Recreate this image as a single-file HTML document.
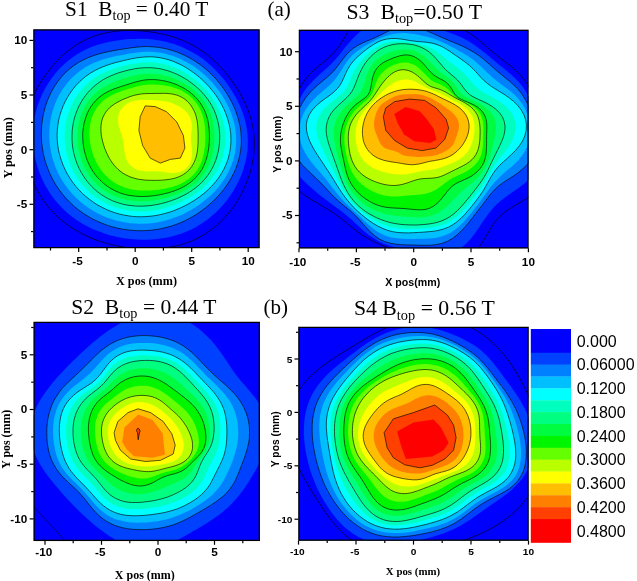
<!DOCTYPE html><html><head><meta charset="utf-8"><title>fig</title><style>
html,body{margin:0;padding:0;background:#fff}svg{display:block}
.tk{font-family:"Liberation Sans",Arial,sans-serif;font-weight:bold;fill:#000}
.ti{font-family:"Liberation Serif","Times New Roman",serif;fill:#000}
.ab{font-family:"Liberation Serif","Times New Roman",serif;font-weight:bold;fill:#000}
.as{font-family:"Liberation Sans",Arial,sans-serif;font-weight:bold;fill:#000}
.cb{font-family:"Liberation Sans",Arial,sans-serif;fill:#000}
</style></head><body>
<svg width="637" height="581" viewBox="0 0 637 581">
<rect width="637" height="581" fill="#fff"/>
<clipPath id="cs1"><rect x="33.5" y="29.5" width="226.0" height="218.5"/></clipPath>
<g clip-path="url(#cs1)">
<rect x="33.5" y="29.5" width="226.0" height="218.5" fill="#0000ff"/>
<path d="M33.0,129.9 L33.5,123.7 L34.5,117.5 L35.9,111.5 L37.6,105.5 L39.8,99.7 L42.2,94.1 L45.0,88.7 L48.1,83.4 L51.5,78.4 L55.2,73.6 L59.1,69.1 L63.3,64.9 L67.7,61.0 L72.4,57.4 L77.2,54.2 L82.2,51.3 L87.3,48.8 L92.6,46.6 L97.9,44.8 L103.2,43.3 L108.5,42.0 L113.7,41.0 L118.9,40.2 L124.0,39.6 L129.0,39.1 L133.9,38.9 L138.8,38.8 L143.7,38.8 L148.4,39.1 L153.1,39.5 L157.7,40.2 L162.3,41.0 L166.7,42.0 L171.1,43.2 L175.3,44.6 L179.5,46.1 L183.6,47.8 L187.5,49.7 L191.4,51.7 L195.1,53.8 L198.7,56.1 L202.2,58.6 L205.5,61.1 L208.7,63.8 L211.8,66.6 L214.8,69.4 L217.7,72.4 L220.4,75.5 L223.1,78.6 L225.6,81.8 L228.0,85.1 L230.3,88.5 L232.5,91.9 L234.6,95.4 L236.6,99.0 L238.5,102.7 L240.2,106.5 L241.8,110.4 L243.2,114.3 L244.5,118.3 L245.5,122.5 L246.4,126.6 L247.1,130.9 L247.6,135.1 L247.8,139.5 L247.8,143.8 L247.6,148.2 L247.2,152.6 L246.5,156.9 L245.6,161.3 L244.5,165.6 L243.2,169.9 L241.7,174.1 L239.9,178.3 L238.0,182.4 L235.9,186.5 L233.6,190.4 L231.1,194.3 L228.4,198.2 L225.6,201.9 L222.5,205.5 L219.3,209.0 L215.9,212.4 L212.3,215.6 L208.5,218.7 L204.6,221.6 L200.5,224.3 L196.2,226.9 L191.8,229.2 L187.2,231.3 L182.5,233.2 L177.7,234.8 L172.7,236.2 L167.7,237.4 L162.6,238.3 L157.4,239.1 L152.1,239.5 L146.8,239.8 L141.5,239.8 L136.1,239.6 L130.6,239.1 L125.2,238.4 L119.7,237.5 L114.2,236.3 L108.7,234.9 L103.3,233.1 L97.8,231.1 L92.5,228.9 L87.2,226.3 L82.0,223.4 L77.0,220.2 L72.1,216.7 L67.4,212.9 L62.9,208.8 L58.7,204.3 L54.7,199.7 L51.0,194.7 L47.7,189.5 L44.6,184.2 L41.9,178.6 L39.5,172.8 L37.5,166.9 L35.8,160.9 L34.5,154.8 L33.5,148.6 L32.9,142.4 L32.8,136.1Z" fill="#0040ff"/>
<path d="M41.4,130.1 L41.8,124.3 L42.6,118.5 L43.7,112.8 L45.2,107.2 L47.0,101.7 L49.2,96.4 L51.7,91.2 L54.6,86.3 L57.8,81.5 L61.3,77.1 L65.1,72.9 L69.3,69.1 L73.7,65.7 L78.4,62.6 L83.2,59.9 L88.2,57.6 L93.3,55.7 L98.4,54.1 L103.5,52.7 L108.5,51.6 L113.4,50.7 L118.1,49.8 L122.8,49.1 L127.3,48.4 L131.8,47.7 L136.3,47.2 L140.7,46.8 L145.0,46.6 L149.3,46.6 L153.6,46.9 L157.9,47.3 L162.1,48.0 L166.2,48.8 L170.3,49.9 L174.2,51.1 L178.1,52.5 L181.8,54.1 L185.5,55.8 L189.1,57.6 L192.5,59.6 L195.9,61.7 L199.1,63.9 L202.3,66.3 L205.3,68.7 L208.2,71.2 L211.0,73.9 L213.7,76.6 L216.3,79.4 L218.7,82.3 L221.1,85.3 L223.4,88.4 L225.5,91.5 L227.6,94.7 L229.5,98.0 L231.4,101.4 L233.0,104.8 L234.6,108.3 L236.0,112.0 L237.3,115.6 L238.4,119.4 L239.4,123.2 L240.2,127.1 L240.8,131.0 L241.1,135.0 L241.3,139.0 L241.3,143.0 L241.0,147.1 L240.5,151.1 L239.8,155.1 L238.9,159.1 L237.8,163.0 L236.4,166.9 L234.9,170.7 L233.1,174.4 L231.2,178.1 L229.1,181.7 L226.8,185.1 L224.4,188.5 L221.8,191.8 L219.1,195.0 L216.2,198.1 L213.2,201.1 L210.0,204.0 L206.8,206.8 L203.3,209.5 L199.8,212.1 L196.1,214.5 L192.3,216.8 L188.4,219.0 L184.4,221.0 L180.2,222.8 L175.9,224.5 L171.5,226.0 L167.0,227.3 L162.3,228.4 L157.6,229.3 L152.8,230.0 L148.0,230.5 L143.0,230.7 L138.1,230.7 L133.0,230.4 L128.0,229.9 L122.9,229.2 L117.8,228.2 L112.7,226.9 L107.7,225.4 L102.7,223.5 L97.7,221.4 L92.8,219.1 L88.1,216.4 L83.4,213.4 L78.9,210.2 L74.6,206.7 L70.4,202.9 L66.5,198.8 L62.8,194.6 L59.3,190.0 L56.1,185.3 L53.2,180.3 L50.6,175.2 L48.3,169.9 L46.3,164.5 L44.6,158.9 L43.3,153.3 L42.3,147.5 L41.6,141.7 L41.3,135.9Z" fill="#0080ff"/>
<path d="M49.4,130.3 L49.8,124.9 L50.6,119.5 L51.7,114.2 L53.2,109.0 L55.0,103.9 L57.1,99.0 L59.6,94.3 L62.3,89.7 L65.4,85.4 L68.7,81.3 L72.3,77.4 L76.1,73.9 L80.2,70.7 L84.5,67.8 L88.9,65.3 L93.5,63.1 L98.1,61.2 L102.8,59.6 L107.4,58.3 L112.0,57.1 L116.4,56.1 L120.8,55.2 L125.1,54.4 L129.4,53.6 L133.5,52.9 L137.7,52.4 L141.8,52.0 L145.9,51.8 L150.0,51.7 L154.0,51.9 L158.0,52.4 L162.0,53.0 L165.8,53.9 L169.6,54.9 L173.3,56.1 L177.0,57.5 L180.5,59.0 L183.9,60.7 L187.2,62.4 L190.4,64.3 L193.6,66.3 L196.6,68.4 L199.5,70.6 L202.3,72.9 L205.0,75.3 L207.6,77.8 L210.1,80.3 L212.6,83.0 L214.9,85.7 L217.1,88.4 L219.2,91.3 L221.3,94.2 L223.2,97.2 L225.0,100.3 L226.7,103.4 L228.3,106.6 L229.8,109.9 L231.1,113.3 L232.3,116.8 L233.4,120.3 L234.3,123.8 L235.0,127.5 L235.6,131.1 L236.0,134.9 L236.1,138.6 L236.1,142.4 L235.9,146.2 L235.4,149.9 L234.8,153.7 L233.9,157.4 L232.9,161.1 L231.6,164.7 L230.1,168.3 L228.5,171.8 L226.7,175.2 L224.7,178.5 L222.5,181.8 L220.2,184.9 L217.7,187.9 L215.1,190.9 L212.4,193.7 L209.5,196.4 L206.5,199.1 L203.4,201.6 L200.2,204.0 L196.9,206.3 L193.5,208.5 L189.9,210.6 L186.3,212.6 L182.5,214.4 L178.7,216.1 L174.7,217.6 L170.6,219.0 L166.4,220.3 L162.2,221.3 L157.8,222.2 L153.4,222.9 L148.9,223.4 L144.3,223.7 L139.6,223.7 L134.9,223.6 L130.2,223.2 L125.5,222.5 L120.7,221.6 L116.0,220.5 L111.3,219.0 L106.6,217.4 L102.0,215.4 L97.4,213.2 L93.0,210.7 L88.6,208.0 L84.4,205.0 L80.4,201.7 L76.5,198.2 L72.8,194.4 L69.3,190.4 L66.1,186.2 L63.0,181.8 L60.3,177.2 L57.8,172.4 L55.6,167.5 L53.8,162.4 L52.2,157.2 L51.0,151.9 L50.1,146.6 L49.5,141.2 L49.2,135.7Z" fill="#00bfff"/>
<path d="M57.3,130.5 L57.8,125.5 L58.6,120.5 L59.8,115.6 L61.3,110.8 L63.0,106.2 L65.1,101.7 L67.5,97.3 L70.1,93.1 L72.9,89.2 L76.0,85.4 L79.4,81.9 L82.9,78.7 L86.6,75.7 L90.5,73.1 L94.6,70.7 L98.7,68.6 L102.9,66.8 L107.1,65.2 L111.3,63.8 L115.4,62.6 L119.5,61.6 L123.5,60.6 L127.5,59.7 L131.4,58.8 L135.3,58.1 L139.1,57.5 L143.0,57.1 L146.8,56.9 L150.6,56.8 L154.4,57.0 L158.1,57.4 L161.8,58.1 L165.5,58.9 L169.0,59.9 L172.5,61.1 L175.8,62.5 L179.1,63.9 L182.3,65.5 L185.4,67.3 L188.3,69.1 L191.2,71.0 L194.0,73.0 L196.7,75.0 L199.3,77.2 L201.8,79.4 L204.3,81.7 L206.6,84.1 L208.9,86.5 L211.0,89.0 L213.1,91.6 L215.1,94.2 L217.0,96.9 L218.8,99.7 L220.5,102.5 L222.1,105.5 L223.6,108.5 L225.0,111.5 L226.2,114.7 L227.4,117.9 L228.3,121.1 L229.2,124.5 L229.9,127.8 L230.4,131.3 L230.8,134.7 L230.9,138.2 L230.9,141.7 L230.7,145.3 L230.3,148.8 L229.7,152.3 L228.9,155.8 L228.0,159.2 L226.8,162.6 L225.4,165.9 L223.9,169.2 L222.1,172.3 L220.2,175.4 L218.2,178.4 L216.0,181.3 L213.6,184.1 L211.2,186.7 L208.6,189.3 L205.9,191.8 L203.0,194.1 L200.1,196.4 L197.1,198.5 L194.0,200.6 L190.8,202.5 L187.5,204.4 L184.2,206.1 L180.7,207.8 L177.1,209.3 L173.5,210.8 L169.8,212.1 L165.9,213.2 L162.0,214.2 L158.0,215.1 L153.9,215.8 L149.7,216.3 L145.5,216.6 L141.2,216.8 L136.8,216.7 L132.5,216.4 L128.1,215.8 L123.6,215.0 L119.2,214.0 L114.8,212.7 L110.5,211.2 L106.2,209.4 L102.0,207.3 L97.8,205.1 L93.8,202.5 L89.9,199.7 L86.1,196.7 L82.5,193.5 L79.1,190.0 L75.8,186.3 L72.8,182.4 L70.0,178.3 L67.4,174.1 L65.1,169.6 L63.0,165.0 L61.3,160.3 L59.8,155.5 L58.6,150.6 L57.8,145.6 L57.3,140.6 L57.1,135.5Z" fill="#00ffff"/>
<path d="M64.8,130.7 L65.3,126.0 L66.0,121.4 L67.1,116.9 L68.5,112.4 L70.1,108.1 L72.0,103.9 L74.2,99.9 L76.6,96.0 L79.2,92.3 L82.1,88.9 L85.2,85.6 L88.4,82.6 L91.9,79.8 L95.4,77.3 L99.2,75.1 L103.0,73.1 L106.8,71.3 L110.7,69.8 L114.6,68.5 L118.4,67.3 L122.2,66.3 L125.9,65.3 L129.6,64.5 L133.3,63.8 L136.9,63.2 L140.6,62.7 L144.1,62.4 L147.7,62.3 L151.3,62.3 L154.8,62.6 L158.3,63.0 L161.7,63.6 L165.1,64.4 L168.3,65.3 L171.6,66.4 L174.7,67.7 L177.7,69.0 L180.7,70.4 L183.5,72.0 L186.3,73.6 L189.0,75.3 L191.6,77.2 L194.2,79.0 L196.6,81.0 L199.0,83.0 L201.3,85.1 L203.5,87.3 L205.6,89.6 L207.6,91.9 L209.6,94.3 L211.4,96.8 L213.2,99.3 L214.8,101.9 L216.4,104.6 L217.8,107.4 L219.2,110.2 L220.4,113.0 L221.5,116.0 L222.4,119.0 L223.3,122.0 L224.0,125.1 L224.5,128.2 L224.9,131.4 L225.2,134.6 L225.3,137.8 L225.3,141.1 L225.1,144.3 L224.7,147.5 L224.2,150.8 L223.5,154.0 L222.7,157.2 L221.6,160.3 L220.5,163.4 L219.1,166.5 L217.6,169.5 L215.9,172.4 L214.1,175.2 L212.1,178.0 L210.0,180.6 L207.8,183.2 L205.4,185.6 L202.9,188.0 L200.3,190.2 L197.6,192.3 L194.8,194.4 L191.9,196.3 L188.9,198.1 L185.8,199.8 L182.6,201.4 L179.4,202.9 L176.0,204.3 L172.6,205.6 L169.1,206.8 L165.5,207.9 L161.9,208.9 L158.1,209.7 L154.3,210.4 L150.4,210.9 L146.4,211.3 L142.4,211.4 L138.3,211.4 L134.2,211.2 L130.0,210.8 L125.8,210.1 L121.6,209.2 L117.5,208.1 L113.3,206.7 L109.3,205.0 L105.3,203.1 L101.4,201.0 L97.6,198.6 L93.9,195.9 L90.4,193.0 L87.1,189.9 L83.9,186.6 L80.9,183.1 L78.2,179.4 L75.6,175.5 L73.3,171.4 L71.3,167.2 L69.5,162.9 L68.0,158.5 L66.7,153.9 L65.7,149.4 L65.1,144.7 L64.7,140.0 L64.6,135.3Z" fill="#00ffbf"/>
<path d="M72.2,130.8 L72.7,126.6 L73.4,122.3 L74.4,118.2 L75.7,114.1 L77.2,110.1 L78.9,106.2 L80.9,102.5 L83.1,98.9 L85.5,95.5 L88.1,92.3 L91.0,89.3 L93.9,86.5 L97.1,83.9 L100.4,81.5 L103.7,79.4 L107.2,77.5 L110.7,75.9 L114.3,74.4 L117.8,73.1 L121.3,72.0 L124.9,71.0 L128.3,70.1 L131.8,69.4 L135.2,68.7 L138.6,68.2 L142.0,67.9 L145.3,67.7 L148.7,67.7 L152.0,67.8 L155.2,68.1 L158.4,68.5 L161.6,69.1 L164.7,69.9 L167.7,70.7 L170.6,71.7 L173.5,72.8 L176.3,74.0 L179.1,75.3 L181.7,76.7 L184.3,78.2 L186.8,79.7 L189.3,81.4 L191.6,83.1 L193.9,84.8 L196.1,86.7 L198.3,88.6 L200.4,90.6 L202.3,92.7 L204.2,94.8 L206.1,97.1 L207.8,99.4 L209.4,101.7 L210.9,104.2 L212.3,106.7 L213.6,109.2 L214.8,111.9 L215.8,114.6 L216.7,117.3 L217.5,120.1 L218.2,122.9 L218.8,125.8 L219.2,128.6 L219.5,131.5 L219.7,134.5 L219.7,137.4 L219.6,140.4 L219.4,143.3 L219.1,146.3 L218.7,149.2 L218.1,152.2 L217.3,155.1 L216.5,158.0 L215.5,160.9 L214.3,163.8 L213.1,166.6 L211.6,169.4 L210.0,172.0 L208.3,174.7 L206.4,177.2 L204.4,179.6 L202.2,182.0 L200.0,184.2 L197.5,186.3 L195.0,188.3 L192.4,190.2 L189.7,192.0 L186.9,193.7 L184.0,195.2 L181.0,196.7 L178.0,198.1 L174.9,199.3 L171.7,200.5 L168.5,201.6 L165.1,202.6 L161.7,203.5 L158.3,204.3 L154.7,204.9 L151.1,205.5 L147.4,205.9 L143.6,206.1 L139.8,206.2 L135.9,206.1 L131.9,205.7 L128.0,205.2 L124.0,204.5 L120.1,203.4 L116.2,202.2 L112.3,200.7 L108.6,198.9 L104.9,196.9 L101.3,194.6 L97.9,192.1 L94.7,189.4 L91.6,186.4 L88.7,183.2 L86.0,179.8 L83.6,176.3 L81.3,172.6 L79.3,168.8 L77.5,164.8 L76.0,160.8 L74.7,156.6 L73.6,152.4 L72.8,148.1 L72.3,143.8 L72.0,139.5 L72.0,135.2Z" fill="#00ff80"/>
<path d="M77.6,131.0 L78.0,127.0 L78.7,123.0 L79.7,119.1 L80.9,115.2 L82.3,111.5 L84.0,107.9 L86.0,104.5 L88.2,101.2 L90.6,98.1 L93.2,95.2 L96.1,92.5 L99.1,90.1 L102.2,87.9 L105.5,86.0 L108.8,84.2 L112.1,82.7 L115.4,81.3 L118.7,80.1 L122.0,79.0 L125.2,78.0 L128.3,77.1 L131.4,76.2 L134.5,75.5 L137.6,74.8 L140.6,74.3 L143.7,73.9 L146.7,73.7 L149.7,73.6 L152.7,73.7 L155.6,73.9 L158.6,74.3 L161.4,74.8 L164.3,75.4 L167.0,76.1 L169.7,76.9 L172.4,77.8 L175.0,78.8 L177.5,79.9 L180.0,81.1 L182.5,82.3 L184.8,83.7 L187.1,85.1 L189.4,86.6 L191.5,88.2 L193.6,89.9 L195.6,91.7 L197.6,93.5 L199.4,95.5 L201.2,97.5 L202.8,99.6 L204.4,101.7 L205.9,104.0 L207.2,106.3 L208.4,108.6 L209.6,111.0 L210.6,113.5 L211.4,116.0 L212.2,118.6 L212.9,121.1 L213.4,123.7 L213.8,126.4 L214.2,129.0 L214.4,131.7 L214.5,134.3 L214.6,137.0 L214.5,139.7 L214.4,142.4 L214.1,145.2 L213.8,147.9 L213.3,150.6 L212.7,153.3 L212.1,156.1 L211.3,158.8 L210.3,161.5 L209.2,164.2 L208.0,166.8 L206.6,169.4 L205.1,171.9 L203.5,174.4 L201.6,176.7 L199.7,179.0 L197.6,181.2 L195.4,183.2 L193.0,185.1 L190.5,186.9 L188.0,188.6 L185.3,190.2 L182.6,191.6 L179.8,192.9 L176.9,194.2 L174.0,195.3 L171.0,196.3 L167.9,197.3 L164.8,198.2 L161.6,198.9 L158.4,199.6 L155.0,200.2 L151.7,200.7 L148.2,201.0 L144.7,201.3 L141.1,201.3 L137.5,201.3 L133.8,201.0 L130.1,200.5 L126.3,199.9 L122.6,199.0 L118.9,197.8 L115.3,196.5 L111.7,194.8 L108.3,193.0 L104.9,190.9 L101.7,188.5 L98.6,185.9 L95.7,183.2 L93.0,180.2 L90.5,177.0 L88.2,173.7 L86.1,170.2 L84.2,166.6 L82.5,162.9 L81.1,159.1 L79.9,155.2 L78.9,151.2 L78.2,147.2 L77.7,143.2 L77.4,139.1 L77.4,135.0Z" fill="#00fc40"/>
<path d="M82.9,131.1 L83.4,127.3 L84.0,123.6 L85.0,120.0 L86.1,116.4 L87.5,112.9 L89.2,109.6 L91.1,106.4 L93.3,103.4 L95.7,100.6 L98.3,98.1 L101.2,95.8 L104.2,93.7 L107.4,91.9 L110.6,90.4 L113.8,89.0 L117.0,87.9 L120.2,86.8 L123.2,85.8 L126.1,84.9 L129.0,84.0 L131.8,83.1 L134.5,82.3 L137.2,81.6 L139.9,80.9 L142.6,80.3 L145.3,79.9 L148.0,79.7 L150.7,79.6 L153.4,79.6 L156.1,79.7 L158.7,80.0 L161.3,80.4 L163.8,80.8 L166.4,81.4 L168.8,82.0 L171.3,82.7 L173.7,83.6 L176.0,84.4 L178.4,85.4 L180.6,86.5 L182.8,87.6 L185.0,88.9 L187.1,90.2 L189.1,91.6 L191.1,93.2 L193.0,94.8 L194.8,96.5 L196.5,98.3 L198.1,100.1 L199.6,102.1 L201.0,104.1 L202.3,106.2 L203.5,108.4 L204.6,110.6 L205.5,112.8 L206.3,115.1 L207.1,117.5 L207.7,119.8 L208.2,122.2 L208.6,124.6 L208.9,127.0 L209.1,129.4 L209.3,131.8 L209.4,134.2 L209.4,136.6 L209.4,139.1 L209.3,141.6 L209.1,144.0 L208.9,146.5 L208.6,149.0 L208.1,151.6 L207.6,154.1 L207.0,156.7 L206.3,159.2 L205.4,161.8 L204.4,164.3 L203.3,166.8 L202.0,169.2 L200.5,171.6 L198.9,173.8 L197.1,176.0 L195.2,178.1 L193.2,180.1 L191.0,181.9 L188.7,183.6 L186.3,185.2 L183.8,186.6 L181.2,188.0 L178.6,189.2 L175.8,190.3 L173.1,191.3 L170.3,192.2 L167.4,193.0 L164.5,193.7 L161.5,194.4 L158.5,195.0 L155.4,195.5 L152.2,195.9 L149.0,196.2 L145.8,196.4 L142.4,196.5 L139.0,196.4 L135.6,196.2 L132.1,195.8 L128.7,195.3 L125.2,194.5 L121.7,193.5 L118.3,192.2 L114.9,190.7 L111.7,189.0 L108.5,187.1 L105.5,184.9 L102.6,182.5 L99.9,179.9 L97.3,177.2 L94.9,174.2 L92.8,171.1 L90.8,167.8 L89.1,164.4 L87.5,161.0 L86.2,157.4 L85.1,153.7 L84.2,150.0 L83.5,146.3 L83.0,142.5 L82.8,138.7 L82.7,134.9Z" fill="#00f600"/>
<path d="M89.4,131.3 L89.7,127.8 L90.1,124.4 L90.9,121.0 L91.8,117.7 L93.1,114.5 L94.6,111.4 L96.4,108.5 L98.4,105.7 L100.7,103.2 L103.2,100.8 L105.9,98.8 L108.8,96.9 L111.7,95.3 L114.6,93.9 L117.6,92.6 L120.5,91.5 L123.3,90.5 L126.1,89.6 L128.8,88.7 L131.5,87.9 L134.1,87.2 L136.6,86.6 L139.2,86.0 L141.7,85.5 L144.2,85.1 L146.7,84.8 L149.1,84.6 L151.6,84.6 L154.0,84.6 L156.4,84.7 L158.8,84.8 L161.2,85.0 L163.5,85.3 L165.8,85.7 L168.1,86.1 L170.4,86.6 L172.7,87.2 L174.9,87.9 L177.1,88.7 L179.2,89.6 L181.3,90.6 L183.4,91.7 L185.4,92.9 L187.3,94.2 L189.2,95.6 L190.9,97.1 L192.6,98.7 L194.2,100.4 L195.7,102.2 L197.0,104.1 L198.3,106.0 L199.4,108.0 L200.5,110.1 L201.4,112.2 L202.2,114.3 L202.9,116.5 L203.5,118.6 L204.0,120.8 L204.4,123.0 L204.7,125.2 L205.0,127.5 L205.1,129.7 L205.3,131.9 L205.3,134.1 L205.4,136.3 L205.3,138.6 L205.3,140.9 L205.1,143.1 L205.0,145.4 L204.7,147.8 L204.4,150.1 L204.0,152.5 L203.5,154.9 L202.9,157.3 L202.2,159.7 L201.3,162.1 L200.3,164.4 L199.1,166.8 L197.8,169.0 L196.3,171.2 L194.7,173.2 L192.9,175.2 L191.0,177.0 L189.0,178.7 L186.8,180.3 L184.5,181.7 L182.2,183.0 L179.7,184.2 L177.2,185.2 L174.7,186.1 L172.1,186.9 L169.5,187.6 L166.8,188.2 L164.1,188.8 L161.4,189.3 L158.6,189.7 L155.8,190.0 L152.9,190.3 L150.0,190.5 L147.1,190.6 L144.1,190.6 L141.0,190.5 L137.9,190.3 L134.8,189.9 L131.6,189.4 L128.5,188.6 L125.4,187.7 L122.3,186.6 L119.2,185.2 L116.3,183.7 L113.4,181.9 L110.7,179.9 L108.1,177.8 L105.7,175.4 L103.4,172.9 L101.3,170.2 L99.3,167.4 L97.5,164.4 L95.9,161.4 L94.5,158.3 L93.2,155.1 L92.2,151.8 L91.2,148.4 L90.5,145.1 L90.0,141.6 L89.6,138.2 L89.4,134.7Z" fill="#64ff00"/>
<path d="M101.0,131.6 L100.9,128.6 L101.0,125.7 L101.4,122.8 L102.0,120.0 L103.0,117.2 L104.3,114.6 L105.8,112.1 L107.7,109.8 L109.7,107.7 L112.0,105.8 L114.4,104.1 L116.8,102.6 L119.3,101.3 L121.8,100.0 L124.2,98.9 L126.6,98.0 L129.0,97.0 L131.3,96.2 L133.6,95.5 L135.9,94.9 L138.2,94.5 L140.4,94.1 L142.6,93.8 L144.8,93.7 L147.0,93.6 L149.1,93.5 L151.1,93.5 L153.1,93.5 L155.1,93.4 L157.1,93.4 L159.0,93.4 L161.0,93.4 L162.9,93.3 L164.9,93.4 L166.9,93.4 L168.9,93.6 L170.8,93.8 L172.8,94.1 L174.8,94.6 L176.8,95.1 L178.7,95.8 L180.6,96.7 L182.4,97.6 L184.1,98.7 L185.8,100.0 L187.3,101.3 L188.8,102.8 L190.1,104.3 L191.3,106.0 L192.4,107.7 L193.4,109.5 L194.3,111.3 L195.1,113.1 L195.7,115.0 L196.3,116.9 L196.7,118.8 L197.1,120.7 L197.4,122.6 L197.6,124.5 L197.8,126.4 L197.9,128.3 L198.0,130.2 L198.1,132.1 L198.1,133.9 L198.1,135.8 L198.1,137.7 L198.1,139.6 L198.1,141.6 L198.0,143.5 L197.9,145.5 L197.8,147.6 L197.5,149.6 L197.3,151.8 L196.9,153.9 L196.4,156.0 L195.8,158.2 L195.0,160.3 L194.1,162.4 L193.0,164.4 L191.8,166.4 L190.4,168.3 L188.9,170.0 L187.2,171.6 L185.4,173.1 L183.5,174.4 L181.4,175.6 L179.3,176.6 L177.1,177.5 L174.9,178.2 L172.7,178.7 L170.4,179.2 L168.1,179.5 L165.8,179.8 L163.5,180.0 L161.2,180.2 L158.8,180.3 L156.5,180.3 L154.2,180.4 L151.8,180.3 L149.4,180.3 L146.9,180.2 L144.5,180.0 L142.0,179.7 L139.4,179.4 L136.9,178.9 L134.4,178.2 L131.8,177.5 L129.3,176.5 L126.9,175.4 L124.5,174.1 L122.2,172.7 L120.0,171.0 L118.0,169.3 L116.0,167.3 L114.2,165.3 L112.5,163.1 L110.9,160.8 L109.4,158.4 L108.1,156.0 L106.9,153.5 L105.8,150.9 L104.7,148.3 L103.8,145.6 L103.0,142.9 L102.3,140.1 L101.7,137.3 L101.2,134.4Z" fill="#b9ff00"/>
<path d="M120.6,132.0 L120.0,130.0 L119.4,128.0 L118.8,125.9 L118.4,123.7 L118.2,121.4 L118.1,119.2 L118.3,116.9 L118.7,114.7 L119.4,112.6 L120.4,110.6 L121.6,108.7 L123.0,107.0 L124.7,105.4 L126.5,104.1 L128.5,103.0 L130.5,102.1 L132.7,101.3 L134.8,100.8 L137.0,100.4 L139.2,100.1 L141.3,99.9 L143.3,99.9 L145.3,99.9 L147.2,99.9 L149.1,99.9 L150.9,100.0 L152.6,100.1 L154.3,100.2 L156.0,100.3 L157.6,100.4 L159.2,100.5 L160.8,100.7 L162.4,100.9 L163.9,101.1 L165.5,101.4 L167.0,101.7 L168.5,102.1 L170.1,102.6 L171.5,103.1 L173.0,103.6 L174.5,104.2 L175.9,104.9 L177.4,105.6 L178.8,106.3 L180.2,107.1 L181.6,108.0 L182.9,109.0 L184.2,110.0 L185.4,111.1 L186.6,112.3 L187.6,113.5 L188.6,114.9 L189.5,116.3 L190.2,117.8 L190.8,119.4 L191.3,120.9 L191.6,122.6 L191.8,124.2 L191.9,125.8 L191.8,127.5 L191.8,129.1 L191.6,130.7 L191.5,132.2 L191.3,133.8 L191.2,135.3 L191.1,136.8 L191.0,138.4 L191.1,140.0 L191.2,141.6 L191.3,143.4 L191.5,145.2 L191.7,147.1 L191.9,149.1 L192.0,151.1 L192.0,153.3 L191.9,155.5 L191.6,157.7 L191.2,159.9 L190.5,162.0 L189.5,164.0 L188.4,165.9 L187.0,167.6 L185.4,169.1 L183.6,170.3 L181.7,171.3 L179.7,172.0 L177.5,172.6 L175.4,172.8 L173.2,172.9 L171.0,172.9 L168.9,172.7 L166.8,172.5 L164.8,172.2 L162.9,171.9 L160.9,171.6 L159.1,171.5 L157.2,171.3 L155.3,171.3 L153.4,171.3 L151.4,171.3 L149.4,171.3 L147.3,171.4 L145.2,171.3 L143.1,171.1 L141.0,170.8 L138.8,170.3 L136.8,169.7 L134.8,168.8 L133.0,167.6 L131.3,166.3 L129.8,164.8 L128.4,163.1 L127.3,161.2 L126.4,159.2 L125.7,157.2 L125.1,155.1 L124.7,153.0 L124.4,150.9 L124.2,148.9 L124.0,146.9 L123.8,145.0 L123.6,143.1 L123.3,141.2 L122.9,139.4 L122.4,137.6 L121.9,135.8 L121.3,134.0Z" fill="#ffff00"/>
<path d="M145.2,105.9 L155.2,106.6 L166.5,111.7 L176.6,121.7 L183.4,135.5 L184.9,148.1 L180.4,158.1 L170.3,159.4 L160.3,163.1 L150.2,158.1 L142.7,145.6 L138.9,130.5 L140.2,116.7Z" fill="#ffbf00"/>
<path d="M24.5,129.7 L25.3,123.1 L26.5,116.5 L28.1,110.1 L30.1,103.8 L32.5,97.7 L35.3,91.8 L38.4,86.1 L41.7,80.6 L45.3,75.3 L49.1,70.2 L53.1,65.3 L57.3,60.7 L61.7,56.3 L66.3,52.2 L71.1,48.4 L76.2,44.9 L81.4,41.9 L86.8,39.2 L92.3,36.8 L97.9,34.9 L103.6,33.4 L109.3,32.2 L115.0,31.4 L120.6,30.8 L126.2,30.5 L131.6,30.5 L137.0,30.7 L142.3,31.0 L147.5,31.5 L152.6,32.2 L157.5,33.1 L162.4,34.1 L167.2,35.2 L171.9,36.5 L176.5,38.0 L181.0,39.7 L185.3,41.5 L189.6,43.5 L193.7,45.7 L197.7,48.1 L201.5,50.6 L205.2,53.2 L208.8,56.0 L212.2,58.9 L215.5,61.9 L218.6,65.0 L221.7,68.2 L224.6,71.5 L227.4,74.9 L230.1,78.3 L232.6,81.8 L235.1,85.4 L237.5,89.1 L239.7,92.9 L241.9,96.7 L243.9,100.6 L245.8,104.7 L247.5,108.8 L249.1,113.0 L250.5,117.3 L251.7,121.7 L252.7,126.2 L253.4,130.7 L254.0,135.3 L254.3,140.0 L254.4,144.6 L254.2,149.3 L253.8,154.1 L253.2,158.8 L252.3,163.5 L251.2,168.2 L250.0,172.9 L248.5,177.5 L246.7,182.1 L244.8,186.7 L242.7,191.3 L240.4,195.7 L237.8,200.1 L235.1,204.5 L232.1,208.7 L228.9,212.8 L225.4,216.8 L221.8,220.7 L217.9,224.4 L213.7,227.8 L209.4,231.1 L204.8,234.1 L200.1,236.9 L195.1,239.4 L190.0,241.6 L184.8,243.5 L179.5,245.1 L174.0,246.4 L168.4,247.5 L162.8,248.3 L157.2,248.8 L151.4,249.0 L145.7,249.1 L139.9,248.9 L134.1,248.4 L128.2,247.8 L122.4,246.9 L116.5,245.8 L110.6,244.4 L104.7,242.8 L98.9,240.9 L93.0,238.8 L87.3,236.3 L81.6,233.5 L76.0,230.4 L70.5,227.0 L65.3,223.2 L60.2,219.1 L55.4,214.6 L50.9,209.8 L46.7,204.8 L42.7,199.4 L39.2,193.8 L36.0,188.0 L33.1,181.9 L30.7,175.7 L28.6,169.4 L26.9,162.9 L25.6,156.3 L24.8,149.7 L24.3,143.0 L24.2,136.3Z" fill="none" stroke="#000" stroke-opacity="0.85" stroke-width="0.75" stroke-linejoin="round"/>
<path d="M41.4,130.1 L41.8,124.3 L42.6,118.5 L43.7,112.8 L45.2,107.2 L47.0,101.7 L49.2,96.4 L51.7,91.2 L54.6,86.3 L57.8,81.5 L61.3,77.1 L65.1,72.9 L69.3,69.1 L73.7,65.7 L78.4,62.6 L83.2,59.9 L88.2,57.6 L93.3,55.7 L98.4,54.1 L103.5,52.7 L108.5,51.6 L113.4,50.7 L118.1,49.8 L122.8,49.1 L127.3,48.4 L131.8,47.7 L136.3,47.2 L140.7,46.8 L145.0,46.6 L149.3,46.6 L153.6,46.9 L157.9,47.3 L162.1,48.0 L166.2,48.8 L170.3,49.9 L174.2,51.1 L178.1,52.5 L181.8,54.1 L185.5,55.8 L189.1,57.6 L192.5,59.6 L195.9,61.7 L199.1,63.9 L202.3,66.3 L205.3,68.7 L208.2,71.2 L211.0,73.9 L213.7,76.6 L216.3,79.4 L218.7,82.3 L221.1,85.3 L223.4,88.4 L225.5,91.5 L227.6,94.7 L229.5,98.0 L231.4,101.4 L233.0,104.8 L234.6,108.3 L236.0,112.0 L237.3,115.6 L238.4,119.4 L239.4,123.2 L240.2,127.1 L240.8,131.0 L241.1,135.0 L241.3,139.0 L241.3,143.0 L241.0,147.1 L240.5,151.1 L239.8,155.1 L238.9,159.1 L237.8,163.0 L236.4,166.9 L234.9,170.7 L233.1,174.4 L231.2,178.1 L229.1,181.7 L226.8,185.1 L224.4,188.5 L221.8,191.8 L219.1,195.0 L216.2,198.1 L213.2,201.1 L210.0,204.0 L206.8,206.8 L203.3,209.5 L199.8,212.1 L196.1,214.5 L192.3,216.8 L188.4,219.0 L184.4,221.0 L180.2,222.8 L175.9,224.5 L171.5,226.0 L167.0,227.3 L162.3,228.4 L157.6,229.3 L152.8,230.0 L148.0,230.5 L143.0,230.7 L138.1,230.7 L133.0,230.4 L128.0,229.9 L122.9,229.2 L117.8,228.2 L112.7,226.9 L107.7,225.4 L102.7,223.5 L97.7,221.4 L92.8,219.1 L88.1,216.4 L83.4,213.4 L78.9,210.2 L74.6,206.7 L70.4,202.9 L66.5,198.8 L62.8,194.6 L59.3,190.0 L56.1,185.3 L53.2,180.3 L50.6,175.2 L48.3,169.9 L46.3,164.5 L44.6,158.9 L43.3,153.3 L42.3,147.5 L41.6,141.7 L41.3,135.9Z" fill="none" stroke="#000" stroke-opacity="0.85" stroke-width="0.75" stroke-linejoin="round"/>
<path d="M57.3,130.5 L57.8,125.5 L58.6,120.5 L59.8,115.6 L61.3,110.8 L63.0,106.2 L65.1,101.7 L67.5,97.3 L70.1,93.1 L72.9,89.2 L76.0,85.4 L79.4,81.9 L82.9,78.7 L86.6,75.7 L90.5,73.1 L94.6,70.7 L98.7,68.6 L102.9,66.8 L107.1,65.2 L111.3,63.8 L115.4,62.6 L119.5,61.6 L123.5,60.6 L127.5,59.7 L131.4,58.8 L135.3,58.1 L139.1,57.5 L143.0,57.1 L146.8,56.9 L150.6,56.8 L154.4,57.0 L158.1,57.4 L161.8,58.1 L165.5,58.9 L169.0,59.9 L172.5,61.1 L175.8,62.5 L179.1,63.9 L182.3,65.5 L185.4,67.3 L188.3,69.1 L191.2,71.0 L194.0,73.0 L196.7,75.0 L199.3,77.2 L201.8,79.4 L204.3,81.7 L206.6,84.1 L208.9,86.5 L211.0,89.0 L213.1,91.6 L215.1,94.2 L217.0,96.9 L218.8,99.7 L220.5,102.5 L222.1,105.5 L223.6,108.5 L225.0,111.5 L226.2,114.7 L227.4,117.9 L228.3,121.1 L229.2,124.5 L229.9,127.8 L230.4,131.3 L230.8,134.7 L230.9,138.2 L230.9,141.7 L230.7,145.3 L230.3,148.8 L229.7,152.3 L228.9,155.8 L228.0,159.2 L226.8,162.6 L225.4,165.9 L223.9,169.2 L222.1,172.3 L220.2,175.4 L218.2,178.4 L216.0,181.3 L213.6,184.1 L211.2,186.7 L208.6,189.3 L205.9,191.8 L203.0,194.1 L200.1,196.4 L197.1,198.5 L194.0,200.6 L190.8,202.5 L187.5,204.4 L184.2,206.1 L180.7,207.8 L177.1,209.3 L173.5,210.8 L169.8,212.1 L165.9,213.2 L162.0,214.2 L158.0,215.1 L153.9,215.8 L149.7,216.3 L145.5,216.6 L141.2,216.8 L136.8,216.7 L132.5,216.4 L128.1,215.8 L123.6,215.0 L119.2,214.0 L114.8,212.7 L110.5,211.2 L106.2,209.4 L102.0,207.3 L97.8,205.1 L93.8,202.5 L89.9,199.7 L86.1,196.7 L82.5,193.5 L79.1,190.0 L75.8,186.3 L72.8,182.4 L70.0,178.3 L67.4,174.1 L65.1,169.6 L63.0,165.0 L61.3,160.3 L59.8,155.5 L58.6,150.6 L57.8,145.6 L57.3,140.6 L57.1,135.5Z" fill="none" stroke="#000" stroke-opacity="0.85" stroke-width="0.75" stroke-linejoin="round"/>
<path d="M72.2,130.8 L72.7,126.6 L73.4,122.3 L74.4,118.2 L75.7,114.1 L77.2,110.1 L78.9,106.2 L80.9,102.5 L83.1,98.9 L85.5,95.5 L88.1,92.3 L91.0,89.3 L93.9,86.5 L97.1,83.9 L100.4,81.5 L103.7,79.4 L107.2,77.5 L110.7,75.9 L114.3,74.4 L117.8,73.1 L121.3,72.0 L124.9,71.0 L128.3,70.1 L131.8,69.4 L135.2,68.7 L138.6,68.2 L142.0,67.9 L145.3,67.7 L148.7,67.7 L152.0,67.8 L155.2,68.1 L158.4,68.5 L161.6,69.1 L164.7,69.9 L167.7,70.7 L170.6,71.7 L173.5,72.8 L176.3,74.0 L179.1,75.3 L181.7,76.7 L184.3,78.2 L186.8,79.7 L189.3,81.4 L191.6,83.1 L193.9,84.8 L196.1,86.7 L198.3,88.6 L200.4,90.6 L202.3,92.7 L204.2,94.8 L206.1,97.1 L207.8,99.4 L209.4,101.7 L210.9,104.2 L212.3,106.7 L213.6,109.2 L214.8,111.9 L215.8,114.6 L216.7,117.3 L217.5,120.1 L218.2,122.9 L218.8,125.8 L219.2,128.6 L219.5,131.5 L219.7,134.5 L219.7,137.4 L219.6,140.4 L219.4,143.3 L219.1,146.3 L218.7,149.2 L218.1,152.2 L217.3,155.1 L216.5,158.0 L215.5,160.9 L214.3,163.8 L213.1,166.6 L211.6,169.4 L210.0,172.0 L208.3,174.7 L206.4,177.2 L204.4,179.6 L202.2,182.0 L200.0,184.2 L197.5,186.3 L195.0,188.3 L192.4,190.2 L189.7,192.0 L186.9,193.7 L184.0,195.2 L181.0,196.7 L178.0,198.1 L174.9,199.3 L171.7,200.5 L168.5,201.6 L165.1,202.6 L161.7,203.5 L158.3,204.3 L154.7,204.9 L151.1,205.5 L147.4,205.9 L143.6,206.1 L139.8,206.2 L135.9,206.1 L131.9,205.7 L128.0,205.2 L124.0,204.5 L120.1,203.4 L116.2,202.2 L112.3,200.7 L108.6,198.9 L104.9,196.9 L101.3,194.6 L97.9,192.1 L94.7,189.4 L91.6,186.4 L88.7,183.2 L86.0,179.8 L83.6,176.3 L81.3,172.6 L79.3,168.8 L77.5,164.8 L76.0,160.8 L74.7,156.6 L73.6,152.4 L72.8,148.1 L72.3,143.8 L72.0,139.5 L72.0,135.2Z" fill="none" stroke="#000" stroke-opacity="0.85" stroke-width="0.75" stroke-linejoin="round"/>
<path d="M82.9,131.1 L83.4,127.3 L84.0,123.6 L85.0,120.0 L86.1,116.4 L87.5,112.9 L89.2,109.6 L91.1,106.4 L93.3,103.4 L95.7,100.6 L98.3,98.1 L101.2,95.8 L104.2,93.7 L107.4,91.9 L110.6,90.4 L113.8,89.0 L117.0,87.9 L120.2,86.8 L123.2,85.8 L126.1,84.9 L129.0,84.0 L131.8,83.1 L134.5,82.3 L137.2,81.6 L139.9,80.9 L142.6,80.3 L145.3,79.9 L148.0,79.7 L150.7,79.6 L153.4,79.6 L156.1,79.7 L158.7,80.0 L161.3,80.4 L163.8,80.8 L166.4,81.4 L168.8,82.0 L171.3,82.7 L173.7,83.6 L176.0,84.4 L178.4,85.4 L180.6,86.5 L182.8,87.6 L185.0,88.9 L187.1,90.2 L189.1,91.6 L191.1,93.2 L193.0,94.8 L194.8,96.5 L196.5,98.3 L198.1,100.1 L199.6,102.1 L201.0,104.1 L202.3,106.2 L203.5,108.4 L204.6,110.6 L205.5,112.8 L206.3,115.1 L207.1,117.5 L207.7,119.8 L208.2,122.2 L208.6,124.6 L208.9,127.0 L209.1,129.4 L209.3,131.8 L209.4,134.2 L209.4,136.6 L209.4,139.1 L209.3,141.6 L209.1,144.0 L208.9,146.5 L208.6,149.0 L208.1,151.6 L207.6,154.1 L207.0,156.7 L206.3,159.2 L205.4,161.8 L204.4,164.3 L203.3,166.8 L202.0,169.2 L200.5,171.6 L198.9,173.8 L197.1,176.0 L195.2,178.1 L193.2,180.1 L191.0,181.9 L188.7,183.6 L186.3,185.2 L183.8,186.6 L181.2,188.0 L178.6,189.2 L175.8,190.3 L173.1,191.3 L170.3,192.2 L167.4,193.0 L164.5,193.7 L161.5,194.4 L158.5,195.0 L155.4,195.5 L152.2,195.9 L149.0,196.2 L145.8,196.4 L142.4,196.5 L139.0,196.4 L135.6,196.2 L132.1,195.8 L128.7,195.3 L125.2,194.5 L121.7,193.5 L118.3,192.2 L114.9,190.7 L111.7,189.0 L108.5,187.1 L105.5,184.9 L102.6,182.5 L99.9,179.9 L97.3,177.2 L94.9,174.2 L92.8,171.1 L90.8,167.8 L89.1,164.4 L87.5,161.0 L86.2,157.4 L85.1,153.7 L84.2,150.0 L83.5,146.3 L83.0,142.5 L82.8,138.7 L82.7,134.9Z" fill="none" stroke="#000" stroke-opacity="0.85" stroke-width="0.75" stroke-linejoin="round"/>
<path d="M101.0,131.6 L100.9,128.6 L101.0,125.7 L101.4,122.8 L102.0,120.0 L103.0,117.2 L104.3,114.6 L105.8,112.1 L107.7,109.8 L109.7,107.7 L112.0,105.8 L114.4,104.1 L116.8,102.6 L119.3,101.3 L121.8,100.0 L124.2,98.9 L126.6,98.0 L129.0,97.0 L131.3,96.2 L133.6,95.5 L135.9,94.9 L138.2,94.5 L140.4,94.1 L142.6,93.8 L144.8,93.7 L147.0,93.6 L149.1,93.5 L151.1,93.5 L153.1,93.5 L155.1,93.4 L157.1,93.4 L159.0,93.4 L161.0,93.4 L162.9,93.3 L164.9,93.4 L166.9,93.4 L168.9,93.6 L170.8,93.8 L172.8,94.1 L174.8,94.6 L176.8,95.1 L178.7,95.8 L180.6,96.7 L182.4,97.6 L184.1,98.7 L185.8,100.0 L187.3,101.3 L188.8,102.8 L190.1,104.3 L191.3,106.0 L192.4,107.7 L193.4,109.5 L194.3,111.3 L195.1,113.1 L195.7,115.0 L196.3,116.9 L196.7,118.8 L197.1,120.7 L197.4,122.6 L197.6,124.5 L197.8,126.4 L197.9,128.3 L198.0,130.2 L198.1,132.1 L198.1,133.9 L198.1,135.8 L198.1,137.7 L198.1,139.6 L198.1,141.6 L198.0,143.5 L197.9,145.5 L197.8,147.6 L197.5,149.6 L197.3,151.8 L196.9,153.9 L196.4,156.0 L195.8,158.2 L195.0,160.3 L194.1,162.4 L193.0,164.4 L191.8,166.4 L190.4,168.3 L188.9,170.0 L187.2,171.6 L185.4,173.1 L183.5,174.4 L181.4,175.6 L179.3,176.6 L177.1,177.5 L174.9,178.2 L172.7,178.7 L170.4,179.2 L168.1,179.5 L165.8,179.8 L163.5,180.0 L161.2,180.2 L158.8,180.3 L156.5,180.3 L154.2,180.4 L151.8,180.3 L149.4,180.3 L146.9,180.2 L144.5,180.0 L142.0,179.7 L139.4,179.4 L136.9,178.9 L134.4,178.2 L131.8,177.5 L129.3,176.5 L126.9,175.4 L124.5,174.1 L122.2,172.7 L120.0,171.0 L118.0,169.3 L116.0,167.3 L114.2,165.3 L112.5,163.1 L110.9,160.8 L109.4,158.4 L108.1,156.0 L106.9,153.5 L105.8,150.9 L104.7,148.3 L103.8,145.6 L103.0,142.9 L102.3,140.1 L101.7,137.3 L101.2,134.4Z" fill="none" stroke="#000" stroke-opacity="0.85" stroke-width="0.75" stroke-linejoin="round"/>
<path d="M145.2,105.9 L155.2,106.6 L166.5,111.7 L176.6,121.7 L183.4,135.5 L184.9,148.1 L180.4,158.1 L170.3,159.4 L160.3,163.1 L150.2,158.1 L142.7,145.6 L138.9,130.5 L140.2,116.7Z" fill="none" stroke="#000" stroke-opacity="0.85" stroke-width="0.75" stroke-linejoin="round"/>
</g>
<rect x="33.9" y="29.9" width="225.2" height="217.7" fill="none" stroke="#000" stroke-width="1.3"/>
<path d="M78.7,248.0v4" stroke="#000" stroke-width="1.2"/>
<text transform="translate(77.5,264.5) scale(1.10,1)" text-anchor="middle" class="tk" font-size="10.7">-5</text>
<path d="M135.2,248.0v4" stroke="#000" stroke-width="1.2"/>
<text transform="translate(135.2,264.5) scale(1.10,1)" text-anchor="middle" class="tk" font-size="10.7">0</text>
<path d="M191.7,248.0v4" stroke="#000" stroke-width="1.2"/>
<text transform="translate(191.7,264.5) scale(1.10,1)" text-anchor="middle" class="tk" font-size="10.7">5</text>
<path d="M248.2,248.0v4" stroke="#000" stroke-width="1.2"/>
<text transform="translate(248.2,264.5) scale(1.10,1)" text-anchor="middle" class="tk" font-size="10.7">10</text>
<path d="M50.5,248.0v2.5" stroke="#000" stroke-width="1.2"/>
<path d="M107.0,248.0v2.5" stroke="#000" stroke-width="1.2"/>
<path d="M163.4,248.0v2.5" stroke="#000" stroke-width="1.2"/>
<path d="M219.9,248.0v2.5" stroke="#000" stroke-width="1.2"/>
<path d="M33.5,40.4h-4" stroke="#000" stroke-width="1.2"/>
<text transform="translate(27.3,44.3) scale(1.10,1)" text-anchor="end" class="tk" font-size="10.7">10</text>
<path d="M33.5,95.0h-4" stroke="#000" stroke-width="1.2"/>
<text transform="translate(27.3,98.9) scale(1.10,1)" text-anchor="end" class="tk" font-size="10.7">5</text>
<path d="M33.5,149.7h-4" stroke="#000" stroke-width="1.2"/>
<text transform="translate(27.3,153.5) scale(1.10,1)" text-anchor="end" class="tk" font-size="10.7">0</text>
<path d="M33.5,204.3h-4" stroke="#000" stroke-width="1.2"/>
<text transform="translate(27.3,208.2) scale(1.10,1)" text-anchor="end" class="tk" font-size="10.7">-5</text>
<path d="M33.5,67.7h-2.5" stroke="#000" stroke-width="1.2"/>
<path d="M33.5,122.4h-2.5" stroke="#000" stroke-width="1.2"/>
<path d="M33.5,177.0h-2.5" stroke="#000" stroke-width="1.2"/>
<path d="M33.5,231.6h-2.5" stroke="#000" stroke-width="1.2"/>
<clipPath id="cs3"><rect x="299.0" y="29.9" width="229.4" height="218.4"/></clipPath>
<g clip-path="url(#cs3)">
<rect x="299.0" y="29.9" width="229.4" height="218.4" fill="#0000ff"/>
<path d="M290.2,124.9 L291.9,118.8 L293.8,112.9 L296.0,107.2 L298.4,101.6 L301.2,96.2 L304.3,91.1 L307.9,86.3 L311.9,81.9 L316.1,77.7 L320.4,73.8 L324.6,70.1 L328.6,66.4 L332.3,62.7 L335.8,58.9 L339.2,54.9 L342.5,50.8 L345.8,46.6 L349.3,42.5 L352.9,38.5 L356.8,34.6 L361.0,30.9 L365.4,27.5 L370.1,24.5 L375.1,21.9 L380.2,19.8 L385.6,18.2 L391.2,17.4 L396.8,17.2 L402.4,17.7 L407.9,18.8 L413.4,20.3 L418.6,22.0 L423.7,23.8 L428.6,25.7 L433.5,27.4 L438.2,29.0 L443.0,30.5 L447.7,32.1 L452.4,33.7 L457.0,35.5 L461.6,37.5 L466.0,39.7 L470.3,42.2 L474.5,45.0 L478.5,47.9 L482.4,51.0 L486.3,54.1 L490.2,57.4 L494.1,60.6 L498.1,63.9 L502.3,67.3 L506.5,70.7 L510.8,74.3 L515.0,78.2 L519.0,82.3 L522.7,86.8 L526.0,91.7 L528.8,96.8 L531.1,102.2 L532.9,107.7 L534.5,113.4 L536.0,119.2 L537.3,125.0 L538.7,131.0 L539.9,137.1 L540.7,143.4 L541.1,149.7 L540.8,156.0 L539.5,162.2 L537.2,168.0 L533.9,173.5 L529.8,178.5 L525.1,182.9 L520.0,186.9 L514.8,190.6 L509.8,194.0 L505.0,197.4 L500.5,200.9 L496.5,204.6 L492.7,208.5 L489.2,212.8 L485.8,217.4 L482.4,222.3 L479.0,227.5 L475.4,232.8 L471.4,238.0 L466.9,242.9 L462.0,247.2 L456.6,250.8 L450.7,253.4 L444.5,254.9 L438.1,255.5 L431.7,255.2 L425.3,254.4 L419.1,253.1 L413.0,251.7 L407.0,250.3 L401.1,248.9 L395.3,247.4 L389.6,245.8 L384.0,243.7 L378.6,241.3 L373.5,238.3 L368.6,234.9 L364.1,231.2 L359.8,227.3 L355.6,223.4 L351.5,219.6 L347.3,216.0 L343.1,212.6 L338.7,209.2 L334.2,205.9 L329.6,202.5 L325.0,199.0 L320.3,195.4 L315.6,191.6 L310.9,187.6 L306.2,183.3 L301.7,178.7 L297.6,173.7 L294.0,168.3 L291.1,162.6 L289.0,156.5 L287.8,150.3 L287.4,143.9 L287.8,137.5 L288.8,131.1Z" fill="#0040ff"/>
<path d="M293.2,125.0 L295.0,119.1 L297.2,113.3 L299.7,107.8 L302.6,102.5 L305.9,97.5 L309.7,92.9 L313.8,88.6 L318.2,84.7 L322.6,81.0 L326.8,77.5 L330.7,74.0 L334.2,70.4 L337.3,66.6 L340.2,62.7 L343.2,58.7 L346.3,54.8 L349.8,51.2 L353.6,48.1 L357.8,45.4 L362.3,43.1 L366.8,41.1 L371.3,39.2 L375.8,37.3 L380.2,35.2 L384.6,33.0 L389.1,30.8 L393.8,28.9 L398.5,27.4 L403.5,26.5 L408.5,26.3 L413.5,26.8 L418.5,27.9 L423.3,29.5 L427.9,31.3 L432.4,33.3 L436.8,35.2 L441.1,37.2 L445.4,39.0 L449.6,40.8 L453.9,42.5 L458.1,44.3 L462.4,46.2 L466.5,48.2 L470.7,50.4 L474.7,52.8 L478.6,55.4 L482.4,58.3 L486.0,61.3 L489.6,64.5 L493.2,67.7 L497.0,71.0 L500.9,74.2 L505.0,77.6 L509.3,81.0 L513.6,84.8 L517.6,88.8 L521.3,93.2 L524.5,98.0 L527.1,103.0 L529.2,108.4 L530.8,113.8 L532.1,119.4 L533.2,125.1 L534.1,130.9 L534.7,136.8 L534.9,142.7 L534.4,148.5 L532.9,154.3 L530.5,159.7 L527.0,164.7 L522.6,169.1 L517.6,173.1 L512.5,176.6 L507.4,179.8 L502.7,182.9 L498.5,186.1 L494.8,189.5 L491.5,193.1 L488.4,196.9 L485.4,200.9 L482.4,204.9 L479.2,209.0 L476.0,213.2 L472.7,217.5 L469.2,221.9 L465.5,226.4 L461.5,230.7 L457.2,234.8 L452.5,238.4 L447.4,241.3 L441.9,243.4 L436.2,244.6 L430.5,245.2 L424.7,245.3 L418.9,245.2 L413.1,245.0 L407.4,244.9 L401.6,244.7 L395.8,244.2 L390.1,243.2 L384.6,241.5 L379.3,239.0 L374.5,235.6 L370.1,231.7 L366.0,227.3 L362.2,223.0 L358.5,218.8 L354.8,215.0 L350.9,211.4 L346.9,208.1 L342.9,204.8 L338.9,201.4 L335.0,197.9 L331.3,194.1 L327.7,190.2 L324.0,186.3 L320.2,182.3 L316.1,178.3 L311.8,174.2 L307.3,169.9 L302.8,165.4 L298.8,160.4 L295.5,155.1 L293.1,149.3 L291.7,143.3 L291.4,137.2 L292.0,131.0Z" fill="#0080ff"/>
<path d="M299.7,125.1 L301.1,119.5 L303.2,114.1 L306.0,108.9 L309.5,104.1 L313.5,99.6 L317.7,95.5 L322.1,91.8 L326.2,88.2 L330.1,84.7 L333.5,81.2 L336.5,77.6 L339.1,73.8 L341.6,69.9 L344.0,65.9 L346.7,62.0 L349.6,58.2 L352.9,54.8 L356.4,51.7 L360.3,48.9 L364.3,46.3 L368.4,44.0 L372.6,41.7 L376.8,39.6 L381.2,37.7 L385.6,36.0 L390.2,34.7 L394.8,33.7 L399.6,33.2 L404.3,33.1 L409.0,33.4 L413.7,34.0 L418.3,34.8 L422.8,35.7 L427.2,36.8 L431.6,38.1 L435.9,39.6 L440.0,41.2 L444.1,43.0 L448.0,45.0 L451.9,47.0 L455.7,49.1 L459.5,51.2 L463.3,53.3 L467.0,55.6 L470.7,58.0 L474.2,60.6 L477.5,63.4 L480.8,66.3 L483.9,69.4 L487.1,72.5 L490.4,75.6 L493.9,78.7 L497.8,81.7 L501.9,84.7 L506.3,88.0 L510.7,91.5 L515.0,95.3 L518.9,99.5 L522.3,104.1 L525.1,109.1 L527.3,114.3 L528.9,119.7 L529.8,125.2 L530.1,130.8 L529.8,136.4 L528.7,141.9 L526.9,147.2 L524.3,152.3 L521.0,157.1 L517.2,161.4 L513.0,165.4 L508.7,169.1 L504.6,172.6 L500.7,176.0 L497.2,179.4 L494.0,182.9 L491.0,186.6 L488.3,190.3 L485.5,194.2 L482.7,198.1 L479.8,202.0 L476.8,206.0 L473.7,210.0 L470.5,214.0 L467.0,218.1 L463.4,222.2 L459.5,226.1 L455.2,229.6 L450.6,232.7 L445.6,235.1 L440.4,236.8 L435.1,237.9 L429.6,238.5 L424.2,238.7 L418.7,238.8 L413.3,238.9 L407.8,238.9 L402.3,238.7 L396.9,238.3 L391.4,237.4 L386.1,235.9 L381.1,233.7 L376.3,230.9 L371.8,227.6 L367.7,224.0 L363.7,220.3 L359.9,216.6 L356.1,213.0 L352.4,209.5 L348.7,206.0 L345.1,202.5 L341.6,198.8 L338.3,195.0 L335.1,191.1 L332.0,187.2 L328.9,183.1 L325.7,179.1 L322.4,175.1 L318.9,171.0 L315.3,166.9 L311.7,162.5 L308.2,157.8 L305.2,152.9 L302.6,147.7 L300.7,142.2 L299.6,136.6 L299.3,130.9Z" fill="#00bfff"/>
<path d="M306.3,125.3 L307.1,120.0 L309.2,114.8 L312.3,110.0 L316.4,105.6 L321.0,101.7 L325.7,98.2 L330.3,94.9 L334.2,91.8 L337.5,88.5 L340.1,85.0 L342.2,81.3 L344.0,77.3 L345.8,73.2 L347.8,69.2 L350.1,65.3 L352.9,61.7 L355.9,58.4 L359.2,55.3 L362.7,52.3 L366.3,49.5 L370.0,46.8 L373.8,44.3 L377.9,42.0 L382.1,40.2 L386.6,39.1 L391.2,38.5 L395.9,38.5 L400.6,39.0 L405.1,39.7 L409.5,40.5 L413.9,41.1 L418.1,41.6 L422.3,41.9 L426.6,42.3 L430.8,42.9 L434.9,43.9 L438.9,45.3 L442.7,47.0 L446.4,49.2 L449.9,51.4 L453.3,53.8 L456.7,56.1 L460.0,58.4 L463.4,60.8 L466.6,63.2 L469.7,65.7 L472.7,68.5 L475.5,71.4 L478.2,74.4 L480.9,77.4 L483.7,80.3 L486.9,83.1 L490.5,85.8 L494.6,88.5 L499.0,91.2 L503.8,94.1 L508.6,97.4 L513.3,101.1 L517.5,105.2 L521.1,109.8 L523.9,114.7 L525.7,119.9 L526.4,125.3 L526.1,130.7 L524.8,136.0 L522.5,141.1 L519.3,145.9 L515.6,150.4 L511.5,154.4 L507.4,158.2 L503.5,161.7 L499.8,165.2 L496.7,168.6 L494.0,172.2 L491.6,175.9 L489.4,179.7 L487.3,183.6 L485.0,187.6 L482.7,191.5 L480.1,195.3 L477.3,199.1 L474.4,202.9 L471.4,206.7 L468.2,210.5 L464.9,214.3 L461.3,218.0 L457.4,221.4 L453.2,224.5 L448.7,227.0 L443.9,228.9 L439.0,230.3 L433.9,231.2 L428.8,231.7 L423.7,232.1 L418.6,232.4 L413.4,232.7 L408.3,232.9 L403.1,232.8 L397.9,232.5 L392.7,231.7 L387.7,230.4 L382.8,228.5 L378.1,226.3 L373.6,223.6 L369.3,220.7 L365.2,217.6 L361.3,214.4 L357.5,211.1 L353.9,207.6 L350.5,203.9 L347.3,200.1 L344.3,196.2 L341.5,192.2 L338.9,188.2 L336.3,184.1 L333.8,180.0 L331.3,176.0 L328.7,171.9 L326.0,167.9 L323.3,163.8 L320.5,159.6 L317.6,155.2 L314.8,150.7 L312.1,146.0 L309.7,141.1 L307.8,136.0 L306.6,130.7Z" fill="#00ffff"/>
<path d="M316.3,125.6 L317.2,120.7 L319.0,116.0 L321.8,111.7 L325.3,107.6 L329.2,104.0 L333.3,100.7 L337.2,97.6 L340.6,94.6 L343.6,91.5 L346.0,88.3 L347.9,84.9 L349.5,81.2 L351.1,77.4 L352.8,73.5 L354.7,69.7 L357.0,66.0 L359.5,62.5 L362.3,59.2 L365.3,56.0 L368.5,53.0 L371.9,50.2 L375.6,47.7 L379.4,45.4 L383.4,43.6 L387.7,42.3 L392.1,41.5 L396.5,41.2 L401.0,41.3 L405.4,41.7 L409.7,42.3 L413.9,43.0 L418.1,43.8 L422.1,44.8 L426.1,46.0 L430.0,47.5 L433.7,49.4 L437.2,51.6 L440.4,54.0 L443.5,56.6 L446.5,59.2 L449.4,61.6 L452.3,63.9 L455.2,66.1 L458.1,68.3 L460.9,70.5 L463.6,72.9 L466.1,75.4 L468.4,78.1 L470.7,80.8 L472.9,83.6 L475.4,86.2 L478.1,88.7 L481.3,91.0 L485.0,93.2 L489.3,95.5 L493.8,98.0 L498.5,100.8 L503.0,103.9 L507.1,107.5 L510.6,111.6 L513.2,116.0 L515.0,120.7 L515.7,125.6 L515.5,130.4 L514.4,135.3 L512.6,139.9 L510.2,144.4 L507.4,148.5 L504.5,152.5 L501.4,156.2 L498.6,159.8 L495.9,163.4 L493.4,167.0 L491.2,170.6 L489.1,174.3 L487.0,178.0 L484.8,181.7 L482.5,185.4 L480.1,189.0 L477.5,192.6 L474.8,196.2 L472.0,199.8 L469.1,203.4 L466.1,207.1 L462.9,210.7 L459.4,214.3 L455.7,217.6 L451.7,220.5 L447.4,223.0 L442.8,224.9 L438.1,226.3 L433.2,227.3 L428.3,227.9 L423.4,228.4 L418.5,228.7 L413.5,228.8 L408.6,228.9 L403.6,228.8 L398.6,228.3 L393.6,227.6 L388.8,226.4 L384.0,224.8 L379.4,222.9 L374.9,220.6 L370.7,218.1 L366.5,215.3 L362.6,212.4 L358.8,209.2 L355.3,205.8 L351.9,202.3 L348.9,198.5 L346.1,194.6 L343.5,190.5 L341.2,186.4 L339.0,182.2 L336.9,178.1 L334.9,173.9 L332.9,169.8 L330.8,165.7 L328.8,161.7 L326.6,157.5 L324.5,153.3 L322.4,149.0 L320.3,144.6 L318.5,140.0 L317.2,135.3 L316.3,130.4Z" fill="#00ffbf"/>
<path d="M326.4,125.8 L327.3,121.5 L328.9,117.3 L331.2,113.3 L334.1,109.6 L337.4,106.2 L340.8,103.1 L344.1,100.2 L347.0,97.4 L349.6,94.6 L351.8,91.6 L353.5,88.5 L355.0,85.1 L356.4,81.5 L357.8,77.8 L359.3,74.0 L361.1,70.3 L363.1,66.6 L365.3,63.1 L367.9,59.7 L370.8,56.6 L373.9,53.7 L377.3,51.1 L380.9,48.8 L384.7,47.0 L388.8,45.5 L392.9,44.5 L397.1,43.9 L401.4,43.7 L405.6,43.8 L409.8,44.2 L414.0,44.9 L418.0,46.1 L421.9,47.6 L425.7,49.6 L429.2,52.0 L432.4,54.8 L435.4,57.9 L438.1,61.0 L440.7,64.1 L443.1,66.9 L445.5,69.5 L447.9,71.7 L450.3,73.8 L452.8,75.8 L455.1,77.8 L457.4,80.0 L459.5,82.3 L461.4,84.8 L463.2,87.3 L465.0,89.8 L467.0,92.1 L469.3,94.3 L472.1,96.2 L475.5,98.0 L479.5,99.9 L483.8,101.8 L488.3,104.1 L492.7,106.8 L496.7,109.9 L500.0,113.4 L502.6,117.3 L504.2,121.5 L505.0,125.8 L504.9,130.2 L504.1,134.5 L502.8,138.7 L501.1,142.8 L499.3,146.7 L497.4,150.5 L495.5,154.3 L493.7,158.0 L491.9,161.6 L490.2,165.3 L488.4,169.0 L486.6,172.7 L484.5,176.3 L482.4,179.8 L480.0,183.2 L477.5,186.6 L475.0,189.9 L472.3,193.3 L469.6,196.7 L466.8,200.1 L463.9,203.6 L460.8,207.1 L457.5,210.5 L454.0,213.7 L450.2,216.5 L446.0,218.9 L441.7,220.9 L437.2,222.4 L432.6,223.4 L427.9,224.1 L423.1,224.6 L418.4,224.9 L413.6,225.0 L408.9,224.9 L404.1,224.7 L399.3,224.2 L394.6,223.5 L389.9,222.5 L385.2,221.1 L380.7,219.5 L376.3,217.6 L372.0,215.4 L367.9,213.0 L363.9,210.3 L360.1,207.3 L356.6,204.1 L353.4,200.6 L350.5,196.8 L347.9,192.9 L345.6,188.8 L343.5,184.6 L341.7,180.3 L340.1,176.1 L338.6,171.9 L337.1,167.7 L335.7,163.6 L334.2,159.5 L332.8,155.5 L331.3,151.4 L329.9,147.3 L328.5,143.2 L327.4,138.9 L326.5,134.6 L326.1,130.2Z" fill="#00ff80"/>
<path d="M334.4,126.0 L335.4,122.1 L337.0,118.3 L338.9,114.6 L341.3,111.2 L344.0,108.1 L346.9,105.2 L349.9,102.5 L352.8,100.0 L355.5,97.6 L358.0,95.1 L360.0,92.5 L361.7,89.7 L363.0,86.7 L364.2,83.3 L365.3,79.7 L366.4,75.9 L367.8,72.2 L369.6,68.5 L371.7,65.1 L374.2,62.0 L377.0,59.2 L380.2,56.9 L383.6,54.9 L387.2,53.2 L390.8,51.8 L394.6,50.7 L398.5,49.9 L402.4,49.4 L406.3,49.4 L410.2,49.8 L414.1,50.8 L417.9,52.4 L421.4,54.4 L424.8,56.9 L427.9,59.7 L430.7,62.5 L433.4,65.3 L435.8,67.9 L438.3,70.3 L440.7,72.4 L443.1,74.3 L445.4,76.0 L447.8,77.8 L450.1,79.6 L452.2,81.6 L454.1,83.8 L455.9,86.1 L457.5,88.5 L459.1,90.8 L460.8,93.0 L462.8,95.0 L465.3,96.8 L468.2,98.4 L471.6,100.0 L475.3,101.7 L479.3,103.6 L483.2,105.8 L486.8,108.4 L490.0,111.4 L492.5,114.7 L494.4,118.3 L495.5,122.1 L495.9,126.0 L495.8,130.0 L495.4,133.9 L494.7,137.7 L493.8,141.5 L492.9,145.3 L492.0,149.0 L490.9,152.7 L489.8,156.5 L488.5,160.1 L487.0,163.8 L485.3,167.3 L483.3,170.6 L481.1,173.8 L478.6,176.8 L475.8,179.6 L472.9,182.2 L469.9,184.7 L467.0,187.1 L464.0,189.5 L461.1,192.0 L458.3,194.8 L455.5,197.7 L452.6,200.7 L449.6,203.9 L446.4,206.9 L443.0,209.8 L439.3,212.3 L435.4,214.3 L431.2,215.8 L426.9,216.7 L422.6,217.2 L418.2,217.4 L413.8,217.3 L409.4,217.0 L405.1,216.7 L400.7,216.3 L396.3,215.9 L391.9,215.3 L387.4,214.4 L383.1,213.3 L378.8,211.9 L374.6,210.2 L370.6,208.2 L366.7,205.9 L363.0,203.2 L359.5,200.3 L356.3,197.2 L353.4,193.8 L350.7,190.2 L348.4,186.3 L346.4,182.3 L344.7,178.2 L343.2,174.1 L341.9,170.0 L340.7,165.9 L339.6,161.9 L338.5,157.9 L337.4,154.0 L336.3,150.1 L335.3,146.1 L334.5,142.1 L333.9,138.1 L333.7,134.1 L333.8,130.0Z" fill="#00fc40"/>
<path d="M342.4,126.2 L343.6,122.7 L345.0,119.2 L346.6,116.0 L348.5,112.8 L350.6,109.9 L353.0,107.2 L355.7,104.7 L358.6,102.5 L361.4,100.5 L364.1,98.6 L366.5,96.6 L368.3,94.4 L369.7,91.8 L370.6,88.8 L371.2,85.4 L371.8,81.6 L372.6,77.7 L373.8,73.9 L375.4,70.4 L377.6,67.4 L380.2,64.8 L383.1,62.7 L386.3,61.0 L389.6,59.5 L392.9,58.1 L396.3,56.9 L399.8,55.8 L403.4,55.1 L407.0,54.9 L410.6,55.4 L414.2,56.7 L417.7,58.7 L420.9,61.3 L423.9,64.2 L426.5,67.3 L429.0,70.2 L431.3,72.7 L433.6,74.8 L435.9,76.5 L438.2,77.8 L440.6,79.1 L443.0,80.3 L445.3,81.7 L447.4,83.4 L449.2,85.4 L450.8,87.6 L452.3,89.9 L453.6,92.2 L455.0,94.3 L456.7,96.2 L458.7,97.9 L461.3,99.3 L464.2,100.7 L467.6,102.0 L471.1,103.6 L474.7,105.4 L478.1,107.5 L481.0,110.0 L483.3,112.9 L485.0,116.0 L486.1,119.4 L486.7,122.8 L486.8,126.3 L486.8,129.7 L486.7,133.2 L486.6,136.7 L486.6,140.2 L486.6,143.8 L486.5,147.5 L486.3,151.2 L485.9,155.0 L485.1,158.6 L483.9,162.2 L482.2,165.5 L480.1,168.6 L477.6,171.4 L474.7,173.8 L471.6,176.0 L468.3,177.8 L464.9,179.4 L461.6,180.9 L458.4,182.3 L455.4,183.9 L452.6,185.9 L450.1,188.2 L447.7,190.9 L445.3,194.0 L442.7,197.3 L440.0,200.6 L436.9,203.6 L433.6,206.2 L429.9,208.1 L426.0,209.3 L422.0,209.8 L418.0,209.8 L414.0,209.5 L410.0,209.1 L406.0,208.7 L402.0,208.4 L398.0,208.2 L393.8,208.0 L389.7,207.7 L385.5,207.2 L381.3,206.3 L377.2,205.0 L373.3,203.4 L369.5,201.4 L365.9,199.1 L362.5,196.6 L359.2,193.8 L356.3,190.7 L353.6,187.4 L351.2,183.9 L349.2,180.1 L347.6,176.2 L346.3,172.1 L345.3,168.1 L344.4,164.0 L343.6,160.1 L342.8,156.3 L342.0,152.5 L341.3,148.7 L340.7,144.9 L340.4,141.1 L340.5,137.3 L340.8,133.5 L341.5,129.8Z" fill="#00f600"/>
<path d="M346.1,126.3 L347.3,122.9 L348.7,119.7 L350.4,116.6 L352.3,113.7 L354.5,111.0 L356.9,108.5 L359.4,106.2 L361.9,104.0 L364.4,102.0 L366.7,100.1 L368.8,98.1 L370.5,96.0 L372.0,93.6 L373.1,91.0 L374.2,88.2 L375.2,85.2 L376.4,82.1 L377.8,79.0 L379.5,76.1 L381.5,73.5 L383.8,71.2 L386.4,69.1 L389.1,67.3 L392.0,65.8 L395.0,64.5 L398.1,63.4 L401.3,62.8 L404.6,62.5 L408.0,62.8 L411.3,63.7 L414.5,65.1 L417.5,67.1 L420.3,69.4 L422.9,71.9 L425.3,74.5 L427.5,76.8 L429.6,78.8 L431.7,80.4 L433.9,81.7 L436.1,82.7 L438.3,83.6 L440.6,84.6 L442.8,85.7 L444.9,86.9 L446.9,88.4 L448.7,90.1 L450.4,91.9 L452.1,93.6 L453.9,95.3 L455.8,96.9 L458.0,98.4 L460.6,99.8 L463.4,101.1 L466.5,102.6 L469.6,104.2 L472.7,106.1 L475.6,108.3 L478.1,110.8 L480.1,113.6 L481.6,116.6 L482.6,119.8 L483.1,123.0 L483.4,126.3 L483.4,129.7 L483.4,133.0 L483.3,136.3 L483.2,139.7 L483.1,143.1 L482.8,146.5 L482.4,149.9 L481.6,153.3 L480.5,156.6 L479.0,159.7 L477.0,162.6 L474.7,165.2 L472.1,167.5 L469.3,169.6 L466.3,171.4 L463.3,173.0 L460.2,174.4 L457.2,175.8 L454.4,177.2 L451.7,178.6 L449.0,180.2 L446.5,181.9 L444.1,183.7 L441.6,185.7 L439.0,187.6 L436.3,189.4 L433.4,191.0 L430.4,192.3 L427.3,193.3 L424.1,194.0 L420.9,194.4 L417.6,194.7 L414.4,194.9 L411.0,195.2 L407.7,195.5 L404.2,195.8 L400.7,196.2 L397.1,196.4 L393.4,196.5 L389.6,196.3 L385.9,195.8 L382.3,195.0 L378.7,193.9 L375.2,192.5 L371.7,190.9 L368.4,189.0 L365.2,186.9 L362.1,184.6 L359.3,182.0 L356.7,179.2 L354.4,176.1 L352.4,172.8 L350.7,169.4 L349.3,165.8 L348.1,162.2 L347.2,158.5 L346.3,154.9 L345.6,151.3 L345.0,147.6 L344.6,144.0 L344.4,140.4 L344.4,136.8 L344.7,133.3 L345.2,129.7Z" fill="#64ff00"/>
<path d="M349.8,126.4 L350.9,123.2 L352.4,120.2 L354.2,117.3 L356.2,114.6 L358.4,112.1 L360.8,109.7 L363.1,107.6 L365.3,105.5 L367.4,103.5 L369.3,101.6 L371.1,99.6 L372.7,97.5 L374.2,95.4 L375.7,93.2 L377.1,91.0 L378.6,88.7 L380.1,86.4 L381.8,84.1 L383.5,81.9 L385.4,79.6 L387.4,77.5 L389.6,75.5 L391.9,73.6 L394.4,72.1 L397.1,70.8 L400.0,70.0 L402.9,69.7 L405.9,69.9 L408.9,70.7 L411.9,71.9 L414.7,73.6 L417.3,75.5 L419.7,77.6 L422.0,79.7 L424.0,81.6 L426.0,83.4 L428.0,84.8 L429.9,86.0 L431.9,86.9 L433.9,87.6 L436.0,88.2 L438.2,88.9 L440.3,89.6 L442.4,90.5 L444.5,91.5 L446.6,92.6 L448.6,93.8 L450.6,95.1 L452.7,96.3 L454.9,97.6 L457.3,98.9 L459.9,100.2 L462.6,101.6 L465.4,103.2 L468.1,104.9 L470.8,106.9 L473.1,109.1 L475.2,111.6 L476.9,114.3 L478.2,117.2 L479.0,120.2 L479.6,123.3 L479.9,126.4 L480.1,129.6 L480.1,132.7 L480.0,135.9 L479.9,139.1 L479.6,142.3 L479.1,145.5 L478.4,148.6 L477.3,151.7 L475.9,154.5 L474.1,157.2 L471.9,159.7 L469.4,161.8 L466.7,163.7 L463.9,165.3 L461.0,166.8 L458.2,168.2 L455.5,169.5 L452.9,170.8 L450.4,172.0 L447.9,173.3 L445.4,174.5 L443.0,175.6 L440.4,176.6 L437.9,177.3 L435.2,177.8 L432.6,178.1 L429.9,178.3 L427.3,178.4 L424.8,178.5 L422.3,178.7 L419.8,179.0 L417.3,179.6 L414.7,180.3 L412.1,181.2 L409.3,182.2 L406.4,183.2 L403.4,184.1 L400.3,184.8 L397.1,185.3 L393.8,185.5 L390.6,185.4 L387.3,185.0 L384.0,184.4 L380.8,183.6 L377.6,182.6 L374.3,181.4 L371.2,180.0 L368.0,178.4 L365.0,176.6 L362.1,174.5 L359.5,172.1 L357.1,169.5 L355.0,166.6 L353.3,163.5 L351.9,160.3 L350.8,156.9 L349.9,153.5 L349.3,150.0 L348.8,146.6 L348.5,143.2 L348.3,139.7 L348.3,136.3 L348.5,133.0 L349.0,129.6Z" fill="#b9ff00"/>
<path d="M356.3,126.5 L357.1,123.7 L358.1,120.9 L359.4,118.2 L360.9,115.6 L362.5,113.2 L364.3,110.9 L366.1,108.8 L368.0,106.7 L369.8,104.7 L371.6,102.8 L373.4,101.0 L375.1,99.2 L376.8,97.4 L378.5,95.6 L380.2,93.9 L381.9,92.2 L383.6,90.5 L385.5,88.9 L387.3,87.3 L389.3,85.8 L391.3,84.4 L393.4,83.1 L395.6,82.0 L397.9,81.0 L400.2,80.2 L402.6,79.7 L405.1,79.5 L407.6,79.6 L410.1,79.9 L412.5,80.6 L414.9,81.5 L417.1,82.5 L419.3,83.7 L421.3,84.9 L423.3,86.0 L425.2,87.1 L427.1,88.1 L428.9,88.9 L430.8,89.7 L432.7,90.4 L434.6,91.1 L436.5,91.8 L438.4,92.6 L440.3,93.4 L442.3,94.4 L444.2,95.4 L446.1,96.4 L448.0,97.5 L450.1,98.6 L452.2,99.7 L454.5,100.9 L456.8,102.1 L459.3,103.5 L461.7,105.0 L464.1,106.7 L466.4,108.5 L468.5,110.6 L470.3,113.0 L471.8,115.5 L473.0,118.1 L473.8,120.9 L474.3,123.7 L474.5,126.6 L474.5,129.4 L474.3,132.3 L473.9,135.1 L473.4,138.0 L472.7,140.7 L471.9,143.5 L470.9,146.1 L469.6,148.7 L468.1,151.1 L466.4,153.4 L464.4,155.4 L462.3,157.3 L459.9,158.9 L457.5,160.4 L455.1,161.7 L452.6,162.8 L450.2,163.9 L447.8,164.8 L445.5,165.7 L443.2,166.6 L440.9,167.4 L438.7,168.1 L436.5,168.7 L434.3,169.2 L432.1,169.7 L429.9,170.0 L427.7,170.3 L425.6,170.6 L423.4,170.9 L421.3,171.2 L419.2,171.5 L417.1,172.0 L414.9,172.4 L412.7,172.9 L410.4,173.4 L408.0,173.9 L405.6,174.2 L403.1,174.5 L400.6,174.6 L398.1,174.5 L395.5,174.3 L392.9,174.0 L390.2,173.5 L387.5,172.9 L384.8,172.3 L382.1,171.5 L379.3,170.6 L376.5,169.5 L373.8,168.2 L371.1,166.7 L368.5,165.0 L366.2,163.1 L364.0,160.9 L362.1,158.5 L360.5,155.9 L359.1,153.2 L358.0,150.4 L357.1,147.5 L356.4,144.5 L355.9,141.5 L355.5,138.5 L355.4,135.5 L355.5,132.5 L355.8,129.5Z" fill="#ffff00"/>
<path d="M362.8,126.7 L363.3,124.1 L363.9,121.6 L364.6,119.1 L365.6,116.7 L366.6,114.3 L367.8,112.1 L369.2,109.9 L370.6,107.9 L372.2,105.9 L373.9,104.1 L375.6,102.4 L377.4,100.8 L379.3,99.4 L381.2,98.0 L383.2,96.8 L385.2,95.6 L387.1,94.5 L389.1,93.6 L391.2,92.7 L393.2,92.0 L395.2,91.3 L397.2,90.7 L399.3,90.3 L401.3,89.9 L403.3,89.6 L405.3,89.4 L407.3,89.3 L409.3,89.2 L411.2,89.2 L413.1,89.3 L415.1,89.4 L416.9,89.6 L418.8,89.8 L420.7,90.1 L422.5,90.4 L424.3,90.8 L426.2,91.3 L427.9,91.9 L429.7,92.5 L431.4,93.2 L433.2,93.9 L434.9,94.7 L436.6,95.5 L438.3,96.4 L440.0,97.3 L441.8,98.1 L443.6,99.0 L445.5,99.9 L447.5,100.9 L449.5,101.9 L451.6,102.9 L453.8,104.1 L455.9,105.4 L458.1,106.8 L460.2,108.4 L462.1,110.2 L463.9,112.2 L465.5,114.3 L466.8,116.6 L467.8,119.0 L468.5,121.5 L469.0,124.1 L469.1,126.7 L468.9,129.3 L468.5,131.9 L467.8,134.4 L467.0,136.8 L465.9,139.2 L464.7,141.5 L463.4,143.7 L462.0,145.7 L460.4,147.7 L458.7,149.5 L457.0,151.2 L455.1,152.8 L453.2,154.2 L451.2,155.5 L449.1,156.6 L447.0,157.5 L444.8,158.3 L442.7,158.9 L440.5,159.4 L438.4,159.9 L436.4,160.2 L434.4,160.6 L432.5,160.9 L430.7,161.2 L428.9,161.6 L427.2,161.9 L425.5,162.4 L423.8,162.8 L422.1,163.2 L420.4,163.7 L418.7,164.0 L416.9,164.3 L415.1,164.5 L413.3,164.7 L411.5,164.7 L409.7,164.6 L407.8,164.4 L406.0,164.2 L404.1,163.9 L402.3,163.6 L400.4,163.2 L398.4,162.9 L396.4,162.6 L394.3,162.3 L392.1,162.0 L389.8,161.6 L387.4,161.1 L385.0,160.6 L382.5,159.9 L380.0,159.0 L377.6,158.0 L375.3,156.7 L373.0,155.2 L371.0,153.5 L369.1,151.6 L367.5,149.5 L366.1,147.3 L364.9,144.9 L363.9,142.4 L363.2,139.8 L362.8,137.2 L362.5,134.6 L362.4,132.0 L362.5,129.3Z" fill="#ffbf00"/>
<path d="M374.2,127.0 L374.0,124.9 L374.0,122.8 L374.3,120.8 L374.6,118.7 L375.1,116.7 L375.6,114.7 L376.3,112.7 L377.1,110.7 L378.0,108.9 L379.1,107.1 L380.4,105.5 L381.9,104.0 L383.5,102.7 L385.3,101.5 L387.0,100.4 L388.8,99.4 L390.6,98.5 L392.3,97.6 L394.0,96.8 L395.8,96.1 L397.6,95.5 L399.4,95.0 L401.2,94.7 L403.1,94.5 L404.9,94.4 L406.7,94.3 L408.4,94.3 L410.1,94.3 L411.8,94.2 L413.5,94.2 L415.2,94.1 L416.8,94.2 L418.5,94.3 L420.1,94.5 L421.7,94.9 L423.3,95.3 L424.9,95.8 L426.5,96.4 L428.0,97.0 L429.5,97.6 L430.9,98.3 L432.4,99.1 L433.8,99.9 L435.2,100.7 L436.7,101.5 L438.1,102.4 L439.5,103.3 L440.9,104.3 L442.4,105.2 L443.9,106.2 L445.4,107.3 L446.9,108.4 L448.5,109.6 L450.1,110.8 L451.7,112.2 L453.3,113.6 L454.8,115.2 L456.1,116.9 L457.3,118.7 L458.2,120.7 L458.7,122.7 L459.0,124.8 L458.9,126.9 L458.6,129.0 L458.2,131.1 L457.6,133.1 L456.9,135.1 L456.3,137.0 L455.6,139.0 L454.9,140.8 L454.1,142.7 L453.1,144.4 L451.9,146.1 L450.6,147.6 L449.0,148.9 L447.4,150.1 L445.6,151.1 L443.9,152.1 L442.1,152.9 L440.4,153.6 L438.7,154.3 L437.0,154.9 L435.3,155.3 L433.5,155.7 L431.8,156.0 L430.2,156.1 L428.5,156.3 L426.9,156.4 L425.4,156.5 L423.9,156.6 L422.5,156.8 L421.0,156.9 L419.6,157.0 L418.1,157.0 L416.7,156.9 L415.3,156.8 L413.9,156.6 L412.5,156.5 L411.1,156.4 L409.7,156.3 L408.2,156.2 L406.7,156.0 L405.3,155.8 L403.9,155.4 L402.5,154.9 L401.2,154.2 L399.9,153.4 L398.6,152.7 L397.3,152.0 L395.8,151.4 L394.2,150.9 L392.4,150.4 L390.5,150.0 L388.4,149.5 L386.5,148.8 L384.6,147.9 L383.0,146.7 L381.6,145.3 L380.5,143.7 L379.6,142.0 L378.8,140.3 L378.1,138.5 L377.4,136.7 L376.6,134.8 L375.8,133.0 L375.1,131.0 L374.6,129.0Z" fill="#ff8000"/>
<path d="M383.3,116.7 L385.8,107.9 L394.6,101.6 L409.7,99.1 L424.7,100.4 L436.1,107.9 L446.1,119.2 L448.6,128.0 L444.8,139.3 L436.1,148.1 L422.2,150.6 L407.2,148.1 L394.6,140.5 L385.8,130.5Z" fill="#ff4000"/>
<path d="M394.3,114.0 L405.7,107.0 L419.7,111.3 L426.8,119.2 L433.8,128.9 L436.4,139.4 L430.3,143.0 L414.4,141.2 L403.9,134.2 L397.8,123.6Z" fill="#ff0000"/>
<path d="M287.2,124.8 L288.9,118.6 L290.5,112.5 L292.3,106.5 L294.2,100.6 L296.4,94.9 L299.0,89.3 L302.0,84.0 L305.6,79.1 L309.6,74.4 L313.9,70.2 L318.4,66.2 L322.9,62.5 L327.3,58.8 L331.5,55.1 L335.2,51.1 L338.7,46.8 L341.8,42.0 L344.9,36.9 L348.0,31.5 L351.4,26.0 L355.2,20.7 L359.5,15.8 L364.5,11.7 L369.9,8.6 L375.9,6.5 L382.1,5.6 L388.6,5.9 L395.0,7.0 L401.3,8.9 L407.4,11.2 L413.2,13.7 L418.7,16.1 L424.1,18.2 L429.3,20.0 L434.5,21.5 L439.6,22.8 L444.8,23.9 L450.0,25.2 L455.1,26.6 L460.1,28.4 L465.0,30.7 L469.6,33.3 L474.1,36.3 L478.3,39.6 L482.3,43.0 L486.3,46.5 L490.3,50.0 L494.4,53.4 L498.6,56.7 L503.0,60.1 L507.5,63.5 L512.1,67.2 L516.5,71.1 L520.7,75.3 L524.5,79.9 L527.8,84.9 L530.7,90.1 L533.0,95.6 L535.0,101.3 L536.7,107.1 L538.3,112.9 L539.8,118.9 L541.5,124.9 L543.2,131.1 L545.0,137.5 L546.6,144.1 L547.9,150.9 L548.6,157.8 L548.5,164.7 L547.4,171.4 L545.3,177.9 L542.0,183.9 L537.7,189.3 L532.6,194.0 L526.9,198.2 L521.0,201.9 L515.1,205.4 L509.6,208.7 L504.5,212.3 L500.0,216.2 L496.0,220.7 L492.3,225.8 L488.9,231.4 L485.3,237.5 L481.5,243.6 L477.2,249.6 L472.3,255.0 L466.8,259.6 L460.7,263.2 L454.0,265.5 L447.1,266.5 L440.0,266.4 L432.9,265.3 L426.0,263.4 L419.3,261.0 L412.8,258.4 L406.6,255.7 L400.6,253.1 L394.7,250.7 L389.0,248.3 L383.3,246.0 L377.8,243.6 L372.4,241.0 L367.2,238.1 L362.1,235.0 L357.3,231.6 L352.7,228.0 L348.2,224.3 L343.7,220.6 L339.2,217.1 L334.5,213.6 L329.5,210.4 L324.2,207.2 L318.7,204.0 L312.9,200.6 L307.1,196.9 L301.5,192.9 L296.3,188.3 L291.7,183.1 L287.9,177.4 L285.1,171.2 L283.3,164.7 L282.4,158.0 L282.4,151.2 L283.1,144.4 L284.2,137.7 L285.7,131.2Z" fill="none" stroke="#000" stroke-opacity="0.85" stroke-width="0.75" stroke-linejoin="round"/>
<path d="M293.2,125.0 L295.0,119.1 L297.2,113.3 L299.7,107.8 L302.6,102.5 L305.9,97.5 L309.7,92.9 L313.8,88.6 L318.2,84.7 L322.6,81.0 L326.8,77.5 L330.7,74.0 L334.2,70.4 L337.3,66.6 L340.2,62.7 L343.2,58.7 L346.3,54.8 L349.8,51.2 L353.6,48.1 L357.8,45.4 L362.3,43.1 L366.8,41.1 L371.3,39.2 L375.8,37.3 L380.2,35.2 L384.6,33.0 L389.1,30.8 L393.8,28.9 L398.5,27.4 L403.5,26.5 L408.5,26.3 L413.5,26.8 L418.5,27.9 L423.3,29.5 L427.9,31.3 L432.4,33.3 L436.8,35.2 L441.1,37.2 L445.4,39.0 L449.6,40.8 L453.9,42.5 L458.1,44.3 L462.4,46.2 L466.5,48.2 L470.7,50.4 L474.7,52.8 L478.6,55.4 L482.4,58.3 L486.0,61.3 L489.6,64.5 L493.2,67.7 L497.0,71.0 L500.9,74.2 L505.0,77.6 L509.3,81.0 L513.6,84.8 L517.6,88.8 L521.3,93.2 L524.5,98.0 L527.1,103.0 L529.2,108.4 L530.8,113.8 L532.1,119.4 L533.2,125.1 L534.1,130.9 L534.7,136.8 L534.9,142.7 L534.4,148.5 L532.9,154.3 L530.5,159.7 L527.0,164.7 L522.6,169.1 L517.6,173.1 L512.5,176.6 L507.4,179.8 L502.7,182.9 L498.5,186.1 L494.8,189.5 L491.5,193.1 L488.4,196.9 L485.4,200.9 L482.4,204.9 L479.2,209.0 L476.0,213.2 L472.7,217.5 L469.2,221.9 L465.5,226.4 L461.5,230.7 L457.2,234.8 L452.5,238.4 L447.4,241.3 L441.9,243.4 L436.2,244.6 L430.5,245.2 L424.7,245.3 L418.9,245.2 L413.1,245.0 L407.4,244.9 L401.6,244.7 L395.8,244.2 L390.1,243.2 L384.6,241.5 L379.3,239.0 L374.5,235.6 L370.1,231.7 L366.0,227.3 L362.2,223.0 L358.5,218.8 L354.8,215.0 L350.9,211.4 L346.9,208.1 L342.9,204.8 L338.9,201.4 L335.0,197.9 L331.3,194.1 L327.7,190.2 L324.0,186.3 L320.2,182.3 L316.1,178.3 L311.8,174.2 L307.3,169.9 L302.8,165.4 L298.8,160.4 L295.5,155.1 L293.1,149.3 L291.7,143.3 L291.4,137.2 L292.0,131.0Z" fill="none" stroke="#000" stroke-opacity="0.85" stroke-width="0.75" stroke-linejoin="round"/>
<path d="M306.3,125.3 L307.1,120.0 L309.2,114.8 L312.3,110.0 L316.4,105.6 L321.0,101.7 L325.7,98.2 L330.3,94.9 L334.2,91.8 L337.5,88.5 L340.1,85.0 L342.2,81.3 L344.0,77.3 L345.8,73.2 L347.8,69.2 L350.1,65.3 L352.9,61.7 L355.9,58.4 L359.2,55.3 L362.7,52.3 L366.3,49.5 L370.0,46.8 L373.8,44.3 L377.9,42.0 L382.1,40.2 L386.6,39.1 L391.2,38.5 L395.9,38.5 L400.6,39.0 L405.1,39.7 L409.5,40.5 L413.9,41.1 L418.1,41.6 L422.3,41.9 L426.6,42.3 L430.8,42.9 L434.9,43.9 L438.9,45.3 L442.7,47.0 L446.4,49.2 L449.9,51.4 L453.3,53.8 L456.7,56.1 L460.0,58.4 L463.4,60.8 L466.6,63.2 L469.7,65.7 L472.7,68.5 L475.5,71.4 L478.2,74.4 L480.9,77.4 L483.7,80.3 L486.9,83.1 L490.5,85.8 L494.6,88.5 L499.0,91.2 L503.8,94.1 L508.6,97.4 L513.3,101.1 L517.5,105.2 L521.1,109.8 L523.9,114.7 L525.7,119.9 L526.4,125.3 L526.1,130.7 L524.8,136.0 L522.5,141.1 L519.3,145.9 L515.6,150.4 L511.5,154.4 L507.4,158.2 L503.5,161.7 L499.8,165.2 L496.7,168.6 L494.0,172.2 L491.6,175.9 L489.4,179.7 L487.3,183.6 L485.0,187.6 L482.7,191.5 L480.1,195.3 L477.3,199.1 L474.4,202.9 L471.4,206.7 L468.2,210.5 L464.9,214.3 L461.3,218.0 L457.4,221.4 L453.2,224.5 L448.7,227.0 L443.9,228.9 L439.0,230.3 L433.9,231.2 L428.8,231.7 L423.7,232.1 L418.6,232.4 L413.4,232.7 L408.3,232.9 L403.1,232.8 L397.9,232.5 L392.7,231.7 L387.7,230.4 L382.8,228.5 L378.1,226.3 L373.6,223.6 L369.3,220.7 L365.2,217.6 L361.3,214.4 L357.5,211.1 L353.9,207.6 L350.5,203.9 L347.3,200.1 L344.3,196.2 L341.5,192.2 L338.9,188.2 L336.3,184.1 L333.8,180.0 L331.3,176.0 L328.7,171.9 L326.0,167.9 L323.3,163.8 L320.5,159.6 L317.6,155.2 L314.8,150.7 L312.1,146.0 L309.7,141.1 L307.8,136.0 L306.6,130.7Z" fill="none" stroke="#000" stroke-opacity="0.85" stroke-width="0.75" stroke-linejoin="round"/>
<path d="M326.4,125.8 L327.3,121.5 L328.9,117.3 L331.2,113.3 L334.1,109.6 L337.4,106.2 L340.8,103.1 L344.1,100.2 L347.0,97.4 L349.6,94.6 L351.8,91.6 L353.5,88.5 L355.0,85.1 L356.4,81.5 L357.8,77.8 L359.3,74.0 L361.1,70.3 L363.1,66.6 L365.3,63.1 L367.9,59.7 L370.8,56.6 L373.9,53.7 L377.3,51.1 L380.9,48.8 L384.7,47.0 L388.8,45.5 L392.9,44.5 L397.1,43.9 L401.4,43.7 L405.6,43.8 L409.8,44.2 L414.0,44.9 L418.0,46.1 L421.9,47.6 L425.7,49.6 L429.2,52.0 L432.4,54.8 L435.4,57.9 L438.1,61.0 L440.7,64.1 L443.1,66.9 L445.5,69.5 L447.9,71.7 L450.3,73.8 L452.8,75.8 L455.1,77.8 L457.4,80.0 L459.5,82.3 L461.4,84.8 L463.2,87.3 L465.0,89.8 L467.0,92.1 L469.3,94.3 L472.1,96.2 L475.5,98.0 L479.5,99.9 L483.8,101.8 L488.3,104.1 L492.7,106.8 L496.7,109.9 L500.0,113.4 L502.6,117.3 L504.2,121.5 L505.0,125.8 L504.9,130.2 L504.1,134.5 L502.8,138.7 L501.1,142.8 L499.3,146.7 L497.4,150.5 L495.5,154.3 L493.7,158.0 L491.9,161.6 L490.2,165.3 L488.4,169.0 L486.6,172.7 L484.5,176.3 L482.4,179.8 L480.0,183.2 L477.5,186.6 L475.0,189.9 L472.3,193.3 L469.6,196.7 L466.8,200.1 L463.9,203.6 L460.8,207.1 L457.5,210.5 L454.0,213.7 L450.2,216.5 L446.0,218.9 L441.7,220.9 L437.2,222.4 L432.6,223.4 L427.9,224.1 L423.1,224.6 L418.4,224.9 L413.6,225.0 L408.9,224.9 L404.1,224.7 L399.3,224.2 L394.6,223.5 L389.9,222.5 L385.2,221.1 L380.7,219.5 L376.3,217.6 L372.0,215.4 L367.9,213.0 L363.9,210.3 L360.1,207.3 L356.6,204.1 L353.4,200.6 L350.5,196.8 L347.9,192.9 L345.6,188.8 L343.5,184.6 L341.7,180.3 L340.1,176.1 L338.6,171.9 L337.1,167.7 L335.7,163.6 L334.2,159.5 L332.8,155.5 L331.3,151.4 L329.9,147.3 L328.5,143.2 L327.4,138.9 L326.5,134.6 L326.1,130.2Z" fill="none" stroke="#000" stroke-opacity="0.85" stroke-width="0.75" stroke-linejoin="round"/>
<path d="M342.4,126.2 L343.6,122.7 L345.0,119.2 L346.6,116.0 L348.5,112.8 L350.6,109.9 L353.0,107.2 L355.7,104.7 L358.6,102.5 L361.4,100.5 L364.1,98.6 L366.5,96.6 L368.3,94.4 L369.7,91.8 L370.6,88.8 L371.2,85.4 L371.8,81.6 L372.6,77.7 L373.8,73.9 L375.4,70.4 L377.6,67.4 L380.2,64.8 L383.1,62.7 L386.3,61.0 L389.6,59.5 L392.9,58.1 L396.3,56.9 L399.8,55.8 L403.4,55.1 L407.0,54.9 L410.6,55.4 L414.2,56.7 L417.7,58.7 L420.9,61.3 L423.9,64.2 L426.5,67.3 L429.0,70.2 L431.3,72.7 L433.6,74.8 L435.9,76.5 L438.2,77.8 L440.6,79.1 L443.0,80.3 L445.3,81.7 L447.4,83.4 L449.2,85.4 L450.8,87.6 L452.3,89.9 L453.6,92.2 L455.0,94.3 L456.7,96.2 L458.7,97.9 L461.3,99.3 L464.2,100.7 L467.6,102.0 L471.1,103.6 L474.7,105.4 L478.1,107.5 L481.0,110.0 L483.3,112.9 L485.0,116.0 L486.1,119.4 L486.7,122.8 L486.8,126.3 L486.8,129.7 L486.7,133.2 L486.6,136.7 L486.6,140.2 L486.6,143.8 L486.5,147.5 L486.3,151.2 L485.9,155.0 L485.1,158.6 L483.9,162.2 L482.2,165.5 L480.1,168.6 L477.6,171.4 L474.7,173.8 L471.6,176.0 L468.3,177.8 L464.9,179.4 L461.6,180.9 L458.4,182.3 L455.4,183.9 L452.6,185.9 L450.1,188.2 L447.7,190.9 L445.3,194.0 L442.7,197.3 L440.0,200.6 L436.9,203.6 L433.6,206.2 L429.9,208.1 L426.0,209.3 L422.0,209.8 L418.0,209.8 L414.0,209.5 L410.0,209.1 L406.0,208.7 L402.0,208.4 L398.0,208.2 L393.8,208.0 L389.7,207.7 L385.5,207.2 L381.3,206.3 L377.2,205.0 L373.3,203.4 L369.5,201.4 L365.9,199.1 L362.5,196.6 L359.2,193.8 L356.3,190.7 L353.6,187.4 L351.2,183.9 L349.2,180.1 L347.6,176.2 L346.3,172.1 L345.3,168.1 L344.4,164.0 L343.6,160.1 L342.8,156.3 L342.0,152.5 L341.3,148.7 L340.7,144.9 L340.4,141.1 L340.5,137.3 L340.8,133.5 L341.5,129.8Z" fill="none" stroke="#000" stroke-opacity="0.85" stroke-width="0.75" stroke-linejoin="round"/>
<path d="M349.8,126.4 L350.9,123.2 L352.4,120.2 L354.2,117.3 L356.2,114.6 L358.4,112.1 L360.8,109.7 L363.1,107.6 L365.3,105.5 L367.4,103.5 L369.3,101.6 L371.1,99.6 L372.7,97.5 L374.2,95.4 L375.7,93.2 L377.1,91.0 L378.6,88.7 L380.1,86.4 L381.8,84.1 L383.5,81.9 L385.4,79.6 L387.4,77.5 L389.6,75.5 L391.9,73.6 L394.4,72.1 L397.1,70.8 L400.0,70.0 L402.9,69.7 L405.9,69.9 L408.9,70.7 L411.9,71.9 L414.7,73.6 L417.3,75.5 L419.7,77.6 L422.0,79.7 L424.0,81.6 L426.0,83.4 L428.0,84.8 L429.9,86.0 L431.9,86.9 L433.9,87.6 L436.0,88.2 L438.2,88.9 L440.3,89.6 L442.4,90.5 L444.5,91.5 L446.6,92.6 L448.6,93.8 L450.6,95.1 L452.7,96.3 L454.9,97.6 L457.3,98.9 L459.9,100.2 L462.6,101.6 L465.4,103.2 L468.1,104.9 L470.8,106.9 L473.1,109.1 L475.2,111.6 L476.9,114.3 L478.2,117.2 L479.0,120.2 L479.6,123.3 L479.9,126.4 L480.1,129.6 L480.1,132.7 L480.0,135.9 L479.9,139.1 L479.6,142.3 L479.1,145.5 L478.4,148.6 L477.3,151.7 L475.9,154.5 L474.1,157.2 L471.9,159.7 L469.4,161.8 L466.7,163.7 L463.9,165.3 L461.0,166.8 L458.2,168.2 L455.5,169.5 L452.9,170.8 L450.4,172.0 L447.9,173.3 L445.4,174.5 L443.0,175.6 L440.4,176.6 L437.9,177.3 L435.2,177.8 L432.6,178.1 L429.9,178.3 L427.3,178.4 L424.8,178.5 L422.3,178.7 L419.8,179.0 L417.3,179.6 L414.7,180.3 L412.1,181.2 L409.3,182.2 L406.4,183.2 L403.4,184.1 L400.3,184.8 L397.1,185.3 L393.8,185.5 L390.6,185.4 L387.3,185.0 L384.0,184.4 L380.8,183.6 L377.6,182.6 L374.3,181.4 L371.2,180.0 L368.0,178.4 L365.0,176.6 L362.1,174.5 L359.5,172.1 L357.1,169.5 L355.0,166.6 L353.3,163.5 L351.9,160.3 L350.8,156.9 L349.9,153.5 L349.3,150.0 L348.8,146.6 L348.5,143.2 L348.3,139.7 L348.3,136.3 L348.5,133.0 L349.0,129.6Z" fill="none" stroke="#000" stroke-opacity="0.85" stroke-width="0.75" stroke-linejoin="round"/>
<path d="M362.8,126.7 L363.3,124.1 L363.9,121.6 L364.6,119.1 L365.6,116.7 L366.6,114.3 L367.8,112.1 L369.2,109.9 L370.6,107.9 L372.2,105.9 L373.9,104.1 L375.6,102.4 L377.4,100.8 L379.3,99.4 L381.2,98.0 L383.2,96.8 L385.2,95.6 L387.1,94.5 L389.1,93.6 L391.2,92.7 L393.2,92.0 L395.2,91.3 L397.2,90.7 L399.3,90.3 L401.3,89.9 L403.3,89.6 L405.3,89.4 L407.3,89.3 L409.3,89.2 L411.2,89.2 L413.1,89.3 L415.1,89.4 L416.9,89.6 L418.8,89.8 L420.7,90.1 L422.5,90.4 L424.3,90.8 L426.2,91.3 L427.9,91.9 L429.7,92.5 L431.4,93.2 L433.2,93.9 L434.9,94.7 L436.6,95.5 L438.3,96.4 L440.0,97.3 L441.8,98.1 L443.6,99.0 L445.5,99.9 L447.5,100.9 L449.5,101.9 L451.6,102.9 L453.8,104.1 L455.9,105.4 L458.1,106.8 L460.2,108.4 L462.1,110.2 L463.9,112.2 L465.5,114.3 L466.8,116.6 L467.8,119.0 L468.5,121.5 L469.0,124.1 L469.1,126.7 L468.9,129.3 L468.5,131.9 L467.8,134.4 L467.0,136.8 L465.9,139.2 L464.7,141.5 L463.4,143.7 L462.0,145.7 L460.4,147.7 L458.7,149.5 L457.0,151.2 L455.1,152.8 L453.2,154.2 L451.2,155.5 L449.1,156.6 L447.0,157.5 L444.8,158.3 L442.7,158.9 L440.5,159.4 L438.4,159.9 L436.4,160.2 L434.4,160.6 L432.5,160.9 L430.7,161.2 L428.9,161.6 L427.2,161.9 L425.5,162.4 L423.8,162.8 L422.1,163.2 L420.4,163.7 L418.7,164.0 L416.9,164.3 L415.1,164.5 L413.3,164.7 L411.5,164.7 L409.7,164.6 L407.8,164.4 L406.0,164.2 L404.1,163.9 L402.3,163.6 L400.4,163.2 L398.4,162.9 L396.4,162.6 L394.3,162.3 L392.1,162.0 L389.8,161.6 L387.4,161.1 L385.0,160.6 L382.5,159.9 L380.0,159.0 L377.6,158.0 L375.3,156.7 L373.0,155.2 L371.0,153.5 L369.1,151.6 L367.5,149.5 L366.1,147.3 L364.9,144.9 L363.9,142.4 L363.2,139.8 L362.8,137.2 L362.5,134.6 L362.4,132.0 L362.5,129.3Z" fill="none" stroke="#000" stroke-opacity="0.85" stroke-width="0.75" stroke-linejoin="round"/>
<path d="M383.3,116.7 L385.8,107.9 L394.6,101.6 L409.7,99.1 L424.7,100.4 L436.1,107.9 L446.1,119.2 L448.6,128.0 L444.8,139.3 L436.1,148.1 L422.2,150.6 L407.2,148.1 L394.6,140.5 L385.8,130.5Z" fill="none" stroke="#000" stroke-opacity="0.85" stroke-width="0.75" stroke-linejoin="round"/>
</g>
<rect x="299.4" y="30.3" width="228.6" height="217.6" fill="none" stroke="#000" stroke-width="1.3"/>
<path d="M299.0,248.3v4" stroke="#000" stroke-width="1.2"/>
<text transform="translate(297.8,265.5) scale(1.10,1)" text-anchor="middle" class="tk" font-size="10.7">-10</text>
<path d="M356.4,248.3v4" stroke="#000" stroke-width="1.2"/>
<text transform="translate(355.2,265.5) scale(1.10,1)" text-anchor="middle" class="tk" font-size="10.7">-5</text>
<path d="M413.7,248.3v4" stroke="#000" stroke-width="1.2"/>
<text transform="translate(413.7,265.5) scale(1.10,1)" text-anchor="middle" class="tk" font-size="10.7">0</text>
<path d="M471.0,248.3v4" stroke="#000" stroke-width="1.2"/>
<text transform="translate(471.0,265.5) scale(1.10,1)" text-anchor="middle" class="tk" font-size="10.7">5</text>
<path d="M528.4,248.3v4" stroke="#000" stroke-width="1.2"/>
<text transform="translate(528.4,265.5) scale(1.10,1)" text-anchor="middle" class="tk" font-size="10.7">10</text>
<path d="M327.7,248.3v2.5" stroke="#000" stroke-width="1.2"/>
<path d="M385.0,248.3v2.5" stroke="#000" stroke-width="1.2"/>
<path d="M442.4,248.3v2.5" stroke="#000" stroke-width="1.2"/>
<path d="M499.7,248.3v2.5" stroke="#000" stroke-width="1.2"/>
<path d="M299.0,51.7h-4" stroke="#000" stroke-width="1.2"/>
<text transform="translate(292.5,55.6) scale(1.10,1)" text-anchor="end" class="tk" font-size="10.7">10</text>
<path d="M299.0,106.3h-4" stroke="#000" stroke-width="1.2"/>
<text transform="translate(292.5,110.2) scale(1.10,1)" text-anchor="end" class="tk" font-size="10.7">5</text>
<path d="M299.0,160.9h-4" stroke="#000" stroke-width="1.2"/>
<text transform="translate(292.5,164.8) scale(1.10,1)" text-anchor="end" class="tk" font-size="10.7">0</text>
<path d="M299.0,215.5h-4" stroke="#000" stroke-width="1.2"/>
<text transform="translate(292.5,219.4) scale(1.10,1)" text-anchor="end" class="tk" font-size="10.7">-5</text>
<path d="M299.0,79.0h-2.5" stroke="#000" stroke-width="1.2"/>
<path d="M299.0,133.6h-2.5" stroke="#000" stroke-width="1.2"/>
<path d="M299.0,188.2h-2.5" stroke="#000" stroke-width="1.2"/>
<path d="M299.0,242.8h-2.5" stroke="#000" stroke-width="1.2"/>
<clipPath id="cs2"><rect x="33.7" y="322.0" width="226.0" height="218.8"/></clipPath>
<g clip-path="url(#cs2)">
<rect x="33.7" y="322.0" width="226.0" height="218.8" fill="#0000ff"/>
<path d="M30.7,432.2 L31.0,426.7 L31.9,421.2 L33.2,415.8 L35.1,410.5 L37.3,405.5 L39.9,400.6 L42.8,396.0 L45.9,391.5 L49.1,387.2 L52.4,383.1 L55.8,379.1 L59.2,375.3 L62.7,371.5 L66.2,367.8 L69.7,364.2 L73.2,360.7 L76.9,357.2 L80.5,353.7 L84.3,350.2 L88.1,346.7 L92.0,343.3 L96.1,339.9 L100.3,336.5 L104.7,333.2 L109.3,330.0 L114.1,326.9 L119.1,324.0 L124.3,321.3 L129.7,319.0 L135.3,316.9 L141.1,315.3 L147.0,314.2 L153.0,313.5 L159.0,313.4 L165.0,313.9 L171.0,315.0 L176.8,316.6 L182.4,318.8 L187.8,321.5 L192.9,324.6 L197.8,328.1 L202.4,331.8 L206.8,335.9 L210.9,340.1 L214.7,344.5 L218.2,349.0 L221.5,353.5 L224.7,358.2 L227.7,362.8 L230.7,367.3 L233.8,371.8 L237.0,376.1 L240.4,380.4 L244.1,384.6 L247.9,388.9 L251.7,393.4 L255.5,398.2 L259.0,403.2 L262.0,408.5 L264.5,414.1 L266.3,419.9 L267.4,425.9 L267.7,432.0 L267.3,438.0 L266.2,444.0 L264.7,449.9 L262.6,455.6 L260.3,461.1 L257.6,466.4 L254.9,471.6 L251.9,476.6 L248.9,481.5 L245.8,486.2 L242.6,490.8 L239.2,495.3 L235.6,499.5 L231.9,503.6 L227.9,507.4 L223.8,511.0 L219.6,514.4 L215.2,517.5 L210.8,520.5 L206.3,523.4 L201.7,526.2 L197.2,528.9 L192.6,531.6 L188.0,534.3 L183.3,536.9 L178.5,539.4 L173.6,541.8 L168.5,543.9 L163.2,545.7 L157.8,547.1 L152.3,548.1 L146.8,548.4 L141.2,548.2 L135.7,547.4 L130.3,546.1 L125.0,544.3 L119.9,542.1 L115.1,539.6 L110.4,536.8 L105.9,533.8 L101.6,530.6 L97.5,527.4 L93.5,524.2 L89.6,520.8 L85.9,517.5 L82.2,514.1 L78.7,510.7 L75.2,507.2 L71.8,503.7 L68.4,500.2 L65.1,496.5 L61.8,492.9 L58.6,489.1 L55.3,485.2 L52.1,481.3 L48.8,477.2 L45.7,472.9 L42.7,468.5 L39.8,463.8 L37.2,459.0 L35.0,453.9 L33.1,448.7 L31.8,443.3 L31.0,437.8Z" fill="#0040ff"/>
<path d="M46.8,432.6 L46.9,427.8 L47.3,423.1 L48.0,418.3 L49.0,413.7 L50.4,409.1 L52.0,404.6 L54.1,400.3 L56.5,396.2 L59.2,392.3 L62.1,388.6 L65.3,385.1 L68.6,381.9 L71.9,378.7 L75.2,375.7 L78.5,372.7 L81.7,369.6 L84.9,366.5 L88.1,363.3 L91.2,360.1 L94.5,356.8 L97.9,353.6 L101.4,350.4 L105.2,347.5 L109.2,344.8 L113.4,342.4 L117.8,340.3 L122.4,338.7 L127.1,337.4 L131.9,336.5 L136.7,335.9 L141.6,335.6 L146.4,335.6 L151.3,335.9 L156.2,336.4 L161.0,337.2 L165.7,338.3 L170.4,339.7 L174.9,341.4 L179.3,343.6 L183.4,346.0 L187.4,348.8 L191.1,351.8 L194.6,355.1 L198.0,358.4 L201.1,361.8 L204.3,365.1 L207.4,368.4 L210.6,371.6 L213.9,374.7 L217.3,377.8 L220.8,380.9 L224.5,384.0 L228.1,387.4 L231.7,390.9 L235.2,394.6 L238.4,398.6 L241.3,402.9 L243.8,407.4 L245.9,412.1 L247.5,417.0 L248.7,422.1 L249.4,427.2 L249.6,432.4 L249.4,437.6 L248.7,442.7 L247.5,447.8 L246.1,452.7 L244.5,457.6 L242.7,462.3 L240.9,467.0 L239.1,471.7 L237.2,476.3 L235.1,480.9 L232.6,485.2 L229.7,489.3 L226.5,493.1 L222.8,496.5 L218.9,499.6 L214.9,502.5 L210.8,505.2 L206.7,507.7 L202.6,510.1 L198.6,512.5 L194.5,514.8 L190.5,517.1 L186.4,519.2 L182.2,521.2 L178.0,523.0 L173.6,524.7 L169.2,526.1 L164.7,527.2 L160.2,528.1 L155.6,528.8 L151.0,529.3 L146.3,529.6 L141.7,529.7 L137.0,529.6 L132.4,529.3 L127.7,528.7 L123.1,527.9 L118.6,526.7 L114.2,525.2 L110.0,523.2 L105.9,520.9 L102.1,518.2 L98.6,515.2 L95.3,511.9 L92.3,508.5 L89.4,505.0 L86.7,501.5 L83.9,498.1 L81.2,494.8 L78.3,491.7 L75.2,488.7 L72.0,485.7 L68.7,482.7 L65.4,479.5 L62.1,476.2 L59.1,472.6 L56.3,468.8 L53.9,464.8 L51.8,460.5 L50.1,456.1 L48.8,451.5 L47.9,446.9 L47.2,442.1 L46.9,437.4Z" fill="#0080ff"/>
<path d="M53.1,432.8 L53.1,428.3 L53.4,423.8 L54.0,419.4 L54.9,415.0 L56.2,410.7 L57.8,406.5 L59.8,402.5 L62.2,398.7 L64.9,395.2 L67.9,391.9 L71.1,388.8 L74.4,386.0 L77.8,383.4 L81.2,380.8 L84.4,378.3 L87.5,375.6 L90.4,372.9 L93.3,370.0 L96.0,366.9 L98.8,363.7 L101.7,360.4 L104.8,357.2 L108.1,354.1 L111.7,351.4 L115.6,349.0 L119.6,347.0 L123.9,345.5 L128.3,344.3 L132.7,343.5 L137.2,343.1 L141.7,342.9 L146.3,342.9 L150.8,343.1 L155.3,343.6 L159.7,344.3 L164.2,345.2 L168.5,346.5 L172.7,348.0 L176.8,349.9 L180.7,352.1 L184.5,354.6 L188.0,357.4 L191.3,360.3 L194.5,363.3 L197.5,366.5 L200.4,369.6 L203.4,372.6 L206.3,375.7 L209.3,378.6 L212.4,381.6 L215.6,384.6 L218.7,387.7 L221.8,390.9 L224.8,394.3 L227.6,397.9 L230.2,401.8 L232.4,405.8 L234.3,410.0 L235.8,414.4 L236.9,418.9 L237.7,423.4 L238.1,428.1 L238.3,432.7 L238.1,437.3 L237.6,441.9 L236.9,446.5 L235.8,450.9 L234.5,455.3 L233.1,459.6 L231.4,463.9 L229.7,468.0 L227.8,472.1 L225.8,476.2 L223.7,480.2 L221.4,484.0 L218.8,487.7 L215.9,491.1 L212.8,494.4 L209.5,497.3 L205.9,500.1 L202.3,502.6 L198.6,505.0 L194.9,507.3 L191.1,509.4 L187.3,511.5 L183.4,513.3 L179.5,515.1 L175.5,516.6 L171.4,518.0 L167.3,519.2 L163.1,520.1 L158.9,520.9 L154.7,521.6 L150.4,522.1 L146.1,522.4 L141.8,522.6 L137.5,522.7 L133.2,522.5 L128.9,522.2 L124.6,521.6 L120.3,520.6 L116.1,519.4 L112.1,517.7 L108.2,515.7 L104.6,513.3 L101.2,510.6 L98.0,507.6 L95.1,504.5 L92.3,501.3 L89.6,498.1 L87.0,494.9 L84.3,491.8 L81.5,488.9 L78.6,486.0 L75.7,483.1 L72.6,480.2 L69.6,477.1 L66.7,473.9 L64.1,470.4 L61.6,466.8 L59.5,462.9 L57.8,458.9 L56.3,454.7 L55.2,450.4 L54.3,446.1 L53.7,441.7 L53.2,437.2Z" fill="#00bfff"/>
<path d="M59.4,432.9 L59.3,428.8 L59.5,424.6 L60.0,420.4 L60.8,416.3 L61.9,412.3 L63.5,408.4 L65.5,404.7 L67.9,401.3 L70.7,398.1 L73.7,395.2 L77.0,392.5 L80.3,390.2 L83.8,388.0 L87.1,385.9 L90.3,383.9 L93.2,381.7 L95.9,379.3 L98.4,376.6 L100.8,373.7 L103.2,370.5 L105.6,367.2 L108.2,363.9 L111.1,360.8 L114.3,358.0 L117.8,355.6 L121.5,353.7 L125.4,352.2 L129.5,351.2 L133.6,350.6 L137.7,350.2 L141.9,350.1 L146.1,350.2 L150.2,350.4 L154.4,350.8 L158.5,351.4 L162.6,352.2 L166.6,353.3 L170.6,354.6 L174.4,356.3 L178.0,358.2 L181.5,360.4 L184.9,362.9 L188.0,365.5 L191.0,368.3 L193.8,371.1 L196.6,374.0 L199.3,376.9 L202.1,379.7 L204.8,382.6 L207.5,385.4 L210.3,388.3 L213.0,391.3 L215.5,394.5 L217.9,397.8 L220.1,401.3 L222.0,404.9 L223.6,408.7 L224.8,412.6 L225.7,416.6 L226.3,420.7 L226.7,424.8 L226.9,428.9 L226.9,433.0 L226.8,437.0 L226.6,441.1 L226.2,445.1 L225.5,449.1 L224.6,453.1 L223.4,457.0 L221.9,460.7 L220.2,464.4 L218.4,468.0 L216.6,471.5 L214.8,475.1 L213.0,478.7 L211.2,482.3 L209.1,485.8 L206.7,489.1 L204.0,492.1 L201.1,494.9 L197.9,497.5 L194.6,499.9 L191.2,502.0 L187.7,504.0 L184.1,505.9 L180.5,507.5 L176.8,509.0 L173.0,510.2 L169.2,511.3 L165.4,512.3 L161.5,513.1 L157.7,513.7 L153.8,514.3 L149.9,514.8 L146.0,515.2 L142.0,515.5 L138.0,515.7 L134.0,515.8 L130.0,515.6 L126.0,515.3 L122.0,514.6 L118.0,513.6 L114.2,512.2 L110.5,510.5 L107.1,508.4 L103.8,506.0 L100.7,503.4 L97.9,500.5 L95.2,497.6 L92.6,494.6 L90.0,491.7 L87.4,488.9 L84.8,486.1 L82.1,483.3 L79.3,480.6 L76.5,477.7 L73.9,474.7 L71.3,471.6 L69.0,468.2 L67.0,464.7 L65.2,461.0 L63.7,457.2 L62.5,453.3 L61.5,449.3 L60.7,445.3 L60.1,441.2 L59.6,437.1Z" fill="#00ffff"/>
<path d="M66.2,433.1 L66.1,429.3 L66.3,425.4 L66.8,421.6 L67.5,417.8 L68.6,414.1 L69.9,410.5 L71.7,407.1 L73.7,403.8 L76.1,400.8 L78.7,398.0 L81.5,395.4 L84.5,393.1 L87.5,390.9 L90.5,388.9 L93.4,386.8 L96.2,384.8 L98.7,382.5 L101.1,380.0 L103.3,377.3 L105.6,374.4 L107.9,371.3 L110.4,368.3 L113.2,365.5 L116.2,362.9 L119.5,360.8 L123.0,359.0 L126.6,357.6 L130.4,356.6 L134.2,355.9 L138.1,355.5 L142.0,355.3 L146.0,355.3 L149.9,355.4 L153.8,355.7 L157.7,356.3 L161.5,357.0 L165.3,358.0 L169.0,359.3 L172.6,360.9 L176.0,362.8 L179.3,364.9 L182.4,367.3 L185.3,369.8 L188.1,372.4 L190.8,375.1 L193.3,377.8 L195.9,380.5 L198.4,383.2 L200.9,385.9 L203.5,388.6 L206.0,391.4 L208.4,394.2 L210.7,397.2 L212.8,400.3 L214.8,403.6 L216.4,407.1 L217.8,410.6 L218.8,414.3 L219.6,418.0 L220.1,421.8 L220.4,425.6 L220.5,429.4 L220.4,433.1 L220.1,436.9 L219.7,440.6 L219.0,444.2 L218.1,447.8 L216.8,451.4 L215.4,454.7 L213.7,458.0 L212.0,461.2 L210.3,464.4 L208.7,467.6 L207.2,470.8 L205.8,474.1 L204.2,477.4 L202.5,480.7 L200.5,483.8 L198.2,486.6 L195.7,489.3 L192.9,491.7 L190.0,493.9 L186.9,495.9 L183.7,497.7 L180.5,499.4 L177.2,501.0 L173.9,502.3 L170.4,503.6 L167.0,504.6 L163.5,505.6 L160.0,506.3 L156.5,507.0 L153.0,507.6 L149.4,508.1 L145.8,508.5 L142.2,508.9 L138.5,509.1 L134.9,509.2 L131.1,509.1 L127.4,508.8 L123.7,508.2 L120.1,507.3 L116.6,506.1 L113.2,504.5 L110.0,502.6 L106.9,500.4 L104.1,497.9 L101.5,495.3 L99.1,492.5 L96.8,489.8 L94.5,487.0 L92.2,484.3 L89.8,481.8 L87.4,479.2 L84.8,476.7 L82.3,474.1 L79.8,471.4 L77.4,468.5 L75.3,465.5 L73.3,462.3 L71.7,458.9 L70.3,455.4 L69.1,451.8 L68.1,448.2 L67.4,444.4 L66.8,440.7 L66.4,436.9Z" fill="#00ffbf"/>
<path d="M73.0,433.3 L73.0,429.8 L73.2,426.3 L73.6,422.8 L74.2,419.3 L75.2,415.9 L76.3,412.6 L77.8,409.5 L79.5,406.4 L81.5,403.5 L83.7,400.8 L86.1,398.3 L88.6,396.0 L91.3,393.9 L94.0,391.8 L96.6,389.8 L99.1,387.8 L101.5,385.7 L103.7,383.4 L105.9,380.9 L108.0,378.2 L110.3,375.5 L112.7,372.8 L115.3,370.2 L118.1,367.9 L121.2,365.9 L124.4,364.3 L127.8,363.0 L131.3,362.0 L134.9,361.3 L138.5,360.8 L142.2,360.5 L145.8,360.4 L149.5,360.4 L153.2,360.7 L156.8,361.1 L160.4,361.8 L164.0,362.8 L167.5,364.0 L170.8,365.5 L174.0,367.3 L177.0,369.4 L179.9,371.6 L182.6,374.0 L185.2,376.5 L187.7,379.1 L190.1,381.6 L192.4,384.1 L194.7,386.7 L197.1,389.2 L199.4,391.8 L201.6,394.4 L203.8,397.1 L205.9,400.0 L207.7,402.9 L209.4,406.0 L210.8,409.2 L212.0,412.5 L212.9,415.9 L213.5,419.4 L213.9,422.9 L214.1,426.4 L214.1,429.8 L213.8,433.3 L213.4,436.7 L212.8,440.1 L211.8,443.4 L210.6,446.6 L209.0,449.6 L207.3,452.5 L205.5,455.3 L203.7,458.0 L202.2,460.8 L200.8,463.6 L199.6,466.5 L198.5,469.5 L197.3,472.6 L196.0,475.6 L194.4,478.5 L192.5,481.2 L190.3,483.6 L187.9,485.9 L185.3,487.9 L182.6,489.8 L179.7,491.5 L176.9,493.0 L173.9,494.4 L170.9,495.7 L167.9,496.9 L164.8,497.9 L161.7,498.8 L158.5,499.6 L155.3,500.3 L152.1,500.9 L148.9,501.4 L145.6,501.8 L142.4,502.2 L139.0,502.4 L135.7,502.5 L132.3,502.5 L128.9,502.3 L125.5,501.8 L122.2,501.0 L119.0,499.9 L115.8,498.5 L112.9,496.8 L110.1,494.8 L107.6,492.5 L105.2,490.1 L103.0,487.5 L101.0,484.9 L98.9,482.3 L96.9,479.8 L94.8,477.4 L92.6,475.1 L90.4,472.8 L88.0,470.4 L85.8,468.0 L83.6,465.4 L81.5,462.7 L79.7,459.8 L78.1,456.8 L76.8,453.6 L75.7,450.3 L74.8,447.0 L74.1,443.6 L73.5,440.2 L73.2,436.7Z" fill="#00ff80"/>
<path d="M80.8,433.4 L80.7,430.3 L80.8,427.2 L81.1,424.1 L81.5,421.0 L82.2,417.9 L83.1,414.9 L84.2,411.9 L85.5,409.1 L87.1,406.4 L88.9,403.8 L90.9,401.4 L93.0,399.1 L95.3,397.0 L97.7,395.1 L100.1,393.2 L102.4,391.3 L104.7,389.5 L106.9,387.5 L109.0,385.3 L111.1,383.1 L113.3,380.8 L115.6,378.5 L118.0,376.4 L120.6,374.4 L123.4,372.8 L126.4,371.4 L129.5,370.3 L132.6,369.4 L135.8,368.8 L139.1,368.4 L142.4,368.2 L145.6,368.3 L148.9,368.5 L152.2,368.9 L155.4,369.5 L158.5,370.4 L161.6,371.4 L164.6,372.7 L167.5,374.2 L170.2,375.8 L172.9,377.6 L175.4,379.5 L177.9,381.5 L180.2,383.6 L182.5,385.7 L184.8,387.7 L187.0,389.8 L189.3,391.9 L191.5,394.0 L193.7,396.2 L195.9,398.5 L198.0,400.8 L200.0,403.3 L201.9,405.9 L203.6,408.6 L205.1,411.4 L206.4,414.4 L207.4,417.4 L208.3,420.6 L208.9,423.7 L209.4,426.9 L209.7,430.2 L209.8,433.4 L209.7,436.6 L209.3,439.8 L208.6,443.0 L207.7,446.0 L206.4,449.0 L204.8,451.8 L203.0,454.5 L201.1,457.0 L199.2,459.5 L197.5,461.9 L195.9,464.4 L194.4,466.9 L192.8,469.4 L191.1,471.8 L189.3,474.0 L187.1,476.1 L184.8,477.9 L182.3,479.5 L179.8,480.8 L177.2,482.1 L174.6,483.2 L172.0,484.4 L169.4,485.5 L166.8,486.5 L164.3,487.6 L161.7,488.7 L159.1,489.7 L156.5,490.7 L153.8,491.6 L151.1,492.4 L148.3,493.1 L145.4,493.6 L142.6,494.0 L139.6,494.2 L136.7,494.2 L133.8,494.0 L130.8,493.6 L127.9,493.0 L125.1,492.2 L122.3,491.2 L119.6,490.0 L117.0,488.6 L114.6,487.0 L112.2,485.2 L109.9,483.4 L107.8,481.4 L105.7,479.4 L103.6,477.4 L101.6,475.4 L99.5,473.4 L97.4,471.4 L95.3,469.3 L93.2,467.1 L91.3,464.9 L89.4,462.5 L87.8,459.9 L86.3,457.3 L85.1,454.5 L84.0,451.6 L83.1,448.7 L82.4,445.7 L81.8,442.7 L81.3,439.6 L81.0,436.5Z" fill="#00fc40"/>
<path d="M88.6,433.6 L88.4,430.9 L88.4,428.1 L88.5,425.4 L88.8,422.6 L89.2,419.8 L89.8,417.1 L90.6,414.4 L91.5,411.7 L92.7,409.2 L94.1,406.7 L95.6,404.4 L97.4,402.2 L99.3,400.2 L101.4,398.3 L103.6,396.5 L105.8,394.9 L108.0,393.2 L110.1,391.5 L112.2,389.8 L114.2,387.9 L116.3,386.1 L118.5,384.3 L120.7,382.5 L123.2,381.0 L125.7,379.6 L128.4,378.5 L131.1,377.5 L133.9,376.8 L136.8,376.3 L139.7,376.0 L142.6,376.0 L145.4,376.1 L148.3,376.5 L151.1,377.1 L153.9,377.9 L156.6,378.9 L159.2,380.1 L161.7,381.4 L164.1,382.8 L166.5,384.3 L168.7,385.9 L170.9,387.5 L173.1,389.1 L175.2,390.6 L177.4,392.2 L179.5,393.9 L181.6,395.5 L183.8,397.1 L185.9,398.8 L188.0,400.6 L190.1,402.5 L192.2,404.5 L194.1,406.6 L196.0,408.8 L197.7,411.2 L199.3,413.7 L200.7,416.3 L202.0,418.9 L203.1,421.7 L204.0,424.6 L204.7,427.5 L205.3,430.5 L205.7,433.5 L205.9,436.5 L205.8,439.6 L205.5,442.6 L204.8,445.5 L203.7,448.4 L202.3,451.1 L200.5,453.7 L198.4,456.0 L196.3,458.2 L194.2,460.3 L192.2,462.3 L190.2,464.3 L188.3,466.2 L186.3,468.0 L184.1,469.6 L181.8,471.0 L179.4,472.1 L176.8,473.0 L174.3,473.8 L171.8,474.4 L169.4,475.0 L167.1,475.7 L164.9,476.5 L162.8,477.3 L160.7,478.3 L158.7,479.4 L156.6,480.6 L154.5,481.8 L152.3,482.9 L150.0,483.9 L147.7,484.7 L145.2,485.4 L142.8,485.8 L140.2,486.0 L137.7,485.9 L135.2,485.5 L132.8,485.0 L130.4,484.3 L128.0,483.4 L125.7,482.4 L123.4,481.4 L121.2,480.3 L119.0,479.1 L116.8,477.9 L114.7,476.6 L112.5,475.3 L110.4,473.9 L108.3,472.5 L106.2,471.0 L104.2,469.4 L102.2,467.7 L100.2,465.8 L98.4,463.9 L96.8,461.7 L95.3,459.5 L94.0,457.2 L92.9,454.7 L92.0,452.2 L91.2,449.6 L90.5,447.0 L90.0,444.4 L89.5,441.7 L89.1,439.0 L88.8,436.4Z" fill="#00f600"/>
<path d="M95.1,433.8 L95.0,431.4 L95.0,429.0 L95.1,426.5 L95.3,424.1 L95.7,421.6 L96.3,419.3 L97.1,416.9 L98.0,414.6 L99.1,412.4 L100.4,410.3 L101.8,408.3 L103.3,406.4 L105.0,404.6 L106.8,402.9 L108.7,401.4 L110.6,399.9 L112.5,398.4 L114.4,397.0 L116.2,395.6 L118.1,394.2 L120.1,392.8 L122.1,391.4 L124.1,390.2 L126.3,389.1 L128.5,388.2 L130.8,387.4 L133.2,386.7 L135.5,386.2 L137.9,385.9 L140.4,385.7 L142.8,385.7 L145.2,385.8 L147.6,386.1 L150.0,386.6 L152.3,387.2 L154.6,387.9 L156.8,388.8 L158.9,389.8 L161.0,391.0 L163.0,392.2 L164.9,393.5 L166.8,394.8 L168.6,396.2 L170.4,397.6 L172.1,399.0 L173.9,400.4 L175.6,401.8 L177.4,403.2 L179.2,404.7 L180.9,406.2 L182.7,407.7 L184.4,409.4 L186.1,411.1 L187.7,413.0 L189.3,414.9 L190.7,417.0 L192.1,419.1 L193.3,421.4 L194.5,423.7 L195.5,426.1 L196.4,428.5 L197.2,431.1 L197.9,433.7 L198.4,436.3 L198.7,439.0 L198.8,441.8 L198.7,444.5 L198.2,447.2 L197.4,449.8 L196.2,452.3 L194.8,454.6 L193.2,456.8 L191.4,458.9 L189.6,460.8 L187.6,462.6 L185.6,464.3 L183.5,465.8 L181.2,467.1 L178.9,468.2 L176.5,469.2 L174.1,469.9 L171.8,470.6 L169.5,471.2 L167.3,471.7 L165.1,472.3 L163.1,472.9 L161.1,473.6 L159.2,474.3 L157.2,475.1 L155.3,475.8 L153.3,476.5 L151.3,477.2 L149.3,477.7 L147.2,478.2 L145.1,478.4 L142.9,478.6 L140.8,478.5 L138.7,478.4 L136.5,478.0 L134.4,477.6 L132.4,477.1 L130.3,476.5 L128.3,475.8 L126.2,475.1 L124.2,474.3 L122.2,473.4 L120.2,472.5 L118.2,471.6 L116.3,470.5 L114.3,469.4 L112.4,468.2 L110.5,466.9 L108.7,465.5 L106.9,463.9 L105.3,462.3 L103.7,460.5 L102.3,458.6 L101.0,456.6 L99.9,454.5 L99.0,452.4 L98.1,450.1 L97.4,447.9 L96.9,445.6 L96.3,443.3 L95.9,440.9 L95.6,438.6 L95.3,436.2Z" fill="#64ff00"/>
<path d="M101.6,434.0 L101.5,431.9 L101.5,429.8 L101.6,427.6 L101.9,425.5 L102.3,423.5 L102.9,421.4 L103.6,419.4 L104.5,417.5 L105.5,415.6 L106.6,413.8 L107.9,412.1 L109.2,410.5 L110.7,409.0 L112.2,407.5 L113.7,406.2 L115.3,404.9 L117.0,403.6 L118.6,402.5 L120.3,401.4 L122.1,400.4 L123.9,399.5 L125.7,398.6 L127.6,397.9 L129.4,397.3 L131.4,396.7 L133.3,396.3 L135.2,395.9 L137.2,395.7 L139.1,395.5 L141.1,395.4 L143.0,395.4 L145.0,395.5 L146.9,395.7 L148.8,396.0 L150.7,396.4 L152.6,396.9 L154.4,397.5 L156.1,398.2 L157.9,399.1 L159.5,400.0 L161.1,401.0 L162.6,402.1 L164.1,403.3 L165.5,404.5 L166.9,405.7 L168.3,406.9 L169.7,408.1 L171.0,409.3 L172.4,410.5 L173.8,411.7 L175.2,413.0 L176.7,414.3 L178.1,415.7 L179.5,417.2 L180.8,418.7 L182.1,420.3 L183.4,422.0 L184.6,423.8 L185.8,425.6 L187.0,427.5 L188.0,429.6 L189.1,431.7 L190.0,433.9 L190.9,436.2 L191.6,438.5 L192.2,440.9 L192.5,443.4 L192.6,445.9 L192.5,448.4 L192.0,450.9 L191.2,453.2 L190.1,455.4 L188.7,457.5 L187.0,459.3 L185.0,461.0 L182.9,462.4 L180.7,463.6 L178.4,464.6 L176.0,465.5 L173.7,466.2 L171.5,466.8 L169.3,467.4 L167.2,467.9 L165.2,468.4 L163.2,468.9 L161.3,469.4 L159.5,469.9 L157.6,470.3 L155.8,470.7 L154.0,471.1 L152.2,471.3 L150.3,471.5 L148.5,471.6 L146.7,471.6 L144.9,471.5 L143.1,471.3 L141.3,471.1 L139.6,470.9 L137.8,470.6 L136.1,470.2 L134.3,469.9 L132.6,469.5 L130.8,469.1 L129.0,468.7 L127.3,468.3 L125.4,467.8 L123.6,467.2 L121.8,466.5 L120.0,465.8 L118.2,464.9 L116.5,463.9 L114.8,462.8 L113.2,461.6 L111.7,460.2 L110.3,458.7 L109.0,457.2 L107.8,455.5 L106.8,453.7 L105.9,451.9 L105.0,450.0 L104.3,448.1 L103.7,446.1 L103.2,444.2 L102.7,442.2 L102.3,440.1 L102.0,438.1 L101.7,436.0Z" fill="#b9ff00"/>
<path d="M107.8,434.1 L107.7,432.3 L107.7,430.5 L107.9,428.7 L108.2,427.0 L108.6,425.2 L109.1,423.5 L109.8,421.8 L110.5,420.2 L111.4,418.6 L112.5,417.1 L113.6,415.7 L114.7,414.4 L116.0,413.1 L117.3,411.9 L118.6,410.8 L119.9,409.7 L121.3,408.7 L122.7,407.7 L124.2,406.8 L125.6,406.0 L127.1,405.2 L128.6,404.5 L130.2,403.8 L131.8,403.3 L133.4,402.8 L135.0,402.5 L136.7,402.3 L138.3,402.1 L139.9,402.1 L141.6,402.2 L143.2,402.3 L144.8,402.6 L146.4,402.9 L147.9,403.3 L149.4,403.8 L150.9,404.3 L152.3,404.9 L153.7,405.6 L155.1,406.3 L156.4,407.0 L157.7,407.8 L158.9,408.7 L160.1,409.5 L161.3,410.4 L162.5,411.4 L163.6,412.3 L164.7,413.2 L165.9,414.2 L167.0,415.2 L168.1,416.2 L169.2,417.2 L170.4,418.3 L171.5,419.4 L172.6,420.6 L173.6,421.9 L174.7,423.2 L175.7,424.5 L176.7,426.0 L177.6,427.5 L178.5,429.0 L179.4,430.6 L180.2,432.3 L181.0,434.1 L181.8,435.9 L182.4,437.8 L183.0,439.8 L183.4,441.8 L183.7,443.9 L183.8,446.0 L183.6,448.1 L183.2,450.1 L182.6,452.1 L181.7,454.0 L180.6,455.7 L179.2,457.3 L177.7,458.7 L176.0,459.9 L174.1,461.0 L172.2,461.9 L170.2,462.6 L168.3,463.2 L166.4,463.6 L164.5,464.1 L162.6,464.4 L160.8,464.7 L159.1,465.0 L157.4,465.3 L155.8,465.6 L154.2,465.9 L152.6,466.1 L151.0,466.3 L149.5,466.4 L147.9,466.5 L146.3,466.6 L144.8,466.5 L143.2,466.5 L141.7,466.3 L140.2,466.2 L138.6,465.9 L137.1,465.7 L135.6,465.4 L134.1,465.1 L132.5,464.8 L131.0,464.4 L129.4,463.9 L127.9,463.4 L126.4,462.8 L124.9,462.2 L123.4,461.4 L121.9,460.6 L120.6,459.6 L119.2,458.6 L117.9,457.5 L116.7,456.3 L115.6,455.0 L114.6,453.6 L113.6,452.2 L112.7,450.7 L111.9,449.2 L111.2,447.7 L110.5,446.1 L109.9,444.4 L109.4,442.8 L108.9,441.1 L108.5,439.4 L108.2,437.6 L108.0,435.9Z" fill="#ffff00"/>
<path d="M114.1,432.7 L117.9,421.4 L128.0,412.6 L138.0,408.8 L150.6,412.6 L163.1,421.4 L171.9,433.9 L175.2,445.2 L173.2,454.0 L160.6,460.3 L145.5,461.5 L130.5,459.0 L120.4,450.2 L115.4,440.2Z" fill="#ffbf00"/>
<path d="M122.2,441.9 L124.4,427.4 L138.3,414.6 L152.6,420.1 L162.6,433.2 L164.9,454.8 L152.6,457.8 L134.0,456.3 L126.7,449.2Z" fill="#ff8000"/>
<path d="M46.8,432.6 L46.9,427.8 L47.3,423.1 L48.0,418.3 L49.0,413.7 L50.4,409.1 L52.0,404.6 L54.1,400.3 L56.5,396.2 L59.2,392.3 L62.1,388.6 L65.3,385.1 L68.6,381.9 L71.9,378.7 L75.2,375.7 L78.5,372.7 L81.7,369.6 L84.9,366.5 L88.1,363.3 L91.2,360.1 L94.5,356.8 L97.9,353.6 L101.4,350.4 L105.2,347.5 L109.2,344.8 L113.4,342.4 L117.8,340.3 L122.4,338.7 L127.1,337.4 L131.9,336.5 L136.7,335.9 L141.6,335.6 L146.4,335.6 L151.3,335.9 L156.2,336.4 L161.0,337.2 L165.7,338.3 L170.4,339.7 L174.9,341.4 L179.3,343.6 L183.4,346.0 L187.4,348.8 L191.1,351.8 L194.6,355.1 L198.0,358.4 L201.1,361.8 L204.3,365.1 L207.4,368.4 L210.6,371.6 L213.9,374.7 L217.3,377.8 L220.8,380.9 L224.5,384.0 L228.1,387.4 L231.7,390.9 L235.2,394.6 L238.4,398.6 L241.3,402.9 L243.8,407.4 L245.9,412.1 L247.5,417.0 L248.7,422.1 L249.4,427.2 L249.6,432.4 L249.4,437.6 L248.7,442.7 L247.5,447.8 L246.1,452.7 L244.5,457.6 L242.7,462.3 L240.9,467.0 L239.1,471.7 L237.2,476.3 L235.1,480.9 L232.6,485.2 L229.7,489.3 L226.5,493.1 L222.8,496.5 L218.9,499.6 L214.9,502.5 L210.8,505.2 L206.7,507.7 L202.6,510.1 L198.6,512.5 L194.5,514.8 L190.5,517.1 L186.4,519.2 L182.2,521.2 L178.0,523.0 L173.6,524.7 L169.2,526.1 L164.7,527.2 L160.2,528.1 L155.6,528.8 L151.0,529.3 L146.3,529.6 L141.7,529.7 L137.0,529.6 L132.4,529.3 L127.7,528.7 L123.1,527.9 L118.6,526.7 L114.2,525.2 L110.0,523.2 L105.9,520.9 L102.1,518.2 L98.6,515.2 L95.3,511.9 L92.3,508.5 L89.4,505.0 L86.7,501.5 L83.9,498.1 L81.2,494.8 L78.3,491.7 L75.2,488.7 L72.0,485.7 L68.7,482.7 L65.4,479.5 L62.1,476.2 L59.1,472.6 L56.3,468.8 L53.9,464.8 L51.8,460.5 L50.1,456.1 L48.8,451.5 L47.9,446.9 L47.2,442.1 L46.9,437.4Z" fill="none" stroke="#000" stroke-opacity="0.85" stroke-width="0.75" stroke-linejoin="round"/>
<path d="M59.4,432.9 L59.3,428.8 L59.5,424.6 L60.0,420.4 L60.8,416.3 L61.9,412.3 L63.5,408.4 L65.5,404.7 L67.9,401.3 L70.7,398.1 L73.7,395.2 L77.0,392.5 L80.3,390.2 L83.8,388.0 L87.1,385.9 L90.3,383.9 L93.2,381.7 L95.9,379.3 L98.4,376.6 L100.8,373.7 L103.2,370.5 L105.6,367.2 L108.2,363.9 L111.1,360.8 L114.3,358.0 L117.8,355.6 L121.5,353.7 L125.4,352.2 L129.5,351.2 L133.6,350.6 L137.7,350.2 L141.9,350.1 L146.1,350.2 L150.2,350.4 L154.4,350.8 L158.5,351.4 L162.6,352.2 L166.6,353.3 L170.6,354.6 L174.4,356.3 L178.0,358.2 L181.5,360.4 L184.9,362.9 L188.0,365.5 L191.0,368.3 L193.8,371.1 L196.6,374.0 L199.3,376.9 L202.1,379.7 L204.8,382.6 L207.5,385.4 L210.3,388.3 L213.0,391.3 L215.5,394.5 L217.9,397.8 L220.1,401.3 L222.0,404.9 L223.6,408.7 L224.8,412.6 L225.7,416.6 L226.3,420.7 L226.7,424.8 L226.9,428.9 L226.9,433.0 L226.8,437.0 L226.6,441.1 L226.2,445.1 L225.5,449.1 L224.6,453.1 L223.4,457.0 L221.9,460.7 L220.2,464.4 L218.4,468.0 L216.6,471.5 L214.8,475.1 L213.0,478.7 L211.2,482.3 L209.1,485.8 L206.7,489.1 L204.0,492.1 L201.1,494.9 L197.9,497.5 L194.6,499.9 L191.2,502.0 L187.7,504.0 L184.1,505.9 L180.5,507.5 L176.8,509.0 L173.0,510.2 L169.2,511.3 L165.4,512.3 L161.5,513.1 L157.7,513.7 L153.8,514.3 L149.9,514.8 L146.0,515.2 L142.0,515.5 L138.0,515.7 L134.0,515.8 L130.0,515.6 L126.0,515.3 L122.0,514.6 L118.0,513.6 L114.2,512.2 L110.5,510.5 L107.1,508.4 L103.8,506.0 L100.7,503.4 L97.9,500.5 L95.2,497.6 L92.6,494.6 L90.0,491.7 L87.4,488.9 L84.8,486.1 L82.1,483.3 L79.3,480.6 L76.5,477.7 L73.9,474.7 L71.3,471.6 L69.0,468.2 L67.0,464.7 L65.2,461.0 L63.7,457.2 L62.5,453.3 L61.5,449.3 L60.7,445.3 L60.1,441.2 L59.6,437.1Z" fill="none" stroke="#000" stroke-opacity="0.85" stroke-width="0.75" stroke-linejoin="round"/>
<path d="M73.0,433.3 L73.0,429.8 L73.2,426.3 L73.6,422.8 L74.2,419.3 L75.2,415.9 L76.3,412.6 L77.8,409.5 L79.5,406.4 L81.5,403.5 L83.7,400.8 L86.1,398.3 L88.6,396.0 L91.3,393.9 L94.0,391.8 L96.6,389.8 L99.1,387.8 L101.5,385.7 L103.7,383.4 L105.9,380.9 L108.0,378.2 L110.3,375.5 L112.7,372.8 L115.3,370.2 L118.1,367.9 L121.2,365.9 L124.4,364.3 L127.8,363.0 L131.3,362.0 L134.9,361.3 L138.5,360.8 L142.2,360.5 L145.8,360.4 L149.5,360.4 L153.2,360.7 L156.8,361.1 L160.4,361.8 L164.0,362.8 L167.5,364.0 L170.8,365.5 L174.0,367.3 L177.0,369.4 L179.9,371.6 L182.6,374.0 L185.2,376.5 L187.7,379.1 L190.1,381.6 L192.4,384.1 L194.7,386.7 L197.1,389.2 L199.4,391.8 L201.6,394.4 L203.8,397.1 L205.9,400.0 L207.7,402.9 L209.4,406.0 L210.8,409.2 L212.0,412.5 L212.9,415.9 L213.5,419.4 L213.9,422.9 L214.1,426.4 L214.1,429.8 L213.8,433.3 L213.4,436.7 L212.8,440.1 L211.8,443.4 L210.6,446.6 L209.0,449.6 L207.3,452.5 L205.5,455.3 L203.7,458.0 L202.2,460.8 L200.8,463.6 L199.6,466.5 L198.5,469.5 L197.3,472.6 L196.0,475.6 L194.4,478.5 L192.5,481.2 L190.3,483.6 L187.9,485.9 L185.3,487.9 L182.6,489.8 L179.7,491.5 L176.9,493.0 L173.9,494.4 L170.9,495.7 L167.9,496.9 L164.8,497.9 L161.7,498.8 L158.5,499.6 L155.3,500.3 L152.1,500.9 L148.9,501.4 L145.6,501.8 L142.4,502.2 L139.0,502.4 L135.7,502.5 L132.3,502.5 L128.9,502.3 L125.5,501.8 L122.2,501.0 L119.0,499.9 L115.8,498.5 L112.9,496.8 L110.1,494.8 L107.6,492.5 L105.2,490.1 L103.0,487.5 L101.0,484.9 L98.9,482.3 L96.9,479.8 L94.8,477.4 L92.6,475.1 L90.4,472.8 L88.0,470.4 L85.8,468.0 L83.6,465.4 L81.5,462.7 L79.7,459.8 L78.1,456.8 L76.8,453.6 L75.7,450.3 L74.8,447.0 L74.1,443.6 L73.5,440.2 L73.2,436.7Z" fill="none" stroke="#000" stroke-opacity="0.85" stroke-width="0.75" stroke-linejoin="round"/>
<path d="M88.6,433.6 L88.4,430.9 L88.4,428.1 L88.5,425.4 L88.8,422.6 L89.2,419.8 L89.8,417.1 L90.6,414.4 L91.5,411.7 L92.7,409.2 L94.1,406.7 L95.6,404.4 L97.4,402.2 L99.3,400.2 L101.4,398.3 L103.6,396.5 L105.8,394.9 L108.0,393.2 L110.1,391.5 L112.2,389.8 L114.2,387.9 L116.3,386.1 L118.5,384.3 L120.7,382.5 L123.2,381.0 L125.7,379.6 L128.4,378.5 L131.1,377.5 L133.9,376.8 L136.8,376.3 L139.7,376.0 L142.6,376.0 L145.4,376.1 L148.3,376.5 L151.1,377.1 L153.9,377.9 L156.6,378.9 L159.2,380.1 L161.7,381.4 L164.1,382.8 L166.5,384.3 L168.7,385.9 L170.9,387.5 L173.1,389.1 L175.2,390.6 L177.4,392.2 L179.5,393.9 L181.6,395.5 L183.8,397.1 L185.9,398.8 L188.0,400.6 L190.1,402.5 L192.2,404.5 L194.1,406.6 L196.0,408.8 L197.7,411.2 L199.3,413.7 L200.7,416.3 L202.0,418.9 L203.1,421.7 L204.0,424.6 L204.7,427.5 L205.3,430.5 L205.7,433.5 L205.9,436.5 L205.8,439.6 L205.5,442.6 L204.8,445.5 L203.7,448.4 L202.3,451.1 L200.5,453.7 L198.4,456.0 L196.3,458.2 L194.2,460.3 L192.2,462.3 L190.2,464.3 L188.3,466.2 L186.3,468.0 L184.1,469.6 L181.8,471.0 L179.4,472.1 L176.8,473.0 L174.3,473.8 L171.8,474.4 L169.4,475.0 L167.1,475.7 L164.9,476.5 L162.8,477.3 L160.7,478.3 L158.7,479.4 L156.6,480.6 L154.5,481.8 L152.3,482.9 L150.0,483.9 L147.7,484.7 L145.2,485.4 L142.8,485.8 L140.2,486.0 L137.7,485.9 L135.2,485.5 L132.8,485.0 L130.4,484.3 L128.0,483.4 L125.7,482.4 L123.4,481.4 L121.2,480.3 L119.0,479.1 L116.8,477.9 L114.7,476.6 L112.5,475.3 L110.4,473.9 L108.3,472.5 L106.2,471.0 L104.2,469.4 L102.2,467.7 L100.2,465.8 L98.4,463.9 L96.8,461.7 L95.3,459.5 L94.0,457.2 L92.9,454.7 L92.0,452.2 L91.2,449.6 L90.5,447.0 L90.0,444.4 L89.5,441.7 L89.1,439.0 L88.8,436.4Z" fill="none" stroke="#000" stroke-opacity="0.85" stroke-width="0.75" stroke-linejoin="round"/>
<path d="M101.6,434.0 L101.5,431.9 L101.5,429.8 L101.6,427.6 L101.9,425.5 L102.3,423.5 L102.9,421.4 L103.6,419.4 L104.5,417.5 L105.5,415.6 L106.6,413.8 L107.9,412.1 L109.2,410.5 L110.7,409.0 L112.2,407.5 L113.7,406.2 L115.3,404.9 L117.0,403.6 L118.6,402.5 L120.3,401.4 L122.1,400.4 L123.9,399.5 L125.7,398.6 L127.6,397.9 L129.4,397.3 L131.4,396.7 L133.3,396.3 L135.2,395.9 L137.2,395.7 L139.1,395.5 L141.1,395.4 L143.0,395.4 L145.0,395.5 L146.9,395.7 L148.8,396.0 L150.7,396.4 L152.6,396.9 L154.4,397.5 L156.1,398.2 L157.9,399.1 L159.5,400.0 L161.1,401.0 L162.6,402.1 L164.1,403.3 L165.5,404.5 L166.9,405.7 L168.3,406.9 L169.7,408.1 L171.0,409.3 L172.4,410.5 L173.8,411.7 L175.2,413.0 L176.7,414.3 L178.1,415.7 L179.5,417.2 L180.8,418.7 L182.1,420.3 L183.4,422.0 L184.6,423.8 L185.8,425.6 L187.0,427.5 L188.0,429.6 L189.1,431.7 L190.0,433.9 L190.9,436.2 L191.6,438.5 L192.2,440.9 L192.5,443.4 L192.6,445.9 L192.5,448.4 L192.0,450.9 L191.2,453.2 L190.1,455.4 L188.7,457.5 L187.0,459.3 L185.0,461.0 L182.9,462.4 L180.7,463.6 L178.4,464.6 L176.0,465.5 L173.7,466.2 L171.5,466.8 L169.3,467.4 L167.2,467.9 L165.2,468.4 L163.2,468.9 L161.3,469.4 L159.5,469.9 L157.6,470.3 L155.8,470.7 L154.0,471.1 L152.2,471.3 L150.3,471.5 L148.5,471.6 L146.7,471.6 L144.9,471.5 L143.1,471.3 L141.3,471.1 L139.6,470.9 L137.8,470.6 L136.1,470.2 L134.3,469.9 L132.6,469.5 L130.8,469.1 L129.0,468.7 L127.3,468.3 L125.4,467.8 L123.6,467.2 L121.8,466.5 L120.0,465.8 L118.2,464.9 L116.5,463.9 L114.8,462.8 L113.2,461.6 L111.7,460.2 L110.3,458.7 L109.0,457.2 L107.8,455.5 L106.8,453.7 L105.9,451.9 L105.0,450.0 L104.3,448.1 L103.7,446.1 L103.2,444.2 L102.7,442.2 L102.3,440.1 L102.0,438.1 L101.7,436.0Z" fill="none" stroke="#000" stroke-opacity="0.85" stroke-width="0.75" stroke-linejoin="round"/>
<path d="M114.1,432.7 L117.9,421.4 L128.0,412.6 L138.0,408.8 L150.6,412.6 L163.1,421.4 L171.9,433.9 L175.2,445.2 L173.2,454.0 L160.6,460.3 L145.5,461.5 L130.5,459.0 L120.4,450.2 L115.4,440.2Z" fill="none" stroke="#000" stroke-opacity="0.85" stroke-width="0.75" stroke-linejoin="round"/>
<path d="M33.8,506.8L65.2,540.7" fill="none" stroke="#000" stroke-opacity="0.8" stroke-width="0.6"/>
<path d="M137.6,428.3c-1.6,1.2-1.0,3.0 0,4.6l0.6,6.8l1.2-6.8c1.2-2.0 0.6-4.2-1.8-4.6z" fill="#ff4000" stroke="#000" stroke-width="0.7"/>
</g>
<rect x="34.1" y="322.4" width="225.2" height="218.0" fill="none" stroke="#000" stroke-width="1.3"/>
<path d="M45.0,540.8v4" stroke="#000" stroke-width="1.2"/>
<text transform="translate(43.8,556.3) scale(1.10,1)" text-anchor="middle" class="tk" font-size="10.7">-10</text>
<path d="M101.5,540.8v4" stroke="#000" stroke-width="1.2"/>
<text transform="translate(100.3,556.3) scale(1.10,1)" text-anchor="middle" class="tk" font-size="10.7">-5</text>
<path d="M158.0,540.8v4" stroke="#000" stroke-width="1.2"/>
<text transform="translate(158.0,556.3) scale(1.10,1)" text-anchor="middle" class="tk" font-size="10.7">0</text>
<path d="M214.5,540.8v4" stroke="#000" stroke-width="1.2"/>
<text transform="translate(214.5,556.3) scale(1.10,1)" text-anchor="middle" class="tk" font-size="10.7">5</text>
<path d="M73.2,540.8v2.5" stroke="#000" stroke-width="1.2"/>
<path d="M129.8,540.8v2.5" stroke="#000" stroke-width="1.2"/>
<path d="M186.2,540.8v2.5" stroke="#000" stroke-width="1.2"/>
<path d="M242.8,540.8v2.5" stroke="#000" stroke-width="1.2"/>
<path d="M33.7,354.8h-4" stroke="#000" stroke-width="1.2"/>
<text transform="translate(27.3,358.7) scale(1.10,1)" text-anchor="end" class="tk" font-size="10.7">5</text>
<path d="M33.7,409.5h-4" stroke="#000" stroke-width="1.2"/>
<text transform="translate(27.3,413.4) scale(1.10,1)" text-anchor="end" class="tk" font-size="10.7">0</text>
<path d="M33.7,464.2h-4" stroke="#000" stroke-width="1.2"/>
<text transform="translate(27.3,468.1) scale(1.10,1)" text-anchor="end" class="tk" font-size="10.7">-5</text>
<path d="M33.7,518.9h-4" stroke="#000" stroke-width="1.2"/>
<text transform="translate(27.3,522.8) scale(1.10,1)" text-anchor="end" class="tk" font-size="10.7">-10</text>
<path d="M33.7,327.5h-2.5" stroke="#000" stroke-width="1.2"/>
<path d="M33.7,382.2h-2.5" stroke="#000" stroke-width="1.2"/>
<path d="M33.7,436.9h-2.5" stroke="#000" stroke-width="1.2"/>
<path d="M33.7,491.6h-2.5" stroke="#000" stroke-width="1.2"/>
<clipPath id="cs4"><rect x="298.5" y="327.0" width="230.0" height="213.6"/></clipPath>
<g clip-path="url(#cs4)">
<rect x="298.5" y="327.0" width="230.0" height="213.6" fill="#0000ff"/>
<path d="M303.9,435.2 L303.9,429.4 L304.1,423.7 L304.7,418.0 L305.7,412.3 L307.2,406.8 L309.1,401.3 L311.4,396.1 L314.1,391.1 L317.3,386.3 L320.7,381.8 L324.5,377.5 L328.4,373.5 L332.5,369.7 L336.7,366.2 L340.9,362.7 L345.2,359.4 L349.4,356.1 L353.6,352.9 L357.8,349.8 L362.1,346.6 L366.5,343.6 L371.0,340.7 L375.7,338.0 L380.4,335.5 L385.4,333.2 L390.5,331.3 L395.7,329.7 L401.0,328.5 L406.4,327.6 L411.8,327.1 L417.3,326.9 L422.7,327.1 L428.1,327.6 L433.5,328.5 L438.8,329.7 L444.0,331.2 L449.1,333.0 L454.0,335.0 L458.9,337.1 L463.7,339.4 L468.4,341.9 L472.9,344.6 L477.3,347.5 L481.4,350.8 L485.3,354.3 L489.0,358.1 L492.4,362.0 L495.6,366.0 L498.7,370.1 L501.8,374.2 L504.8,378.3 L507.8,382.4 L510.9,386.5 L513.9,390.7 L516.8,395.1 L519.7,399.5 L522.4,404.2 L525.0,409.0 L527.2,413.9 L529.2,419.0 L530.9,424.3 L532.2,429.7 L533.2,435.2 L533.7,440.8 L533.7,446.4 L533.2,452.0 L532.2,457.5 L530.6,462.8 L528.5,468.0 L525.9,473.0 L522.8,477.7 L519.4,482.1 L515.6,486.1 L511.6,489.9 L507.4,493.4 L503.2,496.6 L499.0,499.6 L494.8,502.5 L490.7,505.3 L486.7,508.1 L482.8,510.8 L479.0,513.6 L475.1,516.3 L471.3,519.0 L467.3,521.6 L463.3,524.1 L459.2,526.4 L455.0,528.6 L450.6,530.6 L446.1,532.5 L441.6,534.1 L436.9,535.6 L432.2,537.0 L427.4,538.3 L422.5,539.5 L417.5,540.6 L412.4,541.7 L407.1,542.6 L401.7,543.4 L396.2,544.0 L390.6,544.3 L384.9,544.2 L379.2,543.6 L373.6,542.6 L368.1,541.1 L362.7,539.1 L357.6,536.5 L352.7,533.5 L348.1,530.1 L343.8,526.4 L339.7,522.3 L335.9,518.1 L332.4,513.6 L329.1,509.0 L326.0,504.2 L323.1,499.4 L320.4,494.4 L317.9,489.4 L315.5,484.3 L313.4,479.1 L311.5,473.9 L309.7,468.5 L308.2,463.1 L306.9,457.6 L305.8,452.1 L304.9,446.5 L304.3,440.8Z" fill="#0040ff"/>
<path d="M312.3,435.4 L312.1,430.0 L312.2,424.7 L312.6,419.4 L313.5,414.1 L314.7,408.9 L316.4,403.8 L318.6,398.9 L321.1,394.2 L324.0,389.7 L327.2,385.4 L330.6,381.4 L334.1,377.5 L337.7,373.8 L341.4,370.2 L345.1,366.7 L348.8,363.3 L352.6,359.9 L356.4,356.5 L360.3,353.2 L364.3,350.0 L368.5,347.0 L372.8,344.2 L377.3,341.6 L382.0,339.4 L386.8,337.4 L391.7,335.8 L396.8,334.5 L401.9,333.6 L407.0,332.9 L412.2,332.5 L417.4,332.5 L422.6,332.7 L427.7,333.2 L432.8,334.1 L437.8,335.4 L442.7,337.0 L447.4,338.9 L452.1,340.9 L456.6,343.2 L461.0,345.6 L465.3,348.1 L469.4,350.8 L473.4,353.7 L477.2,356.8 L480.7,360.2 L484.0,363.8 L487.2,367.5 L490.2,371.2 L493.1,375.0 L495.9,378.7 L498.8,382.5 L501.7,386.3 L504.5,390.1 L507.2,394.1 L509.8,398.2 L512.3,402.4 L514.6,406.7 L516.8,411.2 L518.7,415.8 L520.4,420.6 L522.0,425.4 L523.3,430.4 L524.5,435.4 L525.4,440.6 L526.0,445.8 L526.3,451.1 L526.2,456.4 L525.7,461.7 L524.7,467.0 L523.0,472.0 L520.6,476.8 L517.5,481.2 L513.7,485.2 L509.4,488.6 L504.7,491.7 L499.9,494.3 L495.2,496.7 L490.7,499.0 L486.4,501.2 L482.4,503.6 L478.7,506.0 L475.1,508.6 L471.6,511.2 L468.1,513.9 L464.5,516.6 L460.9,519.2 L457.1,521.7 L453.2,524.0 L449.1,526.0 L444.9,527.8 L440.5,529.4 L436.1,530.7 L431.6,531.9 L427.0,533.0 L422.4,533.9 L417.6,534.8 L412.8,535.6 L407.9,536.2 L402.9,536.7 L397.8,537.0 L392.6,537.0 L387.4,536.7 L382.2,536.0 L377.1,534.9 L372.0,533.3 L367.1,531.3 L362.4,528.9 L357.9,526.1 L353.7,523.0 L349.6,519.6 L345.8,515.9 L342.2,512.1 L338.9,508.0 L335.7,503.8 L332.7,499.5 L330.0,495.0 L327.5,490.4 L325.1,485.8 L323.0,481.0 L321.1,476.1 L319.4,471.2 L317.9,466.3 L316.5,461.2 L315.3,456.2 L314.3,451.0 L313.4,445.9 L312.7,440.6Z" fill="#0080ff"/>
<path d="M319.6,435.5 L319.3,430.6 L319.3,425.6 L319.5,420.6 L320.1,415.6 L321.2,410.7 L322.6,405.8 L324.5,401.2 L326.7,396.7 L329.3,392.3 L332.1,388.2 L335.2,384.3 L338.3,380.5 L341.6,376.8 L344.9,373.3 L348.3,369.7 L351.7,366.3 L355.2,362.9 L358.8,359.5 L362.4,356.3 L366.3,353.2 L370.3,350.2 L374.5,347.5 L378.8,345.1 L383.4,343.0 L388.0,341.2 L392.8,339.7 L397.6,338.4 L402.6,337.5 L407.5,336.8 L412.5,336.3 L417.5,336.1 L422.5,336.1 L427.5,336.5 L432.4,337.2 L437.3,338.3 L442.1,339.7 L446.7,341.5 L451.2,343.5 L455.6,345.6 L459.9,347.9 L464.1,350.4 L468.1,353.0 L472.0,355.9 L475.7,359.0 L479.1,362.3 L482.3,365.8 L485.4,369.4 L488.2,373.0 L491.0,376.7 L493.7,380.5 L496.4,384.2 L499.0,388.0 L501.5,391.8 L504.0,395.7 L506.3,399.8 L508.4,403.9 L510.4,408.1 L512.2,412.5 L513.8,416.9 L515.3,421.5 L516.7,426.1 L517.9,430.8 L519.0,435.6 L519.9,440.5 L520.6,445.4 L521.0,450.5 L521.0,455.5 L520.6,460.6 L519.7,465.6 L518.1,470.4 L515.9,475.0 L512.9,479.2 L509.3,483.0 L505.2,486.3 L500.8,489.2 L496.3,491.7 L491.8,494.0 L487.5,496.2 L483.5,498.4 L479.7,500.7 L476.1,503.1 L472.7,505.5 L469.3,508.1 L466.0,510.6 L462.6,513.2 L459.1,515.6 L455.4,517.9 L451.6,520.0 L447.7,521.9 L443.7,523.6 L439.6,525.1 L435.3,526.4 L431.0,527.6 L426.7,528.6 L422.2,529.6 L417.7,530.6 L413.1,531.4 L408.4,532.2 L403.6,532.7 L398.7,533.1 L393.7,533.1 L388.7,532.8 L383.7,532.1 L378.8,531.0 L373.9,529.5 L369.3,527.6 L364.8,525.2 L360.5,522.5 L356.4,519.4 L352.6,516.1 L349.0,512.6 L345.7,508.8 L342.5,504.8 L339.6,500.7 L337.0,496.5 L334.6,492.1 L332.4,487.6 L330.4,483.1 L328.7,478.5 L327.1,473.8 L325.8,469.1 L324.6,464.4 L323.5,459.7 L322.5,454.9 L321.6,450.1 L320.8,445.3 L320.2,440.5Z" fill="#00bfff"/>
<path d="M327.0,435.7 L326.6,431.1 L326.3,426.4 L326.4,421.8 L326.8,417.1 L327.6,412.4 L328.8,407.9 L330.4,403.4 L332.3,399.1 L334.6,395.0 L337.1,391.0 L339.8,387.2 L342.6,383.5 L345.5,379.8 L348.5,376.3 L351.5,372.8 L354.6,369.3 L357.8,365.9 L361.1,362.5 L364.6,359.3 L368.3,356.3 L372.1,353.5 L376.2,350.9 L380.4,348.6 L384.8,346.6 L389.3,344.9 L393.8,343.5 L398.5,342.3 L403.2,341.4 L408.0,340.6 L412.8,340.0 L417.6,339.7 L422.4,339.6 L427.2,339.7 L432.1,340.3 L436.8,341.2 L441.5,342.5 L446.0,344.1 L450.4,346.0 L454.7,348.0 L458.9,350.3 L462.9,352.7 L466.9,355.3 L470.6,358.1 L474.2,361.1 L477.5,364.3 L480.6,367.7 L483.5,371.3 L486.3,374.9 L489.0,378.5 L491.5,382.2 L494.0,385.9 L496.4,389.6 L498.6,393.5 L500.8,397.4 L502.7,401.3 L504.5,405.4 L506.1,409.6 L507.6,413.8 L508.9,418.0 L510.2,422.4 L511.4,426.7 L512.5,431.2 L513.5,435.7 L514.4,440.3 L515.2,445.0 L515.6,449.8 L515.8,454.6 L515.5,459.4 L514.7,464.2 L513.2,468.8 L511.1,473.2 L508.4,477.2 L505.0,480.8 L501.1,483.9 L496.9,486.7 L492.6,489.1 L488.3,491.3 L484.3,493.5 L480.5,495.6 L476.9,497.8 L473.6,500.1 L470.3,502.5 L467.1,504.9 L463.9,507.3 L460.6,509.7 L457.3,512.0 L453.7,514.1 L450.1,516.1 L446.4,517.8 L442.5,519.4 L438.6,520.8 L434.6,522.0 L430.5,523.2 L426.4,524.3 L422.1,525.3 L417.8,526.3 L413.4,527.3 L408.9,528.1 L404.3,528.7 L399.5,529.1 L394.8,529.2 L390.0,528.9 L385.2,528.3 L380.5,527.2 L375.9,525.7 L371.4,523.8 L367.1,521.5 L363.1,518.8 L359.2,515.9 L355.6,512.6 L352.2,509.2 L349.1,505.5 L346.2,501.7 L343.6,497.6 L341.2,493.5 L339.1,489.2 L337.3,484.9 L335.7,480.4 L334.3,476.0 L333.2,471.5 L332.2,467.0 L331.3,462.5 L330.5,458.1 L329.7,453.7 L329.0,449.2 L328.3,444.8 L327.6,440.3Z" fill="#00ffff"/>
<path d="M330.8,435.8 L330.5,431.4 L330.4,427.0 L330.6,422.5 L331.0,418.0 L331.8,413.6 L332.9,409.2 L334.4,405.0 L336.2,400.8 L338.2,396.8 L340.6,393.0 L343.1,389.3 L345.8,385.7 L348.6,382.3 L351.5,378.9 L354.5,375.6 L357.5,372.3 L360.6,369.2 L363.8,366.0 L367.2,363.0 L370.7,360.2 L374.4,357.5 L378.2,355.0 L382.2,352.8 L386.4,350.8 L390.6,349.1 L395.0,347.7 L399.5,346.5 L404.0,345.5 L408.5,344.7 L413.1,344.1 L417.7,343.8 L422.3,343.6 L427.0,343.8 L431.6,344.2 L436.1,345.1 L440.6,346.3 L445.0,347.8 L449.2,349.6 L453.3,351.6 L457.3,353.8 L461.2,356.2 L464.9,358.7 L468.4,361.5 L471.8,364.5 L474.8,367.7 L477.7,371.1 L480.4,374.6 L482.9,378.1 L485.4,381.6 L487.8,385.1 L490.1,388.6 L492.3,392.2 L494.5,395.8 L496.5,399.5 L498.4,403.2 L500.1,407.1 L501.6,411.0 L503.0,415.0 L504.1,419.1 L505.2,423.2 L506.2,427.4 L507.1,431.6 L507.9,435.8 L508.7,440.2 L509.2,444.6 L509.6,449.1 L509.7,453.6 L509.4,458.1 L508.6,462.5 L507.3,466.8 L505.3,470.9 L502.8,474.7 L499.7,478.1 L496.1,481.1 L492.3,483.8 L488.3,486.1 L484.4,488.3 L480.6,490.3 L477.1,492.3 L473.7,494.4 L470.5,496.6 L467.4,498.8 L464.4,501.1 L461.4,503.4 L458.3,505.7 L455.2,507.9 L451.9,509.9 L448.5,511.8 L444.9,513.5 L441.3,515.0 L437.6,516.3 L433.8,517.6 L430.0,518.7 L426.0,519.8 L422.0,520.9 L417.9,521.9 L413.7,523.0 L409.4,523.9 L405.0,524.6 L400.4,525.1 L395.8,525.4 L391.2,525.2 L386.6,524.6 L382.1,523.5 L377.8,521.9 L373.6,519.9 L369.7,517.5 L366.0,514.7 L362.6,511.6 L359.4,508.3 L356.4,504.8 L353.7,501.1 L351.1,497.4 L348.7,493.6 L346.5,489.8 L344.4,485.9 L342.5,481.9 L340.7,477.9 L339.1,473.8 L337.7,469.7 L336.4,465.6 L335.3,461.4 L334.3,457.3 L333.4,453.0 L332.6,448.8 L331.9,444.5 L331.3,440.2Z" fill="#00ffbf"/>
<path d="M334.6,435.9 L334.5,431.7 L334.5,427.5 L334.7,423.2 L335.2,419.0 L336.0,414.7 L337.0,410.6 L338.3,406.5 L340.0,402.5 L341.9,398.7 L344.1,395.0 L346.5,391.4 L349.0,388.0 L351.7,384.7 L354.5,381.5 L357.4,378.4 L360.4,375.4 L363.4,372.4 L366.6,369.5 L369.8,366.7 L373.2,364.0 L376.7,361.5 L380.3,359.1 L384.1,357.0 L388.0,355.0 L392.0,353.3 L396.2,351.9 L400.4,350.7 L404.7,349.7 L409.0,348.9 L413.4,348.3 L417.8,347.9 L422.2,347.7 L426.7,347.8 L431.1,348.2 L435.4,349.0 L439.7,350.1 L443.9,351.5 L448.0,353.2 L452.0,355.1 L455.8,357.3 L459.5,359.6 L463.0,362.2 L466.3,364.9 L469.3,367.9 L472.2,371.1 L474.8,374.5 L477.3,377.9 L479.6,381.3 L481.8,384.7 L484.0,388.0 L486.2,391.4 L488.3,394.7 L490.4,398.1 L492.3,401.6 L494.1,405.1 L495.7,408.8 L497.1,412.5 L498.3,416.3 L499.4,420.2 L500.2,424.1 L501.0,428.0 L501.7,432.0 L502.3,436.0 L502.9,440.0 L503.3,444.1 L503.5,448.3 L503.5,452.5 L503.2,456.7 L502.5,460.8 L501.3,464.8 L499.5,468.7 L497.2,472.2 L494.4,475.5 L491.2,478.3 L487.7,480.9 L484.1,483.2 L480.5,485.2 L477.0,487.2 L473.6,489.1 L470.5,491.0 L467.5,493.0 L464.6,495.1 L461.7,497.3 L458.9,499.5 L456.1,501.6 L453.1,503.7 L450.0,505.7 L446.8,507.5 L443.5,509.2 L440.1,510.6 L436.6,511.9 L433.0,513.1 L429.4,514.2 L425.7,515.3 L421.9,516.4 L418.0,517.5 L414.1,518.6 L409.9,519.6 L405.7,520.5 L401.3,521.2 L396.9,521.5 L392.4,521.4 L388.0,520.9 L383.8,519.8 L379.6,518.2 L375.8,516.1 L372.2,513.5 L368.9,510.6 L365.9,507.3 L363.1,503.9 L360.6,500.4 L358.3,496.8 L356.0,493.2 L353.9,489.6 L351.8,486.1 L349.7,482.5 L347.7,479.0 L345.8,475.4 L343.9,471.7 L342.2,468.0 L340.6,464.2 L339.2,460.3 L338.0,456.4 L337.0,452.4 L336.2,448.3 L335.5,444.2 L335.0,440.1Z" fill="#00ff80"/>
<path d="M339.3,436.0 L339.1,432.0 L339.2,428.0 L339.3,424.0 L339.7,420.0 L340.3,416.0 L341.2,412.0 L342.4,408.1 L343.8,404.2 L345.6,400.5 L347.6,397.0 L349.9,393.6 L352.4,390.4 L355.1,387.4 L357.9,384.5 L360.9,381.7 L363.9,379.1 L367.0,376.5 L370.1,374.0 L373.3,371.6 L376.5,369.3 L379.8,367.1 L383.2,364.9 L386.7,362.9 L390.3,361.1 L394.0,359.4 L397.8,357.9 L401.7,356.7 L405.7,355.6 L409.7,354.7 L413.8,354.0 L417.9,353.5 L422.1,353.3 L426.2,353.3 L430.4,353.6 L434.5,354.1 L438.6,355.1 L442.6,356.3 L446.5,357.8 L450.3,359.6 L453.9,361.6 L457.3,363.9 L460.6,366.4 L463.6,369.1 L466.5,372.0 L469.1,375.1 L471.6,378.2 L473.9,381.4 L476.1,384.6 L478.2,387.8 L480.3,390.9 L482.4,394.0 L484.4,397.2 L486.3,400.4 L488.1,403.7 L489.7,407.1 L491.1,410.6 L492.3,414.1 L493.2,417.7 L494.0,421.4 L494.7,425.0 L495.2,428.7 L495.7,432.4 L496.2,436.1 L496.6,439.9 L496.9,443.7 L497.1,447.5 L497.0,451.4 L496.7,455.2 L496.1,459.1 L495.0,462.8 L493.4,466.3 L491.4,469.6 L488.9,472.7 L486.0,475.4 L482.8,477.8 L479.5,479.9 L476.1,481.8 L472.8,483.6 L469.7,485.3 L466.6,487.0 L463.7,488.7 L461.0,490.5 L458.3,492.3 L455.6,494.2 L452.9,496.2 L450.2,498.0 L447.4,499.8 L444.5,501.5 L441.5,503.0 L438.4,504.4 L435.2,505.6 L431.9,506.8 L428.6,507.9 L425.2,509.0 L421.8,510.1 L418.2,511.3 L414.5,512.4 L410.7,513.5 L406.7,514.5 L402.6,515.3 L398.5,515.7 L394.3,515.8 L390.2,515.3 L386.1,514.4 L382.3,512.9 L378.7,510.9 L375.4,508.5 L372.3,505.7 L369.6,502.6 L367.1,499.3 L364.9,495.9 L362.7,492.5 L360.7,489.2 L358.7,485.9 L356.7,482.6 L354.7,479.4 L352.6,476.2 L350.7,472.9 L348.7,469.6 L346.9,466.2 L345.3,462.7 L343.8,459.1 L342.5,455.4 L341.5,451.6 L340.7,447.8 L340.0,443.9 L339.6,440.0Z" fill="#00fc40"/>
<path d="M343.9,436.1 L343.8,432.4 L343.8,428.6 L344.0,424.8 L344.3,421.0 L344.7,417.2 L345.4,413.4 L346.4,409.6 L347.6,405.9 L349.2,402.4 L351.1,399.0 L353.3,395.8 L355.8,392.8 L358.5,390.0 L361.3,387.4 L364.3,385.0 L367.4,382.7 L370.5,380.6 L373.6,378.6 L376.7,376.5 L379.8,374.6 L383.0,372.6 L386.1,370.7 L389.4,368.9 L392.7,367.1 L396.0,365.5 L399.5,364.0 L403.1,362.6 L406.7,361.5 L410.4,360.5 L414.2,359.7 L418.1,359.2 L421.9,358.8 L425.8,358.8 L429.8,358.9 L433.7,359.3 L437.5,360.0 L441.3,361.0 L445.0,362.4 L448.6,364.0 L452.0,365.9 L455.2,368.1 L458.2,370.6 L461.0,373.3 L463.6,376.1 L466.1,379.0 L468.3,382.0 L470.5,384.9 L472.6,387.9 L474.7,390.8 L476.7,393.8 L478.6,396.7 L480.5,399.7 L482.2,402.7 L483.9,405.9 L485.3,409.1 L486.5,412.4 L487.4,415.7 L488.2,419.1 L488.7,422.6 L489.1,426.0 L489.5,429.4 L489.7,432.9 L490.0,436.3 L490.3,439.7 L490.5,443.2 L490.6,446.7 L490.5,450.2 L490.2,453.8 L489.7,457.3 L488.7,460.7 L487.3,464.0 L485.5,467.0 L483.3,469.9 L480.7,472.4 L477.9,474.7 L474.9,476.7 L471.8,478.4 L468.7,480.0 L465.7,481.5 L462.8,482.9 L460.0,484.4 L457.4,485.9 L454.8,487.4 L452.3,489.0 L449.8,490.7 L447.3,492.3 L444.8,493.9 L442.1,495.4 L439.4,496.8 L436.6,498.1 L433.8,499.3 L430.8,500.4 L427.8,501.6 L424.8,502.7 L421.6,503.8 L418.4,505.0 L415.0,506.2 L411.4,507.4 L407.8,508.5 L404.0,509.4 L400.1,509.9 L396.2,510.1 L392.3,509.8 L388.5,509.0 L384.9,507.7 L381.6,505.8 L378.5,503.5 L375.8,500.8 L373.3,497.8 L371.1,494.7 L369.1,491.5 L367.2,488.3 L365.3,485.1 L363.5,482.1 L361.6,479.1 L359.6,476.2 L357.6,473.4 L355.6,470.4 L353.6,467.5 L351.7,464.4 L349.9,461.2 L348.4,457.8 L347.0,454.4 L346.0,450.8 L345.2,447.2 L344.6,443.6 L344.2,439.9Z" fill="#00f600"/>
<path d="M348.3,436.2 L348.1,432.7 L348.1,429.1 L348.3,425.6 L348.6,422.0 L349.1,418.4 L349.8,414.8 L350.8,411.3 L352.0,407.9 L353.5,404.6 L355.3,401.4 L357.3,398.3 L359.6,395.4 L362.0,392.7 L364.6,390.2 L367.3,387.8 L370.1,385.6 L373.0,383.5 L375.9,381.5 L378.8,379.6 L381.9,377.8 L384.9,376.0 L388.0,374.4 L391.1,372.8 L394.3,371.4 L397.6,370.0 L400.9,368.8 L404.2,367.7 L407.6,366.7 L411.1,365.8 L414.6,365.1 L418.2,364.6 L421.8,364.3 L425.4,364.1 L429.1,364.3 L432.7,364.7 L436.3,365.4 L439.8,366.4 L443.2,367.8 L446.5,369.4 L449.6,371.3 L452.5,373.4 L455.3,375.6 L458.0,378.1 L460.4,380.6 L462.8,383.1 L465.1,385.7 L467.3,388.3 L469.5,390.9 L471.6,393.5 L473.7,396.1 L475.6,398.8 L477.4,401.6 L479.1,404.5 L480.5,407.5 L481.7,410.6 L482.7,413.8 L483.4,417.1 L483.8,420.3 L484.2,423.6 L484.4,426.8 L484.6,430.0 L484.8,433.2 L485.0,436.4 L485.2,439.6 L485.4,442.8 L485.6,446.1 L485.6,449.4 L485.3,452.7 L484.8,455.9 L483.9,459.1 L482.6,462.1 L480.9,465.0 L478.7,467.6 L476.3,469.9 L473.6,471.9 L470.7,473.7 L467.7,475.2 L464.7,476.6 L461.8,477.8 L459.0,479.0 L456.4,480.2 L453.9,481.4 L451.5,482.7 L449.1,484.0 L446.8,485.3 L444.5,486.6 L442.1,487.9 L439.8,489.2 L437.3,490.4 L434.8,491.5 L432.3,492.6 L429.6,493.6 L427.0,494.6 L424.2,495.6 L421.4,496.7 L418.5,497.7 L415.5,498.8 L412.4,499.8 L409.1,500.7 L405.8,501.4 L402.4,501.8 L398.9,501.8 L395.5,501.5 L392.2,500.7 L389.1,499.5 L386.1,497.8 L383.4,495.9 L380.9,493.6 L378.6,491.1 L376.4,488.5 L374.4,485.9 L372.5,483.2 L370.6,480.6 L368.6,478.1 L366.6,475.6 L364.6,473.1 L362.5,470.6 L360.4,468.0 L358.4,465.3 L356.5,462.5 L354.7,459.6 L353.2,456.5 L351.8,453.3 L350.7,450.0 L349.8,446.7 L349.1,443.2 L348.6,439.8Z" fill="#64ff00"/>
<path d="M352.6,436.3 L352.4,433.0 L352.4,429.7 L352.6,426.3 L352.9,422.9 L353.5,419.6 L354.3,416.3 L355.2,413.0 L356.5,409.8 L357.9,406.7 L359.5,403.7 L361.3,400.8 L363.3,398.1 L365.5,395.5 L367.8,393.0 L370.2,390.6 L372.8,388.4 L375.4,386.3 L378.2,384.4 L381.0,382.6 L383.9,380.9 L386.8,379.4 L389.8,378.1 L392.9,376.8 L395.9,375.7 L399.1,374.6 L402.2,373.6 L405.3,372.7 L408.5,371.9 L411.8,371.2 L415.0,370.5 L418.3,370.0 L421.7,369.7 L425.0,369.5 L428.4,369.7 L431.8,370.1 L435.1,370.8 L438.3,371.9 L441.4,373.2 L444.4,374.8 L447.2,376.6 L449.9,378.6 L452.5,380.7 L454.9,382.9 L457.3,385.1 L459.6,387.3 L461.9,389.4 L464.1,391.6 L466.4,393.8 L468.6,396.1 L470.7,398.5 L472.6,400.9 L474.4,403.5 L475.9,406.3 L477.2,409.2 L478.2,412.2 L478.9,415.3 L479.3,418.4 L479.5,421.5 L479.6,424.6 L479.6,427.7 L479.7,430.6 L479.8,433.6 L479.9,436.5 L480.1,439.5 L480.4,442.5 L480.6,445.5 L480.6,448.5 L480.5,451.6 L480.0,454.6 L479.1,457.5 L477.9,460.3 L476.2,462.9 L474.2,465.3 L471.8,467.4 L469.2,469.2 L466.4,470.7 L463.6,472.0 L460.7,473.1 L458.0,474.1 L455.3,475.1 L452.8,476.0 L450.4,476.9 L448.1,477.9 L445.9,478.9 L443.8,479.9 L441.6,481.0 L439.5,482.0 L437.4,483.0 L435.2,484.0 L433.0,484.9 L430.7,485.8 L428.5,486.7 L426.1,487.6 L423.7,488.5 L421.3,489.5 L418.7,490.4 L416.1,491.3 L413.3,492.2 L410.5,492.9 L407.6,493.4 L404.6,493.6 L401.6,493.5 L398.7,493.1 L395.9,492.4 L393.2,491.3 L390.6,489.9 L388.2,488.2 L385.9,486.4 L383.8,484.4 L381.7,482.4 L379.7,480.3 L377.8,478.2 L375.8,476.2 L373.7,474.1 L371.7,472.0 L369.5,469.9 L367.4,467.8 L365.3,465.5 L363.3,463.1 L361.3,460.6 L359.6,458.0 L357.9,455.2 L356.5,452.3 L355.3,449.2 L354.4,446.1 L353.6,442.9 L353.0,439.6Z" fill="#b9ff00"/>
<path d="M357.9,436.5 L357.9,433.4 L358.1,430.4 L358.5,427.3 L359.2,424.4 L360.1,421.4 L361.2,418.6 L362.4,415.8 L363.8,413.1 L365.3,410.5 L367.0,408.0 L368.7,405.5 L370.6,403.2 L372.6,401.0 L374.6,398.9 L376.8,396.9 L379.1,395.1 L381.5,393.4 L384.0,391.8 L386.5,390.4 L389.1,389.1 L391.6,387.9 L394.2,386.8 L396.8,385.7 L399.4,384.6 L402.0,383.5 L404.6,382.4 L407.3,381.4 L410.0,380.3 L412.8,379.3 L415.6,378.5 L418.5,377.8 L421.5,377.3 L424.5,377.0 L427.5,377.1 L430.5,377.4 L433.5,378.1 L436.3,379.0 L439.1,380.2 L441.8,381.6 L444.3,383.2 L446.8,384.8 L449.1,386.6 L451.4,388.4 L453.6,390.2 L455.8,392.1 L458.0,393.9 L460.2,395.8 L462.2,397.8 L464.3,399.8 L466.2,401.9 L468.0,404.2 L469.6,406.6 L471.0,409.1 L472.2,411.7 L473.2,414.4 L473.9,417.2 L474.5,420.0 L474.9,422.8 L475.1,425.6 L475.2,428.4 L475.3,431.2 L475.3,433.9 L475.3,436.6 L475.3,439.4 L475.2,442.1 L475.0,444.8 L474.7,447.5 L474.2,450.2 L473.5,452.8 L472.6,455.4 L471.4,457.8 L470.0,460.1 L468.3,462.3 L466.4,464.3 L464.3,466.1 L462.1,467.6 L459.8,469.0 L457.4,470.2 L455.0,471.3 L452.6,472.3 L450.3,473.2 L448.1,474.0 L445.9,474.8 L443.8,475.5 L441.7,476.3 L439.7,477.1 L437.7,477.9 L435.7,478.7 L433.7,479.5 L431.7,480.3 L429.7,481.2 L427.6,482.0 L425.5,482.8 L423.4,483.6 L421.1,484.3 L418.8,485.0 L416.5,485.5 L414.1,486.0 L411.6,486.3 L409.1,486.5 L406.6,486.5 L404.0,486.3 L401.5,486.0 L399.0,485.4 L396.5,484.6 L394.1,483.7 L391.8,482.5 L389.5,481.3 L387.4,479.8 L385.3,478.3 L383.2,476.6 L381.2,474.9 L379.3,473.1 L377.4,471.2 L375.5,469.3 L373.7,467.3 L371.8,465.3 L370.0,463.1 L368.3,460.9 L366.5,458.6 L364.9,456.2 L363.3,453.7 L361.9,451.0 L360.7,448.3 L359.6,445.4 L358.8,442.5 L358.2,439.5Z" fill="#ffff00"/>
<path d="M363.2,436.6 L363.3,433.8 L363.8,431.1 L364.5,428.4 L365.5,425.8 L366.8,423.3 L368.1,420.9 L369.6,418.6 L371.2,416.4 L372.8,414.2 L374.4,412.2 L376.1,410.2 L377.8,408.3 L379.6,406.5 L381.5,404.8 L383.5,403.2 L385.5,401.8 L387.6,400.5 L389.8,399.3 L392.0,398.3 L394.2,397.3 L396.4,396.4 L398.6,395.5 L400.7,394.6 L402.8,393.5 L404.9,392.4 L407.1,391.2 L409.2,390.0 L411.4,388.7 L413.8,387.5 L416.2,386.4 L418.7,385.5 L421.3,384.8 L423.9,384.5 L426.6,384.4 L429.2,384.7 L431.8,385.3 L434.4,386.1 L436.8,387.2 L439.1,388.4 L441.4,389.7 L443.6,391.1 L445.8,392.5 L447.9,394.0 L450.0,395.4 L452.1,396.9 L454.1,398.4 L456.2,400.0 L458.1,401.7 L460.0,403.5 L461.7,405.4 L463.4,407.5 L464.8,409.6 L466.1,411.9 L467.2,414.2 L468.2,416.6 L469.0,419.1 L469.7,421.6 L470.2,424.1 L470.6,426.6 L470.8,429.2 L470.9,431.7 L470.9,434.2 L470.8,436.8 L470.5,439.2 L470.0,441.7 L469.5,444.1 L468.8,446.5 L468.0,448.8 L467.1,451.0 L466.0,453.2 L464.9,455.3 L463.7,457.4 L462.4,459.3 L460.9,461.2 L459.4,462.9 L457.7,464.6 L455.9,466.0 L454.0,467.4 L452.0,468.5 L450.0,469.5 L447.9,470.3 L445.8,471.0 L443.7,471.6 L441.6,472.1 L439.6,472.6 L437.7,473.2 L435.8,473.7 L434.0,474.3 L432.2,475.0 L430.5,475.8 L428.7,476.5 L426.8,477.3 L424.9,478.0 L423.0,478.6 L421.0,479.2 L419.0,479.5 L416.9,479.8 L414.8,479.8 L412.7,479.8 L410.6,479.6 L408.5,479.4 L406.4,479.1 L404.3,478.8 L402.1,478.4 L399.9,477.9 L397.7,477.4 L395.4,476.8 L393.2,476.1 L390.9,475.2 L388.8,474.2 L386.7,473.0 L384.7,471.6 L382.8,470.1 L381.1,468.4 L379.4,466.6 L377.8,464.7 L376.3,462.8 L374.8,460.8 L373.2,458.7 L371.7,456.6 L370.2,454.5 L368.7,452.2 L367.3,449.8 L366.0,447.4 L364.9,444.8 L364.0,442.1 L363.5,439.4Z" fill="#ffbf00"/>
<path d="M373.7,436.9 L373.7,434.6 L373.9,432.3 L374.4,430.1 L375.0,427.9 L375.9,425.8 L376.9,423.8 L378.0,421.8 L379.3,420.0 L380.7,418.2 L382.2,416.6 L383.7,415.0 L385.4,413.6 L387.1,412.3 L388.8,411.1 L390.6,410.0 L392.4,409.1 L394.3,408.2 L396.1,407.4 L398.0,406.7 L399.8,406.1 L401.6,405.5 L403.3,404.8 L405.0,404.2 L406.7,403.5 L408.3,402.7 L410.0,401.9 L411.7,401.0 L413.4,400.1 L415.2,399.1 L417.1,398.2 L419.0,397.4 L421.0,396.6 L423.1,396.0 L425.2,395.6 L427.4,395.3 L429.6,395.3 L431.7,395.5 L433.9,396.0 L436.0,396.6 L438.0,397.4 L440.0,398.3 L441.9,399.4 L443.7,400.5 L445.5,401.8 L447.3,403.1 L448.9,404.5 L450.6,405.9 L452.1,407.4 L453.7,409.0 L455.1,410.6 L456.5,412.3 L457.7,414.1 L458.9,416.0 L459.9,417.9 L460.8,419.9 L461.5,422.0 L462.1,424.1 L462.6,426.2 L463.0,428.3 L463.3,430.5 L463.4,432.6 L463.5,434.8 L463.4,436.9 L463.3,439.1 L463.1,441.2 L462.8,443.3 L462.4,445.3 L461.8,447.4 L461.2,449.4 L460.4,451.4 L459.5,453.3 L458.5,455.1 L457.3,456.8 L456.0,458.4 L454.5,459.9 L453.0,461.2 L451.3,462.4 L449.6,463.5 L447.8,464.5 L446.0,465.3 L444.2,466.1 L442.4,466.7 L440.7,467.3 L439.0,467.9 L437.3,468.5 L435.6,469.1 L434.0,469.6 L432.4,470.2 L430.8,470.8 L429.2,471.3 L427.6,471.8 L426.0,472.3 L424.3,472.8 L422.6,473.1 L420.9,473.4 L419.1,473.5 L417.4,473.6 L415.6,473.6 L413.8,473.6 L412.0,473.4 L410.2,473.2 L408.4,473.0 L406.6,472.7 L404.8,472.3 L402.9,471.9 L401.1,471.4 L399.2,470.8 L397.4,470.1 L395.6,469.3 L393.8,468.4 L392.1,467.3 L390.4,466.2 L388.8,464.9 L387.3,463.5 L385.8,462.1 L384.5,460.5 L383.1,458.9 L381.9,457.2 L380.6,455.4 L379.5,453.6 L378.4,451.8 L377.3,449.8 L376.4,447.8 L375.5,445.7 L374.8,443.6 L374.2,441.4 L373.8,439.1Z" fill="#ff8000"/>
<path d="M384.1,432.7 L393.4,418.8 L413.4,412.6 L434.8,405.0 L447.4,415.1 L453.6,425.1 L456.1,437.7 L453.6,450.2 L444.8,459.0 L432.3,465.3 L419.7,467.8 L404.7,464.8 L393.4,457.8 L387.1,447.7Z" fill="#ff4000"/>
<path d="M397.1,431.4 L413.4,422.6 L433.5,419.6 L441.1,427.6 L448.6,442.7 L443.6,450.2 L432.3,456.5 L405.9,459.0 L400.9,445.2Z" fill="#ff0000"/>
<path d="M288.2,434.8 L287.8,428.2 L288.0,421.7 L288.8,415.2 L290.3,408.9 L292.4,402.7 L295.1,396.7 L298.4,391.1 L302.1,385.8 L306.3,380.8 L310.8,376.1 L315.5,371.8 L320.3,367.8 L325.3,364.1 L330.2,360.6 L335.2,357.3 L340.1,354.1 L345.0,351.1 L349.8,348.1 L354.6,345.2 L359.4,342.3 L364.1,339.4 L369.0,336.6 L373.8,333.9 L378.8,331.2 L383.9,328.7 L389.1,326.4 L394.5,324.3 L399.9,322.4 L405.5,320.8 L411.3,319.5 L417.1,318.5 L422.9,317.9 L428.9,317.7 L434.8,317.8 L440.8,318.4 L446.7,319.3 L452.5,320.6 L458.2,322.3 L463.8,324.3 L469.3,326.7 L474.6,329.5 L479.7,332.6 L484.6,336.0 L489.3,339.7 L493.7,343.6 L497.9,347.7 L501.8,352.1 L505.5,356.6 L509.0,361.2 L512.3,366.0 L515.4,370.8 L518.3,375.8 L521.1,380.7 L523.7,385.8 L526.2,390.9 L528.6,396.1 L530.9,401.4 L533.0,406.7 L535.0,412.2 L536.9,417.7 L538.5,423.4 L539.9,429.2 L541.0,435.0 L541.7,441.0 L542.1,447.0 L542.2,453.1 L541.8,459.1 L540.9,465.2 L539.6,471.1 L537.9,476.9 L535.7,482.6 L533.1,488.1 L530.1,493.4 L526.7,498.4 L523.0,503.2 L519.0,507.7 L514.7,511.9 L510.2,515.8 L505.5,519.4 L500.7,522.8 L495.8,525.8 L490.8,528.7 L485.7,531.3 L480.6,533.7 L475.5,535.9 L470.3,538.0 L465.2,539.9 L460.0,541.7 L454.8,543.4 L449.6,545.1 L444.4,546.6 L439.1,548.0 L433.7,549.4 L428.3,550.7 L422.8,551.8 L417.2,552.7 L411.5,553.5 L405.7,554.0 L399.8,554.3 L393.9,554.2 L388.0,553.7 L382.1,552.9 L376.2,551.6 L370.4,549.8 L364.8,547.6 L359.4,544.9 L354.2,541.9 L349.3,538.4 L344.6,534.6 L340.3,530.4 L336.1,526.1 L332.3,521.5 L328.6,516.8 L325.2,512.0 L321.9,507.1 L318.7,502.2 L315.5,497.2 L312.4,492.2 L309.3,487.1 L306.3,481.9 L303.3,476.6 L300.3,471.1 L297.6,465.5 L295.0,459.7 L292.7,453.7 L290.7,447.5 L289.2,441.2Z" fill="none" stroke="#000" stroke-opacity="0.85" stroke-width="0.75" stroke-linejoin="round"/>
<path d="M312.3,435.4 L312.1,430.0 L312.2,424.7 L312.6,419.4 L313.5,414.1 L314.7,408.9 L316.4,403.8 L318.6,398.9 L321.1,394.2 L324.0,389.7 L327.2,385.4 L330.6,381.4 L334.1,377.5 L337.7,373.8 L341.4,370.2 L345.1,366.7 L348.8,363.3 L352.6,359.9 L356.4,356.5 L360.3,353.2 L364.3,350.0 L368.5,347.0 L372.8,344.2 L377.3,341.6 L382.0,339.4 L386.8,337.4 L391.7,335.8 L396.8,334.5 L401.9,333.6 L407.0,332.9 L412.2,332.5 L417.4,332.5 L422.6,332.7 L427.7,333.2 L432.8,334.1 L437.8,335.4 L442.7,337.0 L447.4,338.9 L452.1,340.9 L456.6,343.2 L461.0,345.6 L465.3,348.1 L469.4,350.8 L473.4,353.7 L477.2,356.8 L480.7,360.2 L484.0,363.8 L487.2,367.5 L490.2,371.2 L493.1,375.0 L495.9,378.7 L498.8,382.5 L501.7,386.3 L504.5,390.1 L507.2,394.1 L509.8,398.2 L512.3,402.4 L514.6,406.7 L516.8,411.2 L518.7,415.8 L520.4,420.6 L522.0,425.4 L523.3,430.4 L524.5,435.4 L525.4,440.6 L526.0,445.8 L526.3,451.1 L526.2,456.4 L525.7,461.7 L524.7,467.0 L523.0,472.0 L520.6,476.8 L517.5,481.2 L513.7,485.2 L509.4,488.6 L504.7,491.7 L499.9,494.3 L495.2,496.7 L490.7,499.0 L486.4,501.2 L482.4,503.6 L478.7,506.0 L475.1,508.6 L471.6,511.2 L468.1,513.9 L464.5,516.6 L460.9,519.2 L457.1,521.7 L453.2,524.0 L449.1,526.0 L444.9,527.8 L440.5,529.4 L436.1,530.7 L431.6,531.9 L427.0,533.0 L422.4,533.9 L417.6,534.8 L412.8,535.6 L407.9,536.2 L402.9,536.7 L397.8,537.0 L392.6,537.0 L387.4,536.7 L382.2,536.0 L377.1,534.9 L372.0,533.3 L367.1,531.3 L362.4,528.9 L357.9,526.1 L353.7,523.0 L349.6,519.6 L345.8,515.9 L342.2,512.1 L338.9,508.0 L335.7,503.8 L332.7,499.5 L330.0,495.0 L327.5,490.4 L325.1,485.8 L323.0,481.0 L321.1,476.1 L319.4,471.2 L317.9,466.3 L316.5,461.2 L315.3,456.2 L314.3,451.0 L313.4,445.9 L312.7,440.6Z" fill="none" stroke="#000" stroke-opacity="0.85" stroke-width="0.75" stroke-linejoin="round"/>
<path d="M327.0,435.7 L326.6,431.1 L326.3,426.4 L326.4,421.8 L326.8,417.1 L327.6,412.4 L328.8,407.9 L330.4,403.4 L332.3,399.1 L334.6,395.0 L337.1,391.0 L339.8,387.2 L342.6,383.5 L345.5,379.8 L348.5,376.3 L351.5,372.8 L354.6,369.3 L357.8,365.9 L361.1,362.5 L364.6,359.3 L368.3,356.3 L372.1,353.5 L376.2,350.9 L380.4,348.6 L384.8,346.6 L389.3,344.9 L393.8,343.5 L398.5,342.3 L403.2,341.4 L408.0,340.6 L412.8,340.0 L417.6,339.7 L422.4,339.6 L427.2,339.7 L432.1,340.3 L436.8,341.2 L441.5,342.5 L446.0,344.1 L450.4,346.0 L454.7,348.0 L458.9,350.3 L462.9,352.7 L466.9,355.3 L470.6,358.1 L474.2,361.1 L477.5,364.3 L480.6,367.7 L483.5,371.3 L486.3,374.9 L489.0,378.5 L491.5,382.2 L494.0,385.9 L496.4,389.6 L498.6,393.5 L500.8,397.4 L502.7,401.3 L504.5,405.4 L506.1,409.6 L507.6,413.8 L508.9,418.0 L510.2,422.4 L511.4,426.7 L512.5,431.2 L513.5,435.7 L514.4,440.3 L515.2,445.0 L515.6,449.8 L515.8,454.6 L515.5,459.4 L514.7,464.2 L513.2,468.8 L511.1,473.2 L508.4,477.2 L505.0,480.8 L501.1,483.9 L496.9,486.7 L492.6,489.1 L488.3,491.3 L484.3,493.5 L480.5,495.6 L476.9,497.8 L473.6,500.1 L470.3,502.5 L467.1,504.9 L463.9,507.3 L460.6,509.7 L457.3,512.0 L453.7,514.1 L450.1,516.1 L446.4,517.8 L442.5,519.4 L438.6,520.8 L434.6,522.0 L430.5,523.2 L426.4,524.3 L422.1,525.3 L417.8,526.3 L413.4,527.3 L408.9,528.1 L404.3,528.7 L399.5,529.1 L394.8,529.2 L390.0,528.9 L385.2,528.3 L380.5,527.2 L375.9,525.7 L371.4,523.8 L367.1,521.5 L363.1,518.8 L359.2,515.9 L355.6,512.6 L352.2,509.2 L349.1,505.5 L346.2,501.7 L343.6,497.6 L341.2,493.5 L339.1,489.2 L337.3,484.9 L335.7,480.4 L334.3,476.0 L333.2,471.5 L332.2,467.0 L331.3,462.5 L330.5,458.1 L329.7,453.7 L329.0,449.2 L328.3,444.8 L327.6,440.3Z" fill="none" stroke="#000" stroke-opacity="0.85" stroke-width="0.75" stroke-linejoin="round"/>
<path d="M334.6,435.9 L334.5,431.7 L334.5,427.5 L334.7,423.2 L335.2,419.0 L336.0,414.7 L337.0,410.6 L338.3,406.5 L340.0,402.5 L341.9,398.7 L344.1,395.0 L346.5,391.4 L349.0,388.0 L351.7,384.7 L354.5,381.5 L357.4,378.4 L360.4,375.4 L363.4,372.4 L366.6,369.5 L369.8,366.7 L373.2,364.0 L376.7,361.5 L380.3,359.1 L384.1,357.0 L388.0,355.0 L392.0,353.3 L396.2,351.9 L400.4,350.7 L404.7,349.7 L409.0,348.9 L413.4,348.3 L417.8,347.9 L422.2,347.7 L426.7,347.8 L431.1,348.2 L435.4,349.0 L439.7,350.1 L443.9,351.5 L448.0,353.2 L452.0,355.1 L455.8,357.3 L459.5,359.6 L463.0,362.2 L466.3,364.9 L469.3,367.9 L472.2,371.1 L474.8,374.5 L477.3,377.9 L479.6,381.3 L481.8,384.7 L484.0,388.0 L486.2,391.4 L488.3,394.7 L490.4,398.1 L492.3,401.6 L494.1,405.1 L495.7,408.8 L497.1,412.5 L498.3,416.3 L499.4,420.2 L500.2,424.1 L501.0,428.0 L501.7,432.0 L502.3,436.0 L502.9,440.0 L503.3,444.1 L503.5,448.3 L503.5,452.5 L503.2,456.7 L502.5,460.8 L501.3,464.8 L499.5,468.7 L497.2,472.2 L494.4,475.5 L491.2,478.3 L487.7,480.9 L484.1,483.2 L480.5,485.2 L477.0,487.2 L473.6,489.1 L470.5,491.0 L467.5,493.0 L464.6,495.1 L461.7,497.3 L458.9,499.5 L456.1,501.6 L453.1,503.7 L450.0,505.7 L446.8,507.5 L443.5,509.2 L440.1,510.6 L436.6,511.9 L433.0,513.1 L429.4,514.2 L425.7,515.3 L421.9,516.4 L418.0,517.5 L414.1,518.6 L409.9,519.6 L405.7,520.5 L401.3,521.2 L396.9,521.5 L392.4,521.4 L388.0,520.9 L383.8,519.8 L379.6,518.2 L375.8,516.1 L372.2,513.5 L368.9,510.6 L365.9,507.3 L363.1,503.9 L360.6,500.4 L358.3,496.8 L356.0,493.2 L353.9,489.6 L351.8,486.1 L349.7,482.5 L347.7,479.0 L345.8,475.4 L343.9,471.7 L342.2,468.0 L340.6,464.2 L339.2,460.3 L338.0,456.4 L337.0,452.4 L336.2,448.3 L335.5,444.2 L335.0,440.1Z" fill="none" stroke="#000" stroke-opacity="0.85" stroke-width="0.75" stroke-linejoin="round"/>
<path d="M343.9,436.1 L343.8,432.4 L343.8,428.6 L344.0,424.8 L344.3,421.0 L344.7,417.2 L345.4,413.4 L346.4,409.6 L347.6,405.9 L349.2,402.4 L351.1,399.0 L353.3,395.8 L355.8,392.8 L358.5,390.0 L361.3,387.4 L364.3,385.0 L367.4,382.7 L370.5,380.6 L373.6,378.6 L376.7,376.5 L379.8,374.6 L383.0,372.6 L386.1,370.7 L389.4,368.9 L392.7,367.1 L396.0,365.5 L399.5,364.0 L403.1,362.6 L406.7,361.5 L410.4,360.5 L414.2,359.7 L418.1,359.2 L421.9,358.8 L425.8,358.8 L429.8,358.9 L433.7,359.3 L437.5,360.0 L441.3,361.0 L445.0,362.4 L448.6,364.0 L452.0,365.9 L455.2,368.1 L458.2,370.6 L461.0,373.3 L463.6,376.1 L466.1,379.0 L468.3,382.0 L470.5,384.9 L472.6,387.9 L474.7,390.8 L476.7,393.8 L478.6,396.7 L480.5,399.7 L482.2,402.7 L483.9,405.9 L485.3,409.1 L486.5,412.4 L487.4,415.7 L488.2,419.1 L488.7,422.6 L489.1,426.0 L489.5,429.4 L489.7,432.9 L490.0,436.3 L490.3,439.7 L490.5,443.2 L490.6,446.7 L490.5,450.2 L490.2,453.8 L489.7,457.3 L488.7,460.7 L487.3,464.0 L485.5,467.0 L483.3,469.9 L480.7,472.4 L477.9,474.7 L474.9,476.7 L471.8,478.4 L468.7,480.0 L465.7,481.5 L462.8,482.9 L460.0,484.4 L457.4,485.9 L454.8,487.4 L452.3,489.0 L449.8,490.7 L447.3,492.3 L444.8,493.9 L442.1,495.4 L439.4,496.8 L436.6,498.1 L433.8,499.3 L430.8,500.4 L427.8,501.6 L424.8,502.7 L421.6,503.8 L418.4,505.0 L415.0,506.2 L411.4,507.4 L407.8,508.5 L404.0,509.4 L400.1,509.9 L396.2,510.1 L392.3,509.8 L388.5,509.0 L384.9,507.7 L381.6,505.8 L378.5,503.5 L375.8,500.8 L373.3,497.8 L371.1,494.7 L369.1,491.5 L367.2,488.3 L365.3,485.1 L363.5,482.1 L361.6,479.1 L359.6,476.2 L357.6,473.4 L355.6,470.4 L353.6,467.5 L351.7,464.4 L349.9,461.2 L348.4,457.8 L347.0,454.4 L346.0,450.8 L345.2,447.2 L344.6,443.6 L344.2,439.9Z" fill="none" stroke="#000" stroke-opacity="0.85" stroke-width="0.75" stroke-linejoin="round"/>
<path d="M352.6,436.3 L352.4,433.0 L352.4,429.7 L352.6,426.3 L352.9,422.9 L353.5,419.6 L354.3,416.3 L355.2,413.0 L356.5,409.8 L357.9,406.7 L359.5,403.7 L361.3,400.8 L363.3,398.1 L365.5,395.5 L367.8,393.0 L370.2,390.6 L372.8,388.4 L375.4,386.3 L378.2,384.4 L381.0,382.6 L383.9,380.9 L386.8,379.4 L389.8,378.1 L392.9,376.8 L395.9,375.7 L399.1,374.6 L402.2,373.6 L405.3,372.7 L408.5,371.9 L411.8,371.2 L415.0,370.5 L418.3,370.0 L421.7,369.7 L425.0,369.5 L428.4,369.7 L431.8,370.1 L435.1,370.8 L438.3,371.9 L441.4,373.2 L444.4,374.8 L447.2,376.6 L449.9,378.6 L452.5,380.7 L454.9,382.9 L457.3,385.1 L459.6,387.3 L461.9,389.4 L464.1,391.6 L466.4,393.8 L468.6,396.1 L470.7,398.5 L472.6,400.9 L474.4,403.5 L475.9,406.3 L477.2,409.2 L478.2,412.2 L478.9,415.3 L479.3,418.4 L479.5,421.5 L479.6,424.6 L479.6,427.7 L479.7,430.6 L479.8,433.6 L479.9,436.5 L480.1,439.5 L480.4,442.5 L480.6,445.5 L480.6,448.5 L480.5,451.6 L480.0,454.6 L479.1,457.5 L477.9,460.3 L476.2,462.9 L474.2,465.3 L471.8,467.4 L469.2,469.2 L466.4,470.7 L463.6,472.0 L460.7,473.1 L458.0,474.1 L455.3,475.1 L452.8,476.0 L450.4,476.9 L448.1,477.9 L445.9,478.9 L443.8,479.9 L441.6,481.0 L439.5,482.0 L437.4,483.0 L435.2,484.0 L433.0,484.9 L430.7,485.8 L428.5,486.7 L426.1,487.6 L423.7,488.5 L421.3,489.5 L418.7,490.4 L416.1,491.3 L413.3,492.2 L410.5,492.9 L407.6,493.4 L404.6,493.6 L401.6,493.5 L398.7,493.1 L395.9,492.4 L393.2,491.3 L390.6,489.9 L388.2,488.2 L385.9,486.4 L383.8,484.4 L381.7,482.4 L379.7,480.3 L377.8,478.2 L375.8,476.2 L373.7,474.1 L371.7,472.0 L369.5,469.9 L367.4,467.8 L365.3,465.5 L363.3,463.1 L361.3,460.6 L359.6,458.0 L357.9,455.2 L356.5,452.3 L355.3,449.2 L354.4,446.1 L353.6,442.9 L353.0,439.6Z" fill="none" stroke="#000" stroke-opacity="0.85" stroke-width="0.75" stroke-linejoin="round"/>
<path d="M363.2,436.6 L363.3,433.8 L363.8,431.1 L364.5,428.4 L365.5,425.8 L366.8,423.3 L368.1,420.9 L369.6,418.6 L371.2,416.4 L372.8,414.2 L374.4,412.2 L376.1,410.2 L377.8,408.3 L379.6,406.5 L381.5,404.8 L383.5,403.2 L385.5,401.8 L387.6,400.5 L389.8,399.3 L392.0,398.3 L394.2,397.3 L396.4,396.4 L398.6,395.5 L400.7,394.6 L402.8,393.5 L404.9,392.4 L407.1,391.2 L409.2,390.0 L411.4,388.7 L413.8,387.5 L416.2,386.4 L418.7,385.5 L421.3,384.8 L423.9,384.5 L426.6,384.4 L429.2,384.7 L431.8,385.3 L434.4,386.1 L436.8,387.2 L439.1,388.4 L441.4,389.7 L443.6,391.1 L445.8,392.5 L447.9,394.0 L450.0,395.4 L452.1,396.9 L454.1,398.4 L456.2,400.0 L458.1,401.7 L460.0,403.5 L461.7,405.4 L463.4,407.5 L464.8,409.6 L466.1,411.9 L467.2,414.2 L468.2,416.6 L469.0,419.1 L469.7,421.6 L470.2,424.1 L470.6,426.6 L470.8,429.2 L470.9,431.7 L470.9,434.2 L470.8,436.8 L470.5,439.2 L470.0,441.7 L469.5,444.1 L468.8,446.5 L468.0,448.8 L467.1,451.0 L466.0,453.2 L464.9,455.3 L463.7,457.4 L462.4,459.3 L460.9,461.2 L459.4,462.9 L457.7,464.6 L455.9,466.0 L454.0,467.4 L452.0,468.5 L450.0,469.5 L447.9,470.3 L445.8,471.0 L443.7,471.6 L441.6,472.1 L439.6,472.6 L437.7,473.2 L435.8,473.7 L434.0,474.3 L432.2,475.0 L430.5,475.8 L428.7,476.5 L426.8,477.3 L424.9,478.0 L423.0,478.6 L421.0,479.2 L419.0,479.5 L416.9,479.8 L414.8,479.8 L412.7,479.8 L410.6,479.6 L408.5,479.4 L406.4,479.1 L404.3,478.8 L402.1,478.4 L399.9,477.9 L397.7,477.4 L395.4,476.8 L393.2,476.1 L390.9,475.2 L388.8,474.2 L386.7,473.0 L384.7,471.6 L382.8,470.1 L381.1,468.4 L379.4,466.6 L377.8,464.7 L376.3,462.8 L374.8,460.8 L373.2,458.7 L371.7,456.6 L370.2,454.5 L368.7,452.2 L367.3,449.8 L366.0,447.4 L364.9,444.8 L364.0,442.1 L363.5,439.4Z" fill="none" stroke="#000" stroke-opacity="0.85" stroke-width="0.75" stroke-linejoin="round"/>
<path d="M384.1,432.7 L393.4,418.8 L413.4,412.6 L434.8,405.0 L447.4,415.1 L453.6,425.1 L456.1,437.7 L453.6,450.2 L444.8,459.0 L432.3,465.3 L419.7,467.8 L404.7,464.8 L393.4,457.8 L387.1,447.7Z" fill="none" stroke="#000" stroke-opacity="0.85" stroke-width="0.75" stroke-linejoin="round"/>
</g>
<rect x="298.9" y="327.4" width="229.2" height="212.8" fill="none" stroke="#000" stroke-width="1.3"/>
<path d="M298.5,540.6v4" stroke="#000" stroke-width="1.2"/>
<text transform="translate(297.3,555.3) scale(1.04,1)" text-anchor="middle" class="tk" font-size="9.8">-10</text>
<path d="M356.0,540.6v4" stroke="#000" stroke-width="1.2"/>
<text transform="translate(354.8,555.3) scale(1.04,1)" text-anchor="middle" class="tk" font-size="9.8">-5</text>
<path d="M413.5,540.6v4" stroke="#000" stroke-width="1.2"/>
<text transform="translate(413.5,555.3) scale(1.04,1)" text-anchor="middle" class="tk" font-size="9.8">0</text>
<path d="M471.0,540.6v4" stroke="#000" stroke-width="1.2"/>
<text transform="translate(471.0,555.3) scale(1.04,1)" text-anchor="middle" class="tk" font-size="9.8">5</text>
<path d="M528.5,540.6v4" stroke="#000" stroke-width="1.2"/>
<text transform="translate(528.5,555.3) scale(1.04,1)" text-anchor="middle" class="tk" font-size="9.8">10</text>
<path d="M327.2,540.6v2.5" stroke="#000" stroke-width="1.2"/>
<path d="M384.8,540.6v2.5" stroke="#000" stroke-width="1.2"/>
<path d="M442.2,540.6v2.5" stroke="#000" stroke-width="1.2"/>
<path d="M499.8,540.6v2.5" stroke="#000" stroke-width="1.2"/>
<path d="M298.5,359.0h-4" stroke="#000" stroke-width="1.2"/>
<text transform="translate(292.5,362.6) scale(1.04,1)" text-anchor="end" class="tk" font-size="9.8">5</text>
<path d="M298.5,412.4h-4" stroke="#000" stroke-width="1.2"/>
<text transform="translate(292.5,416.0) scale(1.04,1)" text-anchor="end" class="tk" font-size="9.8">0</text>
<path d="M298.5,465.8h-4" stroke="#000" stroke-width="1.2"/>
<text transform="translate(292.5,469.4) scale(1.04,1)" text-anchor="end" class="tk" font-size="9.8">-5</text>
<path d="M298.5,519.2h-4" stroke="#000" stroke-width="1.2"/>
<text transform="translate(292.5,522.8) scale(1.04,1)" text-anchor="end" class="tk" font-size="9.8">-10</text>
<path d="M298.5,332.3h-2.5" stroke="#000" stroke-width="1.2"/>
<path d="M298.5,385.7h-2.5" stroke="#000" stroke-width="1.2"/>
<path d="M298.5,439.1h-2.5" stroke="#000" stroke-width="1.2"/>
<path d="M298.5,492.5h-2.5" stroke="#000" stroke-width="1.2"/>
<text x="65.1" y="15.5" class="ti" font-size="21.0" xml:space="preserve" textLength="143.3" lengthAdjust="spacingAndGlyphs">S1  B<tspan font-size="13.9" dy="4.2">top</tspan><tspan dy="-4.2"> = 0.40 T</tspan></text>
<text x="267.5" y="15.5" class="ti" font-size="21">(a)</text>
<text x="346.5" y="19.0" class="ti" font-size="22.0" xml:space="preserve" textLength="135.5" lengthAdjust="spacingAndGlyphs">S3  B<tspan font-size="14.5" dy="4.4">top</tspan><tspan dy="-4.4">=0.50 T</tspan></text>
<text x="71.3" y="314.1" class="ti" font-size="21.5" xml:space="preserve" textLength="145.1" lengthAdjust="spacingAndGlyphs">S2  B<tspan font-size="14.2" dy="4.3">top</tspan><tspan dy="-4.3"> = 0.44 T</tspan></text>
<text x="263.5" y="314.1" class="ti" font-size="21">(b)</text>
<text x="353.9" y="315.2" class="ti" font-size="22.0" xml:space="preserve" textLength="140.9" lengthAdjust="spacingAndGlyphs">S4 B<tspan font-size="14.5" dy="4.4">top</tspan><tspan dy="-4.4"> = 0.56 T</tspan></text>
<text x="146.5" y="284.5" text-anchor="middle" class="ab" font-size="12.5" textLength="61.0" lengthAdjust="spacingAndGlyphs">X pos (mm)</text>
<text transform="translate(12.4,147.9) rotate(-90)" text-anchor="middle" class="ab" font-size="12.5" textLength="61.4" lengthAdjust="spacingAndGlyphs">Y pos (mm)</text>
<text x="412.7" y="285.8" text-anchor="middle" class="as" font-size="10.5" textLength="55.0" lengthAdjust="spacingAndGlyphs">X pos(mm)</text>
<text transform="translate(281.3,144.3) rotate(-90)" text-anchor="middle" class="as" font-size="11.3" textLength="57.0" lengthAdjust="spacingAndGlyphs">Y pos (mm)</text>
<text x="144.8" y="578.8" text-anchor="middle" class="ab" font-size="12.5" textLength="60.0" lengthAdjust="spacingAndGlyphs">X pos (mm)</text>
<text transform="translate(9.8,439.2) rotate(-90)" text-anchor="middle" class="ab" font-size="12.5" textLength="59.0" lengthAdjust="spacingAndGlyphs">Y pos (mm)</text>
<text x="413.0" y="575.0" text-anchor="middle" class="ab" font-size="11.3" textLength="54.3" lengthAdjust="spacingAndGlyphs">X pos (mm)</text>
<text transform="translate(279.3,439.3) rotate(-90)" text-anchor="middle" class="as" font-size="10.2" textLength="55.7" lengthAdjust="spacingAndGlyphs">Y pos (mm)</text>
<rect x="530.8" y="329.00" width="40.2" height="12.18" fill="#0000ff"/>
<rect x="530.8" y="340.88" width="40.2" height="12.18" fill="#0000ff"/>
<rect x="530.8" y="352.76" width="40.2" height="12.18" fill="#0040ff"/>
<rect x="530.8" y="364.63" width="40.2" height="12.18" fill="#0080ff"/>
<rect x="530.8" y="376.51" width="40.2" height="12.18" fill="#00bfff"/>
<rect x="530.8" y="388.39" width="40.2" height="12.18" fill="#00ffff"/>
<rect x="530.8" y="400.27" width="40.2" height="12.18" fill="#00ffbf"/>
<rect x="530.8" y="412.14" width="40.2" height="12.18" fill="#00ff80"/>
<rect x="530.8" y="424.02" width="40.2" height="12.18" fill="#00fc40"/>
<rect x="530.8" y="435.90" width="40.2" height="12.18" fill="#00f600"/>
<rect x="530.8" y="447.78" width="40.2" height="12.18" fill="#64ff00"/>
<rect x="530.8" y="459.66" width="40.2" height="12.18" fill="#b9ff00"/>
<rect x="530.8" y="471.53" width="40.2" height="12.18" fill="#ffff00"/>
<rect x="530.8" y="483.41" width="40.2" height="12.18" fill="#ffbf00"/>
<rect x="530.8" y="495.29" width="40.2" height="12.18" fill="#ff8000"/>
<rect x="530.8" y="507.17" width="40.2" height="12.18" fill="#ff4000"/>
<rect x="530.8" y="519.04" width="40.2" height="12.18" fill="#ff0000"/>
<rect x="530.8" y="530.92" width="40.2" height="11.88" fill="#ff0000"/>
<text x="576.7" y="346.6" class="cb" font-size="16">0.000</text>
<text x="576.7" y="370.3" class="cb" font-size="16">0.06000</text>
<text x="576.7" y="394.1" class="cb" font-size="16">0.1200</text>
<text x="576.7" y="417.8" class="cb" font-size="16">0.1800</text>
<text x="576.7" y="441.6" class="cb" font-size="16">0.2400</text>
<text x="576.7" y="465.4" class="cb" font-size="16">0.3000</text>
<text x="576.7" y="489.1" class="cb" font-size="16">0.3600</text>
<text x="576.7" y="512.9" class="cb" font-size="16">0.4200</text>
<text x="576.7" y="536.6" class="cb" font-size="16">0.4800</text>
</svg></body></html>
